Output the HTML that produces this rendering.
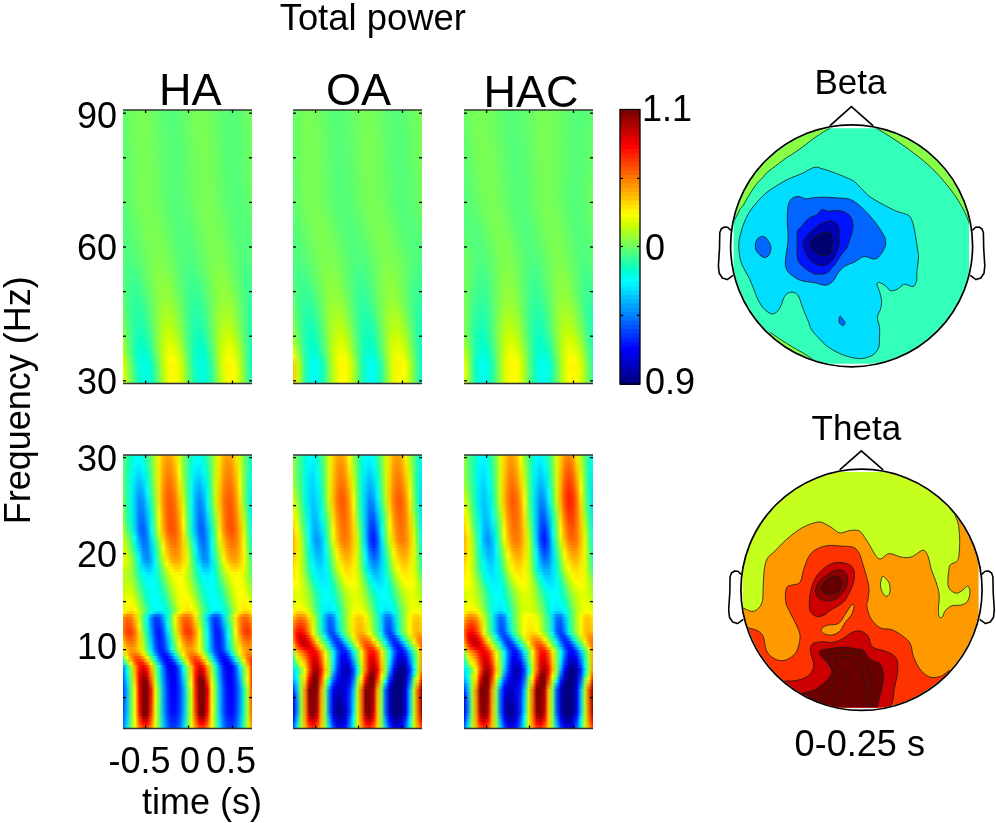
<!DOCTYPE html>
<html><head><meta charset="utf-8"><title>Total power</title>
<style>html,body{margin:0;padding:0;background:#fff;width:996px;height:823px;overflow:hidden;position:relative} svg{display:block} .hm{position:absolute;overflow:hidden} .hm p{margin:0;height:3px} .cl{fill:none;stroke:#1a1a1a;stroke-width:0.8} .cf{stroke:#1a1a1a;stroke-width:0.8}</style>
</head><body>
<div class="hm" style="left:123px;top:110px;width:129px;height:274px">
<p style="height:4px;background:linear-gradient(90deg,#5eff6e,#69ff63,#73ff59,#78ff54,#76ff56,#6fff5d,#63ff69,#59ff73,#54ff78,#55ff77,#5dff6f,#68ff64,#72ff5a,#78ff54,#77ff55,#6fff5d,#64ff68,#5aff72,#54ff78,#55ff77,#5dff6f,#67ff65,#72ff5a)"></p>
<p style="height:4px;background:linear-gradient(90deg,#5eff6e,#69ff63,#73ff59,#78ff54,#77ff55,#6fff5d,#64ff68,#5aff72,#54ff78,#55ff77,#5dff6f,#68ff64,#72ff5a,#78ff54,#77ff55,#70ff5c,#65ff67,#5aff72,#54ff78,#55ff77,#5cff70,#67ff65,#72ff5a)"></p>
<p style="height:4px;background:linear-gradient(90deg,#5dff6f,#68ff64,#73ff59,#78ff54,#77ff55,#6fff5d,#64ff68,#5aff72,#54ff78,#55ff77,#5cff70,#67ff65,#72ff5a,#78ff54,#77ff55,#70ff5c,#65ff67,#5bff71,#54ff78,#55ff77,#5cff70,#66ff66,#71ff5b)"></p>
<p style="height:4px;background:linear-gradient(90deg,#5dff6f,#68ff64,#72ff5a,#78ff54,#77ff55,#6fff5d,#64ff68,#5aff72,#54ff78,#55ff77,#5cff70,#67ff65,#72ff5a,#78ff54,#77ff55,#70ff5c,#66ff66,#5bff71,#54ff78,#55ff77,#5bff71,#66ff66,#71ff5b)"></p>
<p style="height:4px;background:linear-gradient(90deg,#5dff6f,#68ff64,#72ff5a,#78ff54,#77ff55,#70ff5c,#65ff67,#5aff72,#54ff78,#55ff77,#5cff70,#67ff65,#71ff5b,#78ff54,#77ff55,#71ff5b,#66ff66,#5bff71,#55ff77,#54ff78,#5bff71,#65ff67,#70ff5c)"></p>
<p style="height:4px;background:linear-gradient(90deg,#5cff70,#67ff65,#72ff5a,#78ff54,#77ff55,#70ff5c,#65ff67,#5bff71,#54ff78,#55ff77,#5bff71,#66ff66,#71ff5b,#77ff55,#78ff54,#71ff5b,#66ff66,#5cff70,#55ff77,#54ff78,#5aff72,#65ff67,#70ff5c)"></p>
<p style="height:4px;background:linear-gradient(90deg,#5cff70,#67ff65,#72ff5a,#78ff54,#77ff55,#70ff5c,#66ff66,#5bff71,#54ff78,#55ff77,#5bff71,#66ff66,#70ff5c,#77ff55,#78ff54,#71ff5b,#67ff65,#5cff70,#55ff77,#54ff78,#5aff72,#64ff68,#6fff5d)"></p>
<p style="height:4px;background:linear-gradient(90deg,#5cff70,#67ff65,#71ff5b,#78ff54,#77ff55,#71ff5b,#66ff66,#5bff71,#55ff77,#54ff78,#5bff71,#65ff67,#70ff5c,#77ff55,#78ff54,#72ff5a,#67ff65,#5cff70,#55ff77,#54ff78,#5aff72,#64ff68,#6fff5d)"></p>
<p style="height:4px;background:linear-gradient(90deg,#5cff70,#66ff66,#71ff5b,#77ff55,#77ff55,#71ff5b,#66ff66,#5cff70,#55ff77,#54ff78,#5aff72,#65ff67,#70ff5c,#77ff55,#78ff54,#72ff5a,#68ff64,#5dff6f,#55ff77,#54ff78,#59ff73,#64ff68,#6fff5d)"></p>
<p style="height:4px;background:linear-gradient(90deg,#5bff71,#66ff66,#71ff5b,#77ff55,#78ff54,#71ff5b,#67ff65,#5cff70,#55ff77,#54ff78,#5aff72,#65ff67,#6fff5d,#77ff55,#78ff54,#72ff5a,#68ff64,#5dff6f,#55ff77,#54ff78,#59ff73,#63ff69,#6eff5e)"></p>
<p style="height:4px;background:linear-gradient(90deg,#5bff71,#66ff66,#70ff5c,#77ff55,#78ff54,#72ff5a,#67ff65,#5cff70,#55ff77,#54ff78,#5aff72,#64ff68,#6fff5d,#77ff55,#78ff54,#73ff59,#69ff63,#5eff6e,#56ff76,#54ff78,#59ff73,#63ff69,#6eff5e)"></p>
<p style="height:4px;background:linear-gradient(90deg,#5bff71,#65ff67,#70ff5c,#77ff55,#78ff54,#72ff5a,#67ff65,#5dff6f,#55ff77,#54ff78,#5aff72,#64ff68,#6fff5d,#76ff56,#78ff54,#73ff59,#69ff63,#5eff6e,#56ff76,#54ff78,#58ff74,#62ff6a,#6dff5f)"></p>
<p style="height:4px;background:linear-gradient(90deg,#5bff71,#65ff67,#70ff5c,#77ff55,#78ff54,#72ff5a,#68ff64,#5dff6f,#55ff77,#54ff78,#59ff73,#63ff69,#6eff5e,#76ff56,#78ff54,#73ff59,#6aff62,#5eff6e,#56ff76,#54ff78,#58ff74,#62ff6a,#6dff5f)"></p>
<p style="height:4px;background:linear-gradient(90deg,#5aff72,#65ff67,#70ff5c,#77ff55,#78ff54,#72ff5a,#68ff64,#5dff6f,#55ff77,#54ff78,#59ff73,#63ff69,#6eff5e,#76ff56,#78ff54,#74ff58,#6aff62,#5fff6d,#56ff76,#54ff78,#58ff74,#61ff6b,#6cff60)"></p>
<p style="height:4px;background:linear-gradient(90deg,#5aff72,#64ff68,#6fff5d,#77ff55,#78ff54,#73ff59,#69ff63,#5eff6e,#56ff76,#54ff78,#59ff73,#63ff69,#6eff5e,#76ff56,#78ff54,#74ff58,#6aff62,#5fff6d,#57ff75,#54ff78,#57ff75,#61ff6b,#6cff60)"></p>
<p style="height:4px;background:linear-gradient(90deg,#5aff72,#64ff68,#6fff5d,#77ff55,#78ff54,#73ff59,#69ff63,#5eff6e,#56ff76,#54ff78,#58ff74,#62ff6a,#6dff5f,#76ff56,#78ff54,#74ff58,#6bff61,#60ff6c,#57ff75,#54ff78,#57ff75,#60ff6c,#6bff61)"></p>
<p style="height:4px;background:linear-gradient(90deg,#5aff72,#64ff68,#6fff5d,#76ff56,#78ff54,#73ff59,#69ff63,#5eff6e,#56ff76,#54ff78,#58ff74,#62ff6a,#6dff5f,#75ff57,#78ff54,#74ff58,#6bff61,#60ff6c,#57ff75,#54ff78,#57ff75,#60ff6c,#6bff61)"></p>
<p style="height:4px;background:linear-gradient(90deg,#59ff73,#63ff69,#6eff5e,#76ff56,#78ff54,#73ff59,#6aff62,#5fff6d,#56ff76,#54ff78,#58ff74,#61ff6b,#6cff60,#75ff57,#78ff54,#75ff57,#6cff60,#61ff6b,#57ff75,#54ff78,#57ff75,#5fff6d,#6aff62)"></p>
<p style="height:4px;background:linear-gradient(90deg,#59ff73,#63ff69,#6eff5e,#76ff56,#78ff54,#74ff58,#6aff62,#5fff6d,#56ff76,#54ff78,#58ff74,#61ff6b,#6cff60,#75ff57,#78ff54,#75ff57,#6cff60,#61ff6b,#58ff74,#54ff78,#56ff76,#5fff6d,#6aff62)"></p>
<p style="height:4px;background:linear-gradient(90deg,#59ff73,#63ff69,#6eff5e,#76ff56,#78ff54,#74ff58,#6aff62,#5fff6d,#57ff75,#54ff78,#57ff75,#61ff6b,#6cff60,#75ff57,#78ff54,#75ff57,#6dff5f,#61ff6b,#58ff74,#54ff78,#56ff76,#5eff6e,#69ff63)"></p>
<p style="height:4px;background:linear-gradient(90deg,#59ff73,#63ff69,#6eff5e,#76ff56,#78ff54,#74ff58,#6bff61,#60ff6c,#57ff75,#54ff78,#57ff75,#60ff6c,#6bff61,#74ff58,#78ff54,#75ff57,#6dff5f,#62ff6a,#58ff74,#54ff78,#56ff76,#5eff6e,#69ff63)"></p>
<p style="height:4px;background:linear-gradient(90deg,#59ff73,#62ff6a,#6dff5f,#76ff56,#78ff54,#74ff58,#6bff61,#60ff6c,#57ff75,#54ff78,#57ff75,#60ff6c,#6bff61,#74ff58,#78ff54,#76ff56,#6dff5f,#62ff6a,#59ff73,#54ff78,#56ff76,#5dff6f,#68ff64)"></p>
<p style="height:4px;background:linear-gradient(90deg,#58ff74,#62ff6a,#6dff5f,#75ff57,#78ff54,#74ff58,#6bff61,#60ff6c,#57ff75,#54ff78,#57ff75,#5fff6d,#6aff62,#74ff58,#78ff54,#76ff56,#6eff5e,#63ff69,#59ff73,#54ff78,#55ff77,#5dff6f,#68ff64)"></p>
<p style="height:4px;background:linear-gradient(90deg,#57ff75,#60ff6c,#6cff60,#75ff57,#79ff53,#76ff56,#6dff5f,#62ff6a,#58ff74,#53ff79,#56ff76,#5eff6e,#69ff63,#73ff59,#78ff54,#77ff55,#6fff5d,#64ff68,#5aff72,#54ff78,#54ff78,#5cff70,#66ff66)"></p>
<p style="height:4px;background:linear-gradient(90deg,#56ff76,#5eff6e,#6aff62,#74ff58,#79ff53,#77ff55,#6fff5d,#63ff69,#59ff73,#53ff79,#54ff78,#5cff70,#67ff65,#72ff5a,#79ff53,#78ff54,#71ff5b,#66ff66,#5bff71,#54ff78,#54ff78,#5aff72,#65ff67)"></p>
<p style="height:4px;background:linear-gradient(90deg,#54ff78,#5dff6f,#68ff64,#73ff59,#79ff53,#78ff54,#70ff5c,#65ff67,#5aff72,#53ff79,#53ff79,#5bff71,#66ff66,#71ff5b,#78ff54,#79ff53,#72ff5a,#67ff65,#5cff70,#54ff78,#53ff79,#59ff73,#63ff69)"></p>
<p style="height:4px;background:linear-gradient(90deg,#53ff79,#5bff71,#66ff66,#72ff5a,#79ff53,#79ff53,#72ff5a,#67ff65,#5bff71,#53ff79,#53ff79,#59ff73,#64ff68,#70ff5c,#78ff54,#7aff52,#74ff58,#69ff63,#5dff6f,#54ff78,#52ff7a,#57ff75,#62ff6a)"></p>
<p style="height:4px;background:linear-gradient(90deg,#52ff7a,#59ff73,#65ff67,#71ff5b,#79ff53,#7aff52,#74ff58,#69ff63,#5cff70,#54ff78,#52ff7a,#57ff75,#62ff6a,#6fff5d,#78ff54,#7aff52,#75ff57,#6bff61,#5eff6e,#55ff77,#52ff7a,#56ff76,#60ff6c)"></p>
<p style="height:4px;background:linear-gradient(90deg,#51ff7b,#57ff75,#63ff69,#6fff5d,#78ff54,#7bff51,#75ff57,#6aff62,#5eff6e,#54ff78,#51ff7b,#56ff76,#61ff6b,#6dff5f,#77ff55,#7bff51,#77ff55,#6dff5f,#60ff6c,#55ff77,#51ff7b,#55ff77,#5eff6e)"></p>
<p style="height:4px;background:linear-gradient(90deg,#51ff7b,#56ff76,#61ff6b,#6dff5f,#78ff54,#7bff51,#77ff55,#6cff60,#5fff6d,#55ff77,#51ff7b,#54ff78,#5fff6d,#6cff60,#76ff56,#7bff51,#78ff54,#6eff5e,#61ff6b,#56ff76,#51ff7b,#53ff79,#5dff6f)"></p>
<p style="height:4px;background:linear-gradient(90deg,#50ff7c,#54ff78,#5fff6d,#6cff60,#77ff55,#7cff50,#78ff54,#6eff5e,#61ff6b,#56ff76,#51ff7b,#53ff79,#5dff6f,#6aff62,#75ff57,#7bff51,#79ff53,#70ff5c,#63ff69,#57ff75,#51ff7b,#52ff7a,#5bff71)"></p>
<p style="height:4px;background:linear-gradient(90deg,#50ff7c,#53ff79,#5cff70,#6aff62,#76ff56,#7cff50,#7aff52,#70ff5c,#63ff69,#57ff75,#50ff7c,#52ff7a,#5bff71,#68ff64,#74ff58,#7bff51,#7aff52,#72ff5a,#65ff67,#58ff74,#51ff7b,#51ff7b,#59ff73)"></p>
<p style="height:4px;background:linear-gradient(90deg,#50ff7c,#51ff7b,#5aff72,#68ff64,#74ff58,#7cff50,#7bff51,#72ff5a,#65ff67,#58ff74,#50ff7c,#51ff7b,#59ff73,#66ff66,#73ff59,#7bff51,#7bff51,#74ff58,#67ff65,#5aff72,#51ff7b,#50ff7c,#58ff74)"></p>
<p style="height:4px;background:linear-gradient(90deg,#50ff7c,#50ff7c,#58ff74,#66ff66,#73ff59,#7cff50,#7cff50,#74ff58,#67ff65,#5aff72,#51ff7b,#50ff7c,#57ff75,#64ff68,#72ff5a,#7bff51,#7cff50,#75ff57,#69ff63,#5bff71,#51ff7b,#50ff7c,#56ff76)"></p>
<p style="height:4px;background:linear-gradient(90deg,#51ff7b,#4fff7d,#57ff75,#64ff68,#71ff5b,#7bff51,#7dff4f,#76ff56,#69ff63,#5bff71,#51ff7b,#4fff7d,#55ff77,#62ff6a,#70ff5c,#7aff52,#7dff4f,#77ff55,#6bff61,#5cff70,#52ff7a,#4fff7d,#55ff77)"></p>
<p style="height:4px;background:linear-gradient(90deg,#51ff7b,#4fff7d,#55ff77,#61ff6b,#70ff5c,#7aff52,#7eff4e,#78ff54,#6bff61,#5dff6f,#52ff7a,#4eff7e,#54ff78,#60ff6c,#6fff5d,#7aff52,#7eff4e,#79ff53,#6dff5f,#5eff6e,#53ff79,#4eff7e,#53ff79)"></p>
<p style="height:4px;background:linear-gradient(90deg,#52ff7a,#4eff7e,#53ff79,#5fff6d,#6eff5e,#7aff52,#7eff4e,#79ff53,#6eff5e,#5fff6d,#53ff79,#4eff7e,#52ff7a,#5eff6e,#6dff5f,#79ff53,#7eff4e,#7aff52,#6fff5d,#60ff6c,#53ff79,#4eff7e,#52ff7a)"></p>
<p style="height:4px;background:linear-gradient(90deg,#53ff79,#4eff7e,#51ff7b,#5dff6f,#6cff60,#79ff53,#7eff4e,#7bff51,#70ff5c,#61ff6b,#54ff78,#4eff7e,#51ff7b,#5cff70,#6bff61,#78ff54,#7eff4e,#7bff51,#71ff5b,#62ff6a,#54ff78,#4eff7e,#50ff7c)"></p>
<p style="height:4px;background:linear-gradient(90deg,#52ff7a,#4bff81,#4eff7e,#5aff72,#6aff62,#79ff53,#81ff4b,#7eff4e,#73ff59,#62ff6a,#53ff79,#4bff81,#4dff7f,#59ff73,#69ff63,#78ff54,#80ff4c,#7fff4d,#73ff59,#63ff69,#54ff78,#4bff81,#4dff7f)"></p>
<p style="height:4px;background:linear-gradient(90deg,#52ff7a,#48ff84,#4aff82,#56ff76,#69ff63,#79ff53,#83ff49,#81ff4b,#76ff56,#64ff68,#53ff79,#48ff84,#49ff83,#55ff77,#67ff65,#78ff54,#82ff4a,#82ff4a,#77ff55,#65ff67,#53ff79,#49ff83,#49ff83)"></p>
<p style="height:4px;background:linear-gradient(90deg,#51ff7b,#46ff86,#46ff86,#53ff79,#66ff66,#79ff53,#84ff48,#84ff48,#79ff53,#66ff66,#53ff79,#46ff86,#46ff86,#52ff7a,#65ff67,#78ff54,#84ff48,#85ff47,#7aff52,#67ff65,#54ff78,#47ff85,#45ff87)"></p>
<p style="height:4px;background:linear-gradient(90deg,#52ff7a,#44ff88,#42ff8a,#4fff7d,#64ff68,#78ff54,#86ff46,#87ff45,#7cff50,#69ff63,#53ff79,#44ff88,#42ff8a,#4eff7e,#62ff6a,#77ff55,#85ff47,#88ff44,#7dff4f,#6aff62,#54ff78,#45ff87,#42ff8a)"></p>
<p style="height:4px;background:linear-gradient(90deg,#53ff79,#42ff8a,#3fff8d,#4bff81,#61ff6b,#77ff55,#87ff45,#8aff42,#80ff4c,#6cff60,#54ff78,#43ff89,#3fff8d,#49ff83,#5fff6d,#76ff56,#86ff46,#8aff42,#81ff4b,#6dff5f,#55ff77,#43ff89,#3eff8e)"></p>
<p style="height:4px;background:linear-gradient(90deg,#54ff78,#41ff8b,#3bff91,#46ff86,#5dff6f,#76ff56,#88ff44,#8dff3f,#84ff48,#6fff5d,#56ff76,#42ff8a,#3bff91,#45ff87,#5bff71,#74ff58,#87ff45,#8dff3f,#85ff47,#70ff5c,#57ff75,#42ff8a,#3bff91)"></p>
<p style="height:4px;background:linear-gradient(90deg,#56ff76,#40ff8c,#38ff94,#42ff8a,#59ff73,#74ff58,#88ff44,#90ff3c,#87ff45,#73ff59,#58ff74,#41ff8b,#38ff94,#41ff8b,#57ff75,#72ff5a,#87ff45,#90ff3c,#88ff44,#74ff58,#59ff73,#42ff8a,#38ff94)"></p>
<p style="height:4px;background:linear-gradient(90deg,#58ff74,#3fff8d,#35ff97,#3dff8f,#55ff77,#71ff5b,#88ff44,#92ff3a,#8bff41,#76ff56,#5aff72,#41ff8b,#35ff97,#3cff90,#53ff79,#70ff5c,#87ff45,#92ff3a,#8cff40,#78ff54,#5cff70,#42ff8a,#35ff97)"></p>
<p style="height:4px;background:linear-gradient(90deg,#5bff71,#40ff8c,#32ff9a,#39ff93,#50ff7c,#6fff5d,#88ff44,#94ff38,#8fff3d,#7aff52,#5dff6f,#41ff8b,#33ff99,#38ff94,#4eff7e,#6dff5f,#87ff45,#94ff38,#90ff3c,#7cff50,#5fff6d,#42ff8a,#33ff99)"></p>
<p style="height:4px;background:linear-gradient(90deg,#5fff6d,#40ff8c,#30ff9c,#34ff98,#4bff81,#6cff60,#87ff45,#96ff36,#93ff39,#7fff4d,#61ff6b,#42ff8a,#30ff9c,#33ff99,#49ff83,#6aff62,#86ff46,#95ff37,#94ff38,#80ff4c,#63ff69,#43ff89,#31ff9b)"></p>
<p style="height:4px;background:linear-gradient(90deg,#62ff6a,#40ff8c,#2dff9f,#30ff9c,#47ff85,#6aff62,#89ff43,#9bff31,#99ff33,#84ff48,#64ff68,#42ff8a,#2eff9e,#2fff9d,#46ff86,#69ff63,#88ff44,#9bff31,#99ff33,#85ff47,#65ff67,#43ff89,#2eff9e)"></p>
<p style="height:4px;background:linear-gradient(90deg,#66ff66,#41ff8b,#2bffa1,#2cffa0,#44ff88,#69ff63,#8bff41,#a0ff2c,#9fff2d,#89ff43,#67ff65,#42ff8a,#2bffa1,#2cffa0,#43ff89,#68ff64,#8bff41,#a0ff2c,#9fff2d,#8aff42,#67ff65,#42ff8a,#2bffa1)"></p>
<p style="height:4px;background:linear-gradient(90deg,#6aff62,#42ff8a,#29ffa3,#28ffa4,#40ff8c,#67ff65,#8dff3f,#a4ff28,#a5ff27,#8fff3d,#6aff62,#42ff8a,#29ffa3,#28ffa4,#40ff8c,#67ff65,#8dff3f,#a5ff27,#a5ff27,#8fff3d,#6aff62,#42ff8a,#29ffa3)"></p>
<p style="height:4px;background:linear-gradient(90deg,#6fff5d,#44ff88,#27ffa5,#24ffa8,#3bff91,#64ff68,#8eff3e,#a9ff23,#acff20,#95ff37,#6eff5e,#43ff89,#27ffa5,#24ffa8,#3cff90,#65ff67,#8fff3d,#a9ff23,#abff21,#94ff38,#6cff60,#42ff8a,#26ffa6)"></p>
<p style="height:4px;background:linear-gradient(90deg,#74ff58,#46ff86,#26ffa6,#20ffac,#37ff95,#61ff6b,#8eff3e,#adff1f,#b2ff1a,#9bff31,#72ff5a,#44ff88,#25ffa7,#20ffac,#38ff94,#64ff68,#90ff3c,#aeff1e,#b1ff1b,#99ff33,#6fff5d,#42ff8a,#24ffa8)"></p>
<p style="height:4px;background:linear-gradient(90deg,#7aff52,#49ff83,#25ffa7,#1cffb0,#32ff9a,#5eff6e,#8eff3e,#b1ff1b,#b8ff14,#a2ff2a,#76ff56,#45ff87,#23ffa9,#1dffaf,#35ff97,#62ff6a,#91ff3b,#b2ff1a,#b8ff14,#9fff2d,#72ff5a,#42ff8a,#22ffaa)"></p>
<p style="height:4px;background:linear-gradient(90deg,#80ff4c,#4cff80,#24ffa8,#18ffb4,#2dff9f,#5aff72,#8eff3e,#b4ff18,#beff0e,#a8ff24,#7bff51,#47ff85,#22ffaa,#19ffb3,#31ff9b,#5fff6d,#92ff3a,#b7ff15,#beff0e,#a5ff27,#76ff56,#43ff89,#1fffad)"></p>
<p style="height:4px;background:linear-gradient(90deg,#86ff46,#4fff7d,#23ffa9,#13ffb9,#27ffa5,#56ff76,#8eff3e,#b9ff13,#c6ff06,#b0ff1c,#81ff4b,#49ff83,#1fffad,#14ffb8,#2bffa1,#5cff70,#93ff39,#bcff10,#c5ff07,#acff20,#7aff52,#43ff89,#1cffb0)"></p>
<p style="height:4px;background:linear-gradient(90deg,#8eff3e,#51ff7b,#20ffac,#0dffbf,#20ffac,#51ff7b,#8eff3e,#beff0e,#cfff00,#baff12,#87ff45,#4bff81,#1cffb0,#0dffbf,#24ffa8,#58ff74,#94ff38,#c1ff0b,#ceff00,#b6ff16,#81ff4b,#45ff87,#19ffb3)"></p>
<p style="height:4px;background:linear-gradient(90deg,#96ff36,#55ff77,#1effae,#07ffc5,#19ffb3,#4cff80,#8dff3f,#c2ff0a,#d7ff00,#c4ff08,#8fff3d,#4eff7e,#1affb2,#07ffc5,#1dffaf,#53ff79,#94ff38,#c6ff06,#d7ff00,#bfff0d,#88ff44,#47ff85,#16ffb6)"></p>
<p style="height:4px;background:linear-gradient(90deg,#9eff2e,#59ff73,#1dffaf,#01ffcb,#11ffbb,#46ff86,#8cff40,#c6ff06,#e0ff00,#cdff00,#97ff35,#51ff7b,#18ffb4,#01ffcb,#16ffb6,#4dff7f,#93ff39,#cbff01,#e0ff00,#c9ff03,#90ff3c,#4aff82,#14ffb8)"></p>
<p style="height:4px;background:linear-gradient(90deg,#a7ff25,#5eff6e,#1cffb0,#00ffd0,#0affc2,#40ff8c,#8aff42,#caff02,#e8ff00,#d8ff00,#a0ff2c,#56ff76,#17ffb5,#00ffd1,#0effbe,#48ff84,#92ff3a,#cfff00,#e8ff00,#d3ff00,#98ff34,#4eff7e,#12ffba)"></p>
<p style="height:4px;background:linear-gradient(90deg,#b2ff1a,#65ff67,#1dffaf,#00ffd5,#01ffcb,#37ff95,#85ff47,#ccff00,#f0ff00,#e3ff00,#a9ff23,#5aff72,#16ffb6,#00ffd7,#06ffc6,#41ff8b,#90ff3c,#d4ff00,#f1ff00,#ddff00,#9fff2d,#50ff7c,#0fffbd)"></p>
<p style="height:4px;background:linear-gradient(90deg,#c1ff0b,#6eff5e,#20ffac,#00ffd9,#00ffd5,#2dff9f,#7eff4e,#cdff00,#f8ff00,#efff00,#b4ff18,#60ff6c,#15ffb7,#00ffdc,#00ffce,#3aff92,#8dff3f,#d8ff00,#fbff00,#e7ff00,#a6ff26,#51ff7b,#0bffc1)"></p>
<p style="height:4px;background:linear-gradient(90deg,#d0ff00,#7aff52,#25ffa7,#00ffdd,#00ffde,#21ffab,#75ff57,#cdff00,#fffe00,#fbff00,#bfff0d,#66ff66,#15ffb7,#00ffe2,#00ffd7,#32ff9a,#8aff42,#dcff00,#fffb00,#f2ff00,#adff1f,#52ff7a,#08ffc4)"></p>
<p style="height:4px;background:linear-gradient(90deg,#e0ff00,#87ff45,#2bffa1,#00ffdf,#00ffe7,#16ffb6,#6cff60,#cbff01,#fff900,#fff800,#cbff01,#6cff60,#16ffb6,#00ffe7,#00ffdf,#2affa2,#86ff46,#e0ff00,#fff300,#fcff00,#b4ff18,#54ff78,#04ffc8)"></p>
<p style="height:4px;background:linear-gradient(90deg,#e5ff00,#8dff3f,#30ff9c,#00ffdc,#00ffe8,#12ffba,#67ff65,#c7ff05,#fffa00,#fff700,#d0ff00,#71ff5b,#1affb2,#00ffe6,#00ffe0,#27ffa5,#82ff4a,#ddff00,#fff300,#feff00,#b7ff15,#57ff75,#07ffc5)"></p>
<p style="height:4px;background:linear-gradient(90deg,#e5ff00,#90ff3c,#34ff98,#00ffd9,#00ffe6,#11ffbb,#64ff68,#c2ff0a,#fffd00,#fff800,#d1ff00,#74ff58,#1effae,#00ffe2,#00ffdf,#26ffa6,#7eff4e,#d9ff00,#fff600,#feff00,#baff12,#5bff71,#0bffc1)"></p>
<p style="height:4px;background:linear-gradient(90deg,#e6ff00,#93ff39,#38ff94,#00ffd5,#00ffe4,#11ffbb,#61ff6b,#beff0e,#feff00,#fff900,#d2ff00,#78ff54,#22ffaa,#00ffdf,#00ffde,#24ffa8,#7aff52,#d4ff00,#fff900,#fdff00,#bbff11,#5eff6e,#0fffbd)"></p>
<p style="height:4px;background:linear-gradient(90deg,#e6ff00,#96ff36,#3cff90,#00ffd1,#00ffe2,#10ffbc,#5eff6e,#b9ff13,#faff00,#fffb00,#d3ff00,#7bff51,#26ffa6,#00ffdb,#00ffdc,#23ffa9,#77ff55,#d0ff00,#fffc00,#fcff00,#bdff0f,#62ff6a,#13ffb9)"></p>
<p style="height:2px;background:linear-gradient(90deg,#e6ff00,#98ff34,#3fff8d,#00ffce,#00ffe0,#10ffbc,#5bff71,#b6ff16,#f7ff00,#fffc00,#d4ff00,#7eff4e,#2affa2,#00ffd8,#00ffdb,#22ffaa,#74ff58,#ccff00,#fffe00,#fbff00,#bfff0d,#65ff67,#17ffb5)"></p>
</div><div class="hm" style="left:123px;top:455px;width:129px;height:274px">
<p style="background:linear-gradient(90deg,#54ff78,#31ff9b,#06ffc6,#00ffe9,#00fff1,#00ffd5,#2eff9e,#6bff61,#b7ff15,#ffed00,#ffb500,#ff9c00,#ffa800,#ffd500,#dbff00,#7cff50,#45ff87,#08ffc4,#00ffeb,#00ffef,#00ffcf,#36ff96,#72ff5a,#c4ff08,#ffe400,#ffb000,#ff9c00,#ffac00,#ffdd00,#cfff00,#77ff55,#3dff8f,#02ffca)"></p>
<p style="background:linear-gradient(90deg,#54ff78,#2eff9e,#01ffcb,#00fff2,#00fffc,#00ffdf,#27ffa5,#68ff64,#b6ff16,#ffeb00,#ffb200,#ff9800,#ffa200,#ffcf00,#e1ff00,#7dff4f,#44ff88,#03ffc9,#00fff4,#00fffa,#00ffd8,#30ff9c,#70ff5c,#c4ff08,#ffe200,#ffac00,#ff9700,#ffa700,#ffd800,#d3ff00,#77ff55,#3aff92,#00ffd1)"></p>
<p style="background:linear-gradient(90deg,#55ff77,#2cffa0,#00ffcf,#00fffa,#00f9ff,#00ffea,#1fffad,#65ff67,#b4ff18,#ffea00,#ffaf00,#ff9300,#ff9d00,#ffc900,#e8ff00,#7eff4e,#43ff89,#00ffcf,#00fffd,#00faff,#00ffe2,#2bffa1,#6eff5e,#c5ff07,#ffdf00,#ffa800,#ff9200,#ffa200,#ffd300,#d8ff00,#78ff54,#37ff95,#00ffd8)"></p>
<p style="background:linear-gradient(90deg,#57ff75,#2affa2,#00ffd4,#00fcff,#00f0ff,#00fff4,#18ffb4,#62ff6a,#b2ff1a,#ffe900,#ffac00,#ff8f00,#ff9700,#ffc300,#eeff00,#7eff4e,#42ff8a,#00ffd4,#00f9ff,#00f1ff,#00ffeb,#25ffa7,#6dff5f,#c6ff06,#ffdc00,#ffa400,#ff8e00,#ff9c00,#ffce00,#dcff00,#78ff54,#35ff97,#00ffdf)"></p>
<p style="background:linear-gradient(90deg,#58ff74,#28ffa4,#00ffd7,#00f6ff,#00e7ff,#00ffff,#10ffbc,#5eff6e,#b0ff1c,#ffe800,#ffa900,#ff8b00,#ff9200,#ffbd00,#f5ff00,#81ff4b,#42ff8a,#00ffd8,#00f1ff,#00e8ff,#00fff5,#1fffad,#6bff61,#c6ff06,#ffda00,#ffa000,#ff8900,#ff9700,#ffc900,#e1ff00,#78ff54,#33ff99,#00ffe6)"></p>
<p style="background:linear-gradient(90deg,#5aff72,#27ffa5,#00ffdb,#00efff,#00deff,#00f6ff,#08ffc4,#5aff72,#aeff1e,#ffe700,#ffa600,#ff8600,#ff8c00,#ffb700,#fcff00,#85ff47,#42ff8a,#00ffdd,#00eaff,#00dfff,#00fffe,#19ffb3,#69ff63,#c7ff05,#ffd700,#ff9c00,#ff8400,#ff9200,#ffc400,#e6ff00,#79ff53,#30ff9c,#00ffec)"></p>
<p style="background:linear-gradient(90deg,#5cff70,#25ffa7,#00ffde,#00e9ff,#00d5ff,#00ecff,#00ffcd,#56ff76,#abff21,#ffe600,#ffa300,#ff8200,#ff8700,#ffb100,#fffb00,#8aff42,#42ff8a,#00ffe1,#00e3ff,#00d6ff,#00f7ff,#13ffb9,#67ff65,#c7ff05,#ffd500,#ff9900,#ff8000,#ff8d00,#ffbf00,#ebff00,#79ff53,#2eff9e,#00fff3)"></p>
<p style="background:linear-gradient(90deg,#5eff6e,#24ffa8,#00ffe0,#00e4ff,#00ccff,#00e3ff,#00ffd5,#52ff7a,#a9ff23,#ffe500,#ffa100,#ff7e00,#ff8100,#ffaa00,#fff500,#8fff3d,#42ff8a,#00ffe5,#00dbff,#00cdff,#00efff,#0dffbf,#65ff67,#c8ff04,#ffd200,#ff9500,#ff7b00,#ff8800,#ffba00,#f1ff00,#7aff52,#2cffa0,#00fff9)"></p>
<p style="background:linear-gradient(90deg,#61ff6b,#23ffa9,#00ffe2,#00deff,#00c3ff,#00d9ff,#00ffde,#4dff7f,#a6ff26,#ffe500,#ff9e00,#ff7a00,#ff7c00,#ffa400,#ffef00,#95ff37,#43ff89,#00ffe9,#00d4ff,#00c4ff,#00e7ff,#06ffc6,#63ff69,#c8ff04,#ffd000,#ff9100,#ff7600,#ff8300,#ffb400,#f6ff00,#7aff52,#2bffa1,#00ffff)"></p>
<p style="background:linear-gradient(90deg,#64ff68,#23ffa9,#00ffe4,#00d9ff,#00baff,#00d0ff,#00ffe8,#48ff84,#a2ff2a,#ffe400,#ff9b00,#ff7500,#ff7600,#ff9e00,#ffe800,#9bff31,#44ff88,#00ffec,#00ceff,#00bbff,#00deff,#00ffcc,#60ff6c,#c9ff03,#ffcd00,#ff8d00,#ff7200,#ff7d00,#ffaf00,#fcff00,#7bff51,#29ffa3,#00faff)"></p>
<p style="background:linear-gradient(90deg,#68ff64,#22ffaa,#00ffe5,#00d4ff,#00b2ff,#00c6ff,#00fff1,#43ff89,#9eff2e,#ffe300,#ff9900,#ff7100,#ff7100,#ff9800,#ffe200,#a1ff2b,#45ff87,#00ffef,#00c7ff,#00b2ff,#00d6ff,#00ffd3,#5eff6e,#c9ff03,#ffca00,#ff8900,#ff6d00,#ff7800,#ffaa00,#fffd00,#7bff51,#28ffa4,#00f5ff)"></p>
<p style="background:linear-gradient(90deg,#6cff60,#22ffaa,#00ffe5,#00d0ff,#00aaff,#00bcff,#00fffb,#3eff8e,#99ff33,#ffe300,#ff9600,#ff6d00,#ff6c00,#ff9100,#ffdb00,#a8ff24,#47ff85,#00fff2,#00c1ff,#00a9ff,#00cdff,#00ffda,#5bff71,#c9ff03,#ffc800,#ff8600,#ff6800,#ff7300,#ffa400,#fff800,#7cff50,#27ffa5,#00f0ff)"></p>
<p style="background:linear-gradient(90deg,#70ff5c,#22ffaa,#00ffe5,#00ccff,#00a1ff,#00b2ff,#00faff,#38ff94,#94ff38,#ffe200,#ff9400,#ff6900,#ff6600,#ff8b00,#ffd400,#afff1d,#48ff84,#00fff4,#00baff,#00a0ff,#00c5ff,#00ffe1,#59ff73,#c9ff03,#ffc500,#ff8200,#ff6400,#ff6e00,#ff9f00,#fff300,#7dff4f,#25ffa7,#00ebff)"></p>
<p style="background:linear-gradient(90deg,#75ff57,#22ffaa,#00ffe5,#00c8ff,#0099ff,#00a8ff,#00f2ff,#32ff9a,#8eff3e,#ffe200,#ff9100,#ff6500,#ff6100,#ff8400,#ffcd00,#b6ff16,#4aff82,#00fff6,#00b4ff,#0097ff,#00bcff,#00ffe8,#56ff76,#c9ff03,#ffc300,#ff7e00,#ff5f00,#ff6900,#ff9900,#ffee00,#7dff4f,#25ffa7,#00e6ff)"></p>
<p style="background:linear-gradient(90deg,#7aff52,#22ffaa,#00ffe3,#00c5ff,#0091ff,#009eff,#00e9ff,#2cffa0,#85ff47,#ffe200,#ff8f00,#ff6100,#ff5c00,#ff7e00,#ffc600,#beff0e,#4cff80,#00fff8,#00aeff,#008eff,#00b3ff,#00ffef,#53ff79,#c9ff03,#ffc000,#ff7a00,#ff5b00,#ff6300,#ff9400,#ffe900,#7dff4f,#24ffa8,#00e2ff)"></p>
<p style="background:linear-gradient(90deg,#7fff4d,#23ffa9,#00ffe1,#00c4ff,#008cff,#0096ff,#00e0ff,#25ffa7,#7eff4e,#ffe400,#ff8f00,#ff6000,#ff5800,#ff7900,#ffc000,#c6ff06,#4fff7d,#00fff7,#00abff,#0087ff,#00abff,#00fff7,#4fff7d,#c5ff07,#ffc100,#ff7900,#ff5800,#ff6000,#ff8f00,#ffe300,#7eff4e,#26ffa6,#00e0ff)"></p>
<p style="background:linear-gradient(90deg,#82ff4a,#24ffa8,#00ffde,#00c4ff,#0088ff,#008fff,#00d8ff,#1dffaf,#7dff4f,#ffe900,#ff9100,#ff6000,#ff5700,#ff7600,#ffbb00,#ceff00,#54ff78,#00fff4,#00aaff,#0082ff,#00a3ff,#00fdff,#49ff83,#bdff0f,#ffc400,#ff7b00,#ff5800,#ff5d00,#ff8b00,#ffde00,#88ff44,#2affa2,#00e2ff)"></p>
<p style="background:linear-gradient(90deg,#85ff47,#24ffa8,#00ffda,#00c5ff,#0085ff,#0088ff,#00cfff,#15ffb7,#7aff52,#ffed00,#ff9400,#ff6100,#ff5500,#ff7200,#ffb600,#d6ff00,#58ff74,#00fff0,#00a9ff,#007dff,#009bff,#00f5ff,#42ff8a,#b5ff17,#ffc900,#ff7d00,#ff5800,#ff5b00,#ff8700,#ffd800,#94ff38,#2fff9d,#00e4ff)"></p>
<p style="background:linear-gradient(90deg,#89ff43,#25ffa7,#00ffd7,#00c6ff,#0082ff,#0081ff,#00c7ff,#0dffbf,#78ff54,#fff200,#ff9700,#ff6100,#ff5400,#ff6f00,#ffb100,#deff00,#5cff70,#00ffed,#00a9ff,#0079ff,#0093ff,#00edff,#3bff91,#acff20,#ffcd00,#ff7f00,#ff5800,#ff5900,#ff8300,#ffd300,#9fff2d,#33ff99,#00e6ff)"></p>
<p style="background:linear-gradient(90deg,#8eff3e,#26ffa6,#00ffd2,#00c7ff,#007fff,#007aff,#00beff,#04ffc8,#74ff58,#fff800,#ff9a00,#ff6200,#ff5200,#ff6c00,#ffac00,#e6ff00,#61ff6b,#00ffe9,#00a9ff,#0074ff,#008cff,#00e4ff,#34ff98,#a2ff2a,#ffd100,#ff8100,#ff5800,#ff5700,#ff7f00,#ffcd00,#a9ff23,#38ff94,#00e8ff)"></p>
<p style="background:linear-gradient(90deg,#93ff39,#27ffa5,#00ffce,#00c9ff,#007cff,#0074ff,#00b6ff,#00ffd1,#70ff5c,#fffd00,#ff9d00,#ff6300,#ff5100,#ff6900,#ffa800,#eeff00,#65ff67,#00ffe4,#00a9ff,#0070ff,#0084ff,#00dcff,#2cffa0,#98ff34,#ffd500,#ff8300,#ff5800,#ff5500,#ff7b00,#ffc800,#b3ff19,#3dff8f,#00ebff)"></p>
<p style="background:linear-gradient(90deg,#98ff34,#29ffa3,#03ffc9,#00cbff,#007aff,#006dff,#00adff,#00ffdb,#6cff60,#fbff00,#ffa000,#ff6400,#ff5000,#ff6600,#ffa300,#f6ff00,#69ff63,#00ffe0,#00aaff,#006cff,#007cff,#00d3ff,#24ffa8,#8cff40,#ffda00,#ff8600,#ff5800,#ff5300,#ff7700,#ffc300,#bcff10,#42ff8a,#00eeff)"></p>
<p style="background:linear-gradient(90deg,#9eff2e,#37ff95,#08ffc4,#00cdff,#0078ff,#0067ff,#00a5ff,#00ffe4,#67ff65,#f4ff00,#ffa300,#ff6500,#ff4f00,#ff6300,#ff9e00,#fdff00,#6dff5f,#00ffdb,#00abff,#0069ff,#0075ff,#00caff,#1cffb0,#7eff4e,#ffdf00,#ff8800,#ff5800,#ff5100,#ff7400,#ffbd00,#c5ff07,#47ff85,#00f1ff)"></p>
<p style="background:linear-gradient(90deg,#a5ff27,#42ff8a,#0dffbf,#00d0ff,#0076ff,#0061ff,#009cff,#00ffee,#62ff6a,#edff00,#ffa700,#ff6600,#ff4e00,#ff6000,#ff9a00,#fffa00,#71ff5b,#00ffd6,#00acff,#0065ff,#006eff,#00c1ff,#13ffb9,#7dff4f,#ffe300,#ff8b00,#ff5900,#ff5000,#ff7000,#ffb800,#cdff00,#4cff80,#00f4ff)"></p>
<p style="background:linear-gradient(90deg,#acff20,#4dff7f,#12ffba,#00d2ff,#0075ff,#005bff,#0093ff,#00fff8,#5dff6f,#e6ff00,#ffaa00,#ff6800,#ff4d00,#ff5d00,#ff9500,#fff400,#74ff58,#00ffd1,#00adff,#0062ff,#0066ff,#00b8ff,#0affc2,#7bff51,#ffe800,#ff8d00,#ff5900,#ff4e00,#ff6d00,#ffb300,#d6ff00,#51ff7b,#00f8ff)"></p>
<p style="background:linear-gradient(90deg,#b4ff18,#5dff6f,#1effae,#00dcff,#007aff,#005aff,#008cff,#00fbff,#54ff78,#d9ff00,#ffb300,#ff6e00,#ff5100,#ff5e00,#ff9200,#ffed00,#79ff53,#05ffc7,#00b4ff,#0065ff,#0063ff,#00b1ff,#00ffcc,#77ff55,#fff100,#ff9500,#ff5f00,#ff5100,#ff6d00,#ffb000,#deff00,#58ff74,#00ffff)"></p>
<p style="background:linear-gradient(90deg,#bdff0f,#71ff5b,#2eff9e,#00edff,#0088ff,#005eff,#0087ff,#00f0ff,#48ff84,#c6ff06,#ffc100,#ff7b00,#ff5b00,#ff6300,#ff9200,#ffe700,#7dff4f,#14ffb8,#00c2ff,#006eff,#0065ff,#00acff,#00ffd6,#71ff5b,#fffd00,#ffa100,#ff6900,#ff5900,#ff7100,#ffb000,#e6ff00,#5fff6d,#00fff3)"></p>
<p style="background:linear-gradient(90deg,#c6ff06,#82ff4a,#3cff90,#00feff,#0095ff,#0064ff,#0083ff,#00e6ff,#3cff90,#b2ff1a,#ffcf00,#ff8700,#ff6400,#ff6800,#ff9200,#ffe200,#8cff40,#22ffaa,#00cfff,#0077ff,#0068ff,#00a7ff,#00ffe0,#6bff61,#f3ff00,#ffac00,#ff7400,#ff6100,#ff7500,#ffb000,#ecff00,#67ff65,#00ffe6)"></p>
<p style="background:linear-gradient(90deg,#cdff00,#92ff3a,#49ff83,#00ffed,#00a4ff,#006bff,#0081ff,#00dcff,#30ff9c,#9eff2e,#ffdd00,#ff9400,#ff6e00,#ff6e00,#ff9400,#ffdd00,#9fff2d,#30ff9c,#00ddff,#0081ff,#006bff,#00a3ff,#00ffe9,#64ff68,#e4ff00,#ffb800,#ff7e00,#ff6900,#ff7a00,#ffb000,#f2ff00,#6dff5f,#00ffda)"></p>
<p style="background:linear-gradient(90deg,#d4ff00,#a0ff2c,#55ff77,#00ffda,#00b2ff,#0072ff,#007fff,#00d3ff,#23ffa9,#88ff44,#ffeb00,#ffa000,#ff7800,#ff7400,#ff9500,#ffd900,#aeff1e,#3dff8f,#00eaff,#008bff,#006eff,#00a0ff,#00fff2,#5cff70,#d6ff00,#ffc300,#ff8900,#ff7200,#ff7f00,#ffb100,#f7ff00,#72ff5a,#00ffcf)"></p>
<p style="background:linear-gradient(90deg,#daff00,#acff20,#5eff6e,#05ffc7,#00c1ff,#007bff,#007fff,#00cbff,#16ffb6,#7cff50,#fff900,#ffad00,#ff8200,#ff7b00,#ff9800,#ffd600,#bbff11,#49ff83,#00f7ff,#0096ff,#0073ff,#009eff,#00fffb,#54ff78,#c9ff03,#ffcf00,#ff9300,#ff7a00,#ff8500,#ffb300,#fbff00,#77ff55,#09ffc3)"></p>
<p style="background:linear-gradient(90deg,#dfff00,#b8ff14,#65ff67,#16ffb6,#00d0ff,#0084ff,#007fff,#00c4ff,#0affc2,#77ff55,#f6ff00,#ffb900,#ff8d00,#ff8200,#ff9b00,#ffd400,#c5ff07,#54ff78,#00fff9,#00a1ff,#0078ff,#009cff,#00fcff,#4cff80,#bbff11,#ffda00,#ff9e00,#ff8300,#ff8b00,#ffb500,#ffff00,#7bff51,#14ffb8)"></p>
<p style="background:linear-gradient(90deg,#e4ff00,#c2ff0a,#76ff56,#27ffa5,#00dfff,#008fff,#0081ff,#00beff,#00ffcf,#70ff5c,#e7ff00,#ffc600,#ff9700,#ff8a00,#ff9e00,#ffd300,#cfff00,#5eff6e,#00ffea,#00acff,#007eff,#009aff,#00f5ff,#44ff88,#aeff1e,#ffe500,#ffa800,#ff8c00,#ff9100,#ffb700,#fffd00,#7eff4e,#1effae)"></p>
<p style="background:linear-gradient(90deg,#e8ff00,#cbff01,#8aff42,#37ff95,#00efff,#0099ff,#0084ff,#00b8ff,#00ffda,#68ff64,#d7ff00,#ffd200,#ffa200,#ff9200,#ffa200,#ffd200,#d7ff00,#67ff65,#00ffdb,#00b8ff,#0084ff,#009aff,#00efff,#3bff91,#a1ff2b,#ffef00,#ffb300,#ff9500,#ff9700,#ffba00,#fffb00,#86ff46,#28ffa4)"></p>
<p style="background:linear-gradient(90deg,#ebff00,#d3ff00,#9aff32,#46ff86,#00feff,#00a5ff,#0088ff,#00b3ff,#00ffe6,#5eff6e,#c8ff04,#ffde00,#ffad00,#ff9a00,#ffa700,#ffd200,#deff00,#6fff5d,#00ffcc,#00c3ff,#008bff,#009aff,#00eaff,#33ff99,#93ff39,#fffa00,#ffbd00,#ff9e00,#ff9e00,#ffbd00,#fffa00,#92ff3a,#32ff9a)"></p>
<p style="background:linear-gradient(90deg,#e7ff00,#d3ff00,#a1ff2b,#4fff7d,#00ffef,#00b6ff,#0094ff,#00b6ff,#00ffef,#52ff7a,#b5ff17,#ffef00,#ffbd00,#ffa800,#ffb100,#ffd800,#deff00,#74ff58,#0dffbf,#00d3ff,#0099ff,#00a1ff,#00e6ff,#27ffa5,#81ff4b,#f2ff00,#ffcd00,#ffac00,#ffaa00,#ffc600,#fffd00,#9bff31,#3bff91)"></p>
<p style="background:linear-gradient(90deg,#dbff00,#ccff00,#a2ff2a,#55ff77,#00ffdf,#00cbff,#00a9ff,#00c0ff,#00fff5,#44ff88,#a0ff2c,#f9ff00,#ffd200,#ffbb00,#ffc100,#ffe300,#d9ff00,#76ff56,#18ffb4,#00e6ff,#00afff,#00b0ff,#00e7ff,#1affb2,#77ff55,#daff00,#ffe200,#ffc000,#ffbb00,#ffd300,#f8ff00,#9eff2e,#42ff8a)"></p>
<p style="background:linear-gradient(90deg,#d0ff00,#c4ff08,#a1ff2b,#5aff72,#00ffd1,#00dfff,#00beff,#00ccff,#00fff6,#37ff95,#8eff3e,#e1ff00,#ffe700,#ffce00,#ffd100,#ffef00,#d2ff00,#78ff54,#22ffaa,#00f7ff,#00c5ff,#00c1ff,#00ecff,#10ffbc,#6dff5f,#c4ff08,#fff700,#ffd500,#ffcd00,#ffe000,#eeff00,#9fff2d,#48ff84)"></p>
<p style="background:linear-gradient(90deg,#c3ff09,#bbff11,#9eff2e,#5eff6e,#08ffc4,#00f2ff,#00d3ff,#00dbff,#00fff4,#2cffa0,#7fff4d,#cbff01,#fffb00,#ffe200,#ffe200,#fffb00,#cbff01,#7eff4e,#2bffa1,#00fff5,#00dbff,#00d3ff,#00f3ff,#09ffc3,#62ff6a,#b0ff1c,#f1ff00,#ffe900,#ffdf00,#ffef00,#e3ff00,#9eff2e,#4eff7e)"></p>
<p style="background:linear-gradient(90deg,#b6ff16,#b2ff1a,#9bff31,#62ff6a,#14ffb8,#00fff8,#00e8ff,#00ebff,#00ffed,#24ffa8,#74ff58,#b7ff15,#ecff00,#fff500,#fff300,#f4ff00,#c2ff0a,#81ff4b,#33ff99,#00ffe2,#00f0ff,#00e6ff,#00fdff,#07ffc5,#55ff77,#9eff2e,#daff00,#fffc00,#fff100,#fffd00,#d8ff00,#9cff30,#52ff7a)"></p>
<p style="background:linear-gradient(90deg,#b3ff19,#b2ff1a,#9eff2e,#6bff61,#21ffab,#00ffe7,#00f6ff,#00f5ff,#00ffec,#1bffb1,#66ff66,#a7ff25,#dbff00,#fcff00,#fffc00,#eeff00,#c2ff0a,#87ff45,#3eff8e,#00ffd2,#00feff,#00f2ff,#00fffc,#01ffcb,#47ff85,#8fff3d,#c9ff03,#f2ff00,#fffb00,#f9ff00,#d6ff00,#9fff2d,#5cff70)"></p>
<p style="background:linear-gradient(90deg,#baff12,#bbff11,#a8ff24,#76ff56,#30ff9c,#00ffda,#00fdff,#00f7ff,#00fff1,#0fffbd,#55ff77,#98ff34,#d0ff00,#f5ff00,#fffd00,#f2ff00,#caff02,#91ff3b,#4cff80,#08ffc4,#00fff5,#00f6ff,#00fffe,#00ffd4,#38ff94,#80ff4c,#bcff10,#e9ff00,#fffe00,#fbff00,#dcff00,#a8ff24,#69ff63)"></p>
<p style="background:linear-gradient(90deg,#beff0e,#c3ff09,#b1ff1b,#80ff4c,#3eff8e,#00ffcd,#00fff7,#00faff,#00fff4,#05ffc7,#45ff87,#89ff43,#c3ff09,#edff00,#ffff00,#f5ff00,#d1ff00,#9bff31,#59ff73,#15ffb7,#00ffea,#00fbff,#00fffe,#00ffdb,#2bffa1,#71ff5b,#aeff1e,#e0ff00,#fbff00,#fcff00,#e2ff00,#b1ff1b,#74ff58)"></p>
<p style="background:linear-gradient(90deg,#c2ff0a,#caff02,#baff12,#8bff41,#4aff82,#0cffc0,#00ffed,#00feff,#00fff5,#00ffcf,#37ff95,#7aff52,#b6ff16,#e4ff00,#fbff00,#f6ff00,#d8ff00,#a4ff28,#65ff67,#23ffa9,#00ffde,#00fffc,#00fffd,#00ffe1,#1fffad,#61ff6b,#a0ff2c,#d5ff00,#f5ff00,#fbff00,#e6ff00,#baff12,#7eff4e)"></p>
<p style="background:linear-gradient(90deg,#c5ff07,#cfff00,#c2ff0a,#94ff38,#56ff76,#19ffb3,#00ffe2,#00fffa,#00fff5,#00ffd6,#2bffa1,#6bff61,#a9ff23,#daff00,#f6ff00,#f7ff00,#ddff00,#adff1f,#70ff5c,#30ff9c,#00ffd2,#00fff4,#00fffa,#00ffe5,#15ffb7,#52ff7a,#92ff3a,#c9ff03,#eeff00,#faff00,#eaff00,#c2ff0a,#88ff44)"></p>
<p style="background:linear-gradient(90deg,#c9ff03,#d8ff00,#cdff00,#a1ff2b,#63ff69,#25ffa7,#00ffd9,#00fff6,#00fff7,#00ffdd,#1fffad,#5dff6f,#9dff2f,#d2ff00,#f4ff00,#fbff00,#e6ff00,#b9ff13,#7cff50,#3cff90,#04ffc8,#00ffee,#00fffa,#00ffea,#0affc2,#44ff88,#84ff48,#bfff0d,#eaff00,#fbff00,#f1ff00,#ccff00,#95ff37)"></p>
<p style="background:linear-gradient(90deg,#d0ff00,#e3ff00,#dbff00,#b0ff1c,#71ff5b,#31ff9b,#00ffd1,#00fff3,#00fffb,#00ffe6,#12ffba,#4fff7d,#91ff3b,#ccff00,#f3ff00,#fffe00,#f1ff00,#c7ff05,#8bff41,#49ff83,#0effbe,#00ffe9,#00fffb,#00fff1,#00ffcd,#36ff96,#77ff55,#b7ff15,#e7ff00,#ffff00,#faff00,#daff00,#a4ff28)"></p>
<p style="background:linear-gradient(90deg,#d5ff00,#edff00,#e8ff00,#bfff0d,#80ff4c,#3dff8f,#04ffc8,#00fff0,#00fffd,#00ffee,#06ffc6,#41ff8b,#84ff48,#c4ff08,#f2ff00,#fffa00,#fcff00,#d5ff00,#9aff32,#56ff76,#18ffb4,#00ffe3,#00fffb,#00fff7,#00ffd8,#29ffa3,#69ff63,#acff20,#e3ff00,#fffd00,#fffc00,#e7ff00,#b3ff19)"></p>
<p style="background:linear-gradient(90deg,#d9ff00,#f6ff00,#f5ff00,#cfff00,#90ff3c,#4bff81,#0effbe,#00ffeb,#00fffe,#00fff5,#00ffd1,#33ff99,#76ff56,#baff12,#eeff00,#fff700,#fffa00,#e4ff00,#aaff22,#64ff68,#24ffa8,#00ffdc,#00fffa,#00fffc,#00ffe2,#1bffb1,#5bff71,#a1ff2b,#dcff00,#fffc00,#fff600,#f4ff00,#c3ff09)"></p>
<p style="background:linear-gradient(90deg,#daff00,#fcff00,#fffe00,#deff00,#a0ff2c,#59ff73,#19ffb3,#00ffe5,#00fffe,#00fffb,#00ffdc,#25ffa7,#66ff66,#aeff1e,#e9ff00,#fff500,#fff300,#f1ff00,#bbff11,#74ff58,#30ff9c,#00ffd4,#00fff8,#00feff,#00ffec,#0effbe,#4cff80,#93ff39,#d5ff00,#fffd00,#fff000,#fffe00,#d2ff00)"></p>
<p style="background:linear-gradient(90deg,#d9ff00,#fffd00,#fff500,#ecff00,#b1ff1b,#67ff65,#25ffa7,#00ffdd,#00fffd,#00feff,#00ffe7,#17ffb5,#58ff74,#a2ff2a,#e2ff00,#fff500,#ffed00,#feff00,#cbff01,#85ff47,#3eff8e,#01ffcb,#00fff4,#00fcff,#00fff4,#02ffca,#3eff8e,#85ff47,#cbff01,#feff00,#ffed00,#fff500,#e2ff00)"></p>
<p style="background:linear-gradient(90deg,#d6ff00,#fffa00,#ffee00,#fbff00,#c2ff0a,#78ff54,#32ff9a,#00ffd5,#00fffa,#00fbff,#00fff0,#0affc2,#49ff83,#93ff39,#d9ff00,#fff600,#ffe800,#fff500,#dbff00,#96ff36,#4bff81,#0cffc0,#00ffef,#00fbff,#00fffb,#00ffd6,#2fff9d,#75ff57,#c0ff0c,#faff00,#ffea00,#ffed00,#f1ff00)"></p>
<p style="background:linear-gradient(90deg,#ffff00,#ffd500,#ffcb00,#ffe900,#d2ff00,#76ff56,#22ffaa,#00fffb,#00d5ff,#00caff,#00e5ff,#00ffd9,#49ff83,#a1ff2b,#f6ff00,#ffd600,#ffc400,#ffd600,#f6ff00,#a1ff2b,#49ff83,#00ffd9,#00e5ff,#00caff,#00d5ff,#00fffb,#22ffaa,#76ff56,#d2ff00,#ffe800,#ffc800,#ffca00,#ffed00)"></p>
<p style="background:linear-gradient(90deg,#ffb200,#ff8d00,#ff9500,#ffcd00,#cfff00,#5cff70,#00ffe2,#00b0ff,#0070ff,#0073ff,#00b6ff,#00ffd9,#61ff6b,#d8ff00,#ffc700,#ff8f00,#ff8300,#ffa600,#fff000,#99ff33,#32ff9a,#00e9ff,#008eff,#0069ff,#0088ff,#00e0ff,#29ffa3,#8fff3d,#fff700,#ffaa00,#ff8500,#ff8d00,#ffc100)"></p>
<p style="background:linear-gradient(90deg,#ff8600,#ff6400,#ff7700,#ffbd00,#cdff00,#54ff78,#00ffff,#0083ff,#003aff,#0046ff,#00a3ff,#00ffd3,#66ff66,#f5ff00,#ffa400,#ff6800,#ff5f00,#ff8900,#ffe100,#98ff34,#2bffa1,#00cfff,#0060ff,#0034ff,#0060ff,#00d1ff,#2cffa0,#9aff32,#ffe000,#ff8900,#ff5e00,#ff6800,#ffa500)"></p>
<p style="background:linear-gradient(90deg,#ff8100,#ff5a00,#ff6800,#ffad00,#e0ff00,#5cff70,#00fff3,#0088ff,#0036ff,#0039ff,#0091ff,#00ffe5,#61ff6b,#ecff00,#ffa500,#ff6200,#ff5300,#ff7a00,#ffd100,#a9ff23,#36ff96,#00d8ff,#0061ff,#002cff,#0051ff,#00bfff,#1dffaf,#8cff40,#ffe500,#ff8700,#ff5600,#ff5b00,#ff9500)"></p>
<p style="background:linear-gradient(90deg,#ff7d00,#ff4f00,#ff5a00,#ff9c00,#f3ff00,#62ff6a,#00ffe6,#008eff,#0032ff,#002dff,#0080ff,#00fff9,#5aff72,#e1ff00,#ffa700,#ff5d00,#ff4800,#ff6b00,#ffc000,#bbff11,#41ff8b,#00e2ff,#0064ff,#0025ff,#0042ff,#00adff,#0dffbf,#7eff4e,#ffeb00,#ff8700,#ff4f00,#ff4e00,#ff8500)"></p>
<p style="background:linear-gradient(90deg,#ff7a00,#ff4600,#ff4c00,#ff8c00,#fff900,#66ff66,#00ffd9,#0095ff,#0030ff,#0021ff,#006eff,#00f3ff,#51ff7b,#d6ff00,#ffaa00,#ff5900,#ff3d00,#ff5c00,#ffaf00,#ceff00,#4cff80,#00ecff,#0068ff,#0020ff,#0034ff,#009bff,#00ffd1,#6eff5e,#fff300,#ff8700,#ff4800,#ff4200,#ff7500)"></p>
<p style="background:linear-gradient(90deg,#ff7800,#ff3e00,#ff3e00,#ff7b00,#ffe800,#77ff55,#01ffcb,#009dff,#002fff,#0016ff,#005cff,#00e2ff,#45ff87,#c9ff03,#ffae00,#ff5600,#ff3300,#ff4d00,#ff9e00,#e1ff00,#55ff77,#00f7ff,#006eff,#001bff,#0026ff,#0089ff,#00ffe3,#65ff67,#fffb00,#ff8800,#ff4200,#ff3600,#ff6500)"></p>
<p style="background:linear-gradient(90deg,#ff8400,#ff4400,#ff3f00,#ff7500,#ffdd00,#88ff44,#0effbe,#00a7ff,#0034ff,#0011ff,#004eff,#00d0ff,#37ff95,#b8ff14,#ffbb00,#ff5f00,#ff3800,#ff4c00,#ff9800,#edff00,#5cff70,#00fffe,#0074ff,#001bff,#001eff,#007bff,#00fff4,#60ff6c,#f6ff00,#ff9300,#ff4900,#ff3900,#ff6300)"></p>
<p style="background:linear-gradient(90deg,#ff9c00,#ff5a00,#ff4e00,#ff7b00,#ffd800,#99ff33,#1bffb1,#00b3ff,#003dff,#0012ff,#0044ff,#00beff,#27ffa5,#a5ff27,#ffd000,#ff7600,#ff4c00,#ff5a00,#ff9e00,#f1ff00,#60ff6c,#00fff7,#007aff,#0020ff,#001cff,#0072ff,#00fcff,#5bff71,#e6ff00,#ffa400,#ff5d00,#ff4b00,#ff7100)"></p>
<p style="background:linear-gradient(90deg,#ffb500,#ff7100,#ff5f00,#ff8300,#ffd600,#a7ff25,#28ffa4,#00bfff,#0046ff,#0014ff,#003bff,#00adff,#14ffb8,#93ff39,#ffe400,#ff8b00,#ff6000,#ff6900,#ffa500,#f3ff00,#65ff67,#00fff0,#0081ff,#0024ff,#001bff,#0069ff,#00f0ff,#54ff78,#d8ff00,#ffb600,#ff7100,#ff5d00,#ff7f00)"></p>
<p style="background:linear-gradient(90deg,#ffcc00,#ff8700,#ff7000,#ff8d00,#ffd600,#b2ff1a,#34ff98,#00cbff,#0050ff,#0017ff,#0034ff,#009dff,#00ffcc,#83ff49,#fff700,#ffa100,#ff7400,#ff7800,#ffad00,#f3ff00,#6bff61,#00ffe9,#0087ff,#0029ff,#001aff,#0062ff,#00e4ff,#4bff81,#caff02,#ffc700,#ff8400,#ff7000,#ff8d00)"></p>
<p style="background:linear-gradient(90deg,#ffe300,#ff9e00,#ff8300,#ff9800,#ffd800,#bcff10,#40ff8c,#00d6ff,#005aff,#001aff,#002eff,#008eff,#00ffe1,#75ff57,#f3ff00,#ffb600,#ff8800,#ff8800,#ffb600,#f2ff00,#74ff58,#00ffe3,#008dff,#002dff,#001aff,#005bff,#00d8ff,#41ff8b,#bdff0f,#ffd700,#ff9700,#ff8200,#ff9c00)"></p>
<p style="background:linear-gradient(90deg,#fff900,#ffb400,#ff9600,#ffa400,#ffdb00,#c3ff09,#4dff7f,#00e2ff,#0064ff,#001eff,#0029ff,#007fff,#00fff7,#69ff63,#dfff00,#ffca00,#ff9c00,#ff9900,#ffc000,#f0ff00,#7cff50,#00ffdd,#0092ff,#0032ff,#001bff,#0054ff,#00ccff,#36ff96,#b0ff1c,#ffe700,#ffaa00,#ff9500,#ffab00)"></p>
<p style="background:linear-gradient(90deg,#e6ff00,#ffc100,#ff9400,#ff9500,#ffc400,#e3ff00,#6dff5f,#00fff9,#007dff,#0026ff,#001aff,#005bff,#00d7ff,#46ff86,#bfff0d,#ffda00,#ff9f00,#ff8f00,#ffae00,#fff500,#98ff34,#12ffba,#00abff,#003eff,#0015ff,#003bff,#00a5ff,#0bffc1,#93ff39,#fff900,#ffb000,#ff8f00,#ff9d00)"></p>
<p style="background:linear-gradient(90deg,#aeff1e,#ffd700,#ff8800,#ff6e00,#ff8d00,#ffdf00,#a5ff27,#1cffb0,#00aeff,#003cff,#000dff,#002bff,#008fff,#00ffda,#87ff45,#fff600,#ff9c00,#ff7000,#ff7d00,#ffc000,#cfff00,#52ff7a,#00dbff,#005bff,#0014ff,#0019ff,#0068ff,#00eeff,#64ff68,#e0ff00,#ffb500,#ff7800,#ff7200)"></p>
<p style="background:linear-gradient(90deg,#70ff5c,#faff00,#ff9400,#ff5400,#ff5800,#ffa000,#e8ff00,#66ff66,#00e7ff,#0060ff,#0010ff,#000aff,#0050ff,#00d0ff,#4eff7e,#d2ff00,#ffaf00,#ff5f00,#ff5000,#ff8600,#fff000,#83ff49,#00ffe8,#0081ff,#001fff,#0004ff,#0035ff,#00a8ff,#1bffb1,#aaff22,#ffce00,#ff7000,#ff4d00)"></p>
<p style="background:linear-gradient(90deg,#1dffaf,#b1ff1b,#ffba00,#ff5000,#ff2d00,#ff5d00,#ffcf00,#9aff32,#00ffce,#008eff,#0022ff,#0000f9,#001dff,#0085ff,#00ffdc,#90ff3c,#ffd800,#ff6400,#ff2e00,#ff4b00,#ffb000,#bdff0f,#2cffa0,#00afff,#0036ff,#0000fc,#000eff,#0067ff,#00f6ff,#74ff58,#fff800,#ff7b00,#ff3300)"></p>
<p style="background:linear-gradient(90deg,#00e5ff,#6fff5d,#fff700,#ff6900,#ff1400,#ff1e00,#ff8300,#e5ff00,#59ff73,#00c6ff,#0042ff,#0000f9,#0000fa,#0043ff,#00c8ff,#5cff70,#e6ff00,#ff8100,#ff1e00,#ff1500,#ff6a00,#fff900,#6fff5d,#00e5ff,#0057ff,#0002ff,#0000f4,#0030ff,#00abff,#30ff9c,#c6ff06,#ff9b00,#ff2b00)"></p>
<p style="background:linear-gradient(90deg,#008dff,#0dffbf,#b2ff1a,#ffa000,#ff1800,#ec0000,#ff3200,#ffc700,#8dff3f,#00fff3,#006dff,#0009ff,#0000e7,#000fff,#0079ff,#00ffdf,#9aff32,#ffb800,#ff2800,#eb0000,#ff2200,#ffaf00,#a3ff29,#00ffd3,#0081ff,#0014ff,#0000e7,#0005ff,#0066ff,#00ffff,#86ff46,#ffd000,#ff3900)"></p>
<p style="background:linear-gradient(90deg,#0076ff,#00ffe3,#9aff32,#ffaf00,#ff1100,#cf0000,#ff0e00,#ffaa00,#9fff2d,#00ffdc,#007bff,#0012ff,#0000e8,#0006ff,#0065ff,#00fdff,#86ff46,#ffc800,#ff2300,#d10000,#fd0000,#ff9100,#b6ff16,#11ffbb,#008eff,#001dff,#0000e9,#0000fd,#0054ff,#00e5ff,#76ff56,#ffe100,#ff3700)"></p>
<p style="background:linear-gradient(90deg,#006dff,#00fff6,#8fff3d,#ffb500,#ff0600,#b50000,#f00000,#ff9700,#a8ff24,#00ffd1,#0082ff,#0018ff,#0000eb,#0004ff,#005cff,#00eeff,#7dff4f,#ffd000,#ff1b00,#b80000,#e00000,#ff7c00,#c1ff0b,#1dffaf,#0095ff,#0023ff,#0000ed,#0000fb,#004cff,#00d6ff,#6fff5d,#ffea00,#ff3100)"></p>
<p style="background:linear-gradient(90deg,#0063ff,#00f7ff,#84ff48,#ffbe00,#fd0000,#9c0000,#d30000,#ff8300,#b1ff1b,#06ffc6,#0089ff,#001eff,#0000ef,#0002ff,#0054ff,#00e0ff,#74ff58,#ffda00,#ff1500,#a10000,#c20000,#ff6700,#ccff00,#2affa2,#009cff,#0029ff,#0000f1,#0000fb,#0045ff,#00c9ff,#6aff62,#fff500,#ff2e00)"></p>
<p style="background:linear-gradient(90deg,#005bff,#00e8ff,#7bff51,#ffc800,#f70000,#830000,#b50000,#ff6d00,#bbff11,#12ffba,#008fff,#0024ff,#0000f2,#0001ff,#004cff,#00d1ff,#6eff5e,#ffe500,#ff1200,#8a0000,#a40000,#ff4f00,#d8ff00,#39ff93,#00a3ff,#002fff,#0000f5,#0000fa,#003eff,#00bbff,#67ff65,#fcff00,#ff2e00)"></p>
<p style="background:linear-gradient(90deg,#0053ff,#00daff,#73ff59,#ffd400,#f30000,#800000,#960000,#ff5700,#c7ff05,#20ffac,#0096ff,#0029ff,#0000f6,#0000ff,#0045ff,#00c3ff,#69ff63,#fff200,#ff1100,#800000,#850000,#ff3700,#e5ff00,#4cff80,#00a9ff,#0035ff,#0000f9,#0000fa,#0038ff,#00aeff,#5bff71,#edff00,#ff3000)"></p>
<p style="background:linear-gradient(90deg,#004cff,#00cbff,#6dff5f,#ffe200,#f20000,#800000,#800000,#ff3f00,#d3ff00,#2fff9d,#009cff,#002fff,#0000fa,#0000ff,#003fff,#00b6ff,#67ff65,#feff00,#ff1300,#800000,#800000,#ff1e00,#f3ff00,#66ff66,#00b0ff,#003bff,#0000fe,#0000fb,#0033ff,#00a2ff,#3eff8e,#ddff00,#ff3500)"></p>
<p style="background:linear-gradient(90deg,#0045ff,#00beff,#69ff63,#fff000,#f40000,#800000,#800000,#ff2600,#e0ff00,#43ff89,#00a2ff,#0035ff,#0000fe,#0000ff,#0039ff,#00a9ff,#5eff6e,#edff00,#ff1800,#800000,#800000,#ff0300,#fffc00,#67ff65,#00b6ff,#0041ff,#0003ff,#0000fc,#002eff,#0096ff,#25ffa7,#ccff00,#ff3c00)"></p>
<p style="background:linear-gradient(90deg,#0040ff,#00b3ff,#67ff65,#fffd00,#f90000,#800000,#800000,#ff1000,#ecff00,#5dff6f,#00a7ff,#0039ff,#0003ff,#0001ff,#0035ff,#009fff,#40ff8c,#deff00,#ff1f00,#800000,#800000,#eb0000,#fff100,#69ff63,#00bbff,#0045ff,#0007ff,#0000fd,#002bff,#008dff,#10ffbc,#bfff0d,#ff4500)"></p>
<p style="background:linear-gradient(90deg,#0042ff,#00b4ff,#67ff65,#fffe00,#fc0000,#800000,#800000,#ff1400,#eaff00,#5dff6f,#00a8ff,#003bff,#0004ff,#0002ff,#0036ff,#00a0ff,#41ff8b,#ddff00,#ff2200,#800000,#800000,#ee0000,#fff200,#68ff64,#00bcff,#0046ff,#0008ff,#0000fe,#002cff,#008eff,#11ffbb,#beff0e,#ff4700)"></p>
<p style="background:linear-gradient(90deg,#0043ff,#00b4ff,#67ff65,#ffff00,#ff0100,#800000,#800000,#ff1700,#e9ff00,#5dff6f,#00a8ff,#003cff,#0005ff,#0004ff,#0037ff,#00a1ff,#41ff8b,#dcff00,#ff2500,#800000,#800000,#f20000,#fff300,#68ff64,#00bcff,#0048ff,#000aff,#0001ff,#002dff,#008fff,#11ffbb,#bdff0f,#ff4a00)"></p>
<p style="background:linear-gradient(90deg,#0044ff,#00b5ff,#67ff65,#fdff00,#ff0400,#800000,#800000,#ff1a00,#e8ff00,#5dff6f,#00a9ff,#003dff,#0007ff,#0005ff,#0039ff,#00a2ff,#41ff8b,#dbff00,#ff2800,#800000,#800000,#f60000,#fff400,#68ff64,#00bdff,#0049ff,#000bff,#0002ff,#002eff,#0090ff,#11ffbb,#bcff10,#ff4d00)"></p>
<p style="background:linear-gradient(90deg,#0045ff,#00b6ff,#67ff65,#fcff00,#ff0800,#800000,#800000,#ff1e00,#e7ff00,#5dff6f,#00aaff,#003eff,#0008ff,#0007ff,#003aff,#00a3ff,#41ff8b,#daff00,#ff2c00,#800000,#800000,#f90000,#fff600,#68ff64,#00beff,#004aff,#000cff,#0004ff,#0030ff,#0091ff,#11ffbb,#bbff11,#ff5000)"></p>
<p style="background:linear-gradient(90deg,#0046ff,#00b7ff,#67ff65,#fbff00,#ff0c00,#800000,#800000,#ff2100,#e5ff00,#5dff6f,#00abff,#003fff,#0009ff,#0008ff,#003bff,#00a3ff,#41ff8b,#d9ff00,#ff2f00,#800000,#800000,#fd0000,#fff700,#68ff64,#00bfff,#004bff,#000eff,#0005ff,#0031ff,#0091ff,#12ffba,#baff12,#ff5300)"></p>
<p style="background:linear-gradient(90deg,#0047ff,#00b7ff,#67ff65,#f9ff00,#ff0f00,#800000,#800000,#ff2400,#e4ff00,#5dff6f,#00acff,#0040ff,#000bff,#0009ff,#003cff,#00a4ff,#41ff8b,#d8ff00,#ff3200,#800000,#800000,#ff0200,#fff800,#68ff64,#00bfff,#004cff,#000fff,#0006ff,#0032ff,#0092ff,#12ffba,#baff12,#ff5600)"></p>
<p style="background:linear-gradient(90deg,#0049ff,#00b8ff,#67ff65,#f8ff00,#ff1300,#800000,#800000,#ff2800,#e3ff00,#5dff6f,#00acff,#0042ff,#000cff,#000bff,#003dff,#00a5ff,#41ff8b,#d7ff00,#ff3500,#800000,#800000,#ff0500,#fffa00,#68ff64,#00c0ff,#004dff,#0010ff,#0008ff,#0033ff,#0093ff,#12ffba,#b9ff13,#ff5900)"></p>
<p style="background:linear-gradient(90deg,#0050ff,#00bfff,#67ff65,#fbff00,#ff2300,#800000,#860000,#ff3600,#e7ff00,#5eff6e,#00b3ff,#0049ff,#0014ff,#0012ff,#0045ff,#00acff,#44ff88,#daff00,#ff4200,#8c0000,#800000,#ff1700,#fff800,#69ff63,#00c7ff,#0055ff,#0018ff,#000fff,#003bff,#009aff,#17ffb5,#bdff0f,#ff6200)"></p>
<p style="background:linear-gradient(90deg,#0059ff,#00c7ff,#68ff64,#fdff00,#ff3700,#a90000,#b00000,#ff4800,#eaff00,#5fff6d,#00bbff,#0052ff,#001dff,#001bff,#004eff,#00b4ff,#47ff85,#dfff00,#ff5200,#b50000,#a60000,#ff2d00,#fff600,#6aff62,#00ceff,#005eff,#0021ff,#0018ff,#0044ff,#00a2ff,#1cffb0,#c2ff0a,#ff6f00)"></p>
<p style="background:linear-gradient(90deg,#0062ff,#00ceff,#68ff64,#feff00,#ff4d00,#d50000,#db0000,#ff5b00,#edff00,#60ff6c,#00c3ff,#005bff,#0026ff,#0024ff,#0057ff,#00bcff,#49ff83,#e2ff00,#ff6500,#df0000,#d20000,#ff4400,#fff600,#6cff60,#00d5ff,#0066ff,#002aff,#0021ff,#004dff,#00aaff,#21ffab,#c7ff05,#ff7d00)"></p>
<p style="background:linear-gradient(90deg,#006aff,#00d5ff,#69ff63,#feff00,#ff6500,#ff0200,#ff0700,#ff7100,#eeff00,#61ff6b,#00caff,#0064ff,#002fff,#002dff,#005fff,#00c3ff,#4cff80,#e4ff00,#ff7900,#ff0b00,#ff0000,#ff5d00,#fff700,#6dff5f,#00ddff,#006fff,#0033ff,#002aff,#0055ff,#00b2ff,#26ffa6,#cbff01,#ff8d00)"></p>
<p style="background:linear-gradient(90deg,#0073ff,#00dcff,#6bff61,#fbff00,#ff7e00,#ff2f00,#ff3300,#ff8800,#edff00,#61ff6b,#00d1ff,#006cff,#0038ff,#0036ff,#0068ff,#00cbff,#4eff7e,#e4ff00,#ff8f00,#ff3500,#ff2d00,#ff7800,#fffb00,#70ff5c,#00e4ff,#0077ff,#003cff,#0033ff,#005eff,#00baff,#2affa2,#cdff00,#ffa000)"></p>
<p style="height:1px;background:linear-gradient(90deg,#0079ff,#00e1ff,#6cff60,#f8ff00,#ff9100,#ff4d00,#ff5000,#ff9900,#ebff00,#62ff6a,#00d6ff,#0072ff,#003eff,#003cff,#006eff,#00d0ff,#50ff7c,#e3ff00,#ff9f00,#ff5200,#ff4b00,#ff8b00,#fffe00,#72ff5a,#00e8ff,#007dff,#0042ff,#0039ff,#0064ff,#00bfff,#2dff9f,#cdff00,#ffae00)"></p>
</div><div class="hm" style="left:293px;top:110px;width:129px;height:274px">
<p style="height:4px;background:linear-gradient(90deg,#63ff69,#6eff5e,#76ff56,#78ff54,#73ff59,#68ff64,#5dff6f,#55ff77,#54ff78,#5aff72,#64ff68,#6fff5d,#77ff55,#78ff54,#72ff5a,#67ff65,#5cff70,#55ff77,#54ff78,#5bff71,#65ff67,#70ff5c,#77ff55)"></p>
<p style="height:4px;background:linear-gradient(90deg,#63ff69,#6eff5e,#76ff56,#78ff54,#73ff59,#69ff63,#5eff6e,#56ff76,#54ff78,#59ff73,#64ff68,#6fff5d,#77ff55,#78ff54,#72ff5a,#68ff64,#5dff6f,#55ff77,#54ff78,#5aff72,#65ff67,#70ff5c,#77ff55)"></p>
<p style="height:4px;background:linear-gradient(90deg,#62ff6a,#6eff5e,#76ff56,#78ff54,#73ff59,#69ff63,#5eff6e,#56ff76,#54ff78,#59ff73,#63ff69,#6fff5d,#77ff55,#78ff54,#73ff59,#68ff64,#5dff6f,#55ff77,#54ff78,#5aff72,#64ff68,#6fff5d,#77ff55)"></p>
<p style="height:4px;background:linear-gradient(90deg,#62ff6a,#6eff5e,#76ff56,#78ff54,#73ff59,#69ff63,#5eff6e,#56ff76,#54ff78,#59ff73,#63ff69,#6eff5e,#76ff56,#78ff54,#73ff59,#69ff63,#5eff6e,#56ff76,#54ff78,#59ff73,#64ff68,#6fff5d,#77ff55)"></p>
<p style="height:4px;background:linear-gradient(90deg,#62ff6a,#6dff5f,#76ff56,#78ff54,#74ff58,#6aff62,#5eff6e,#56ff76,#54ff78,#59ff73,#63ff69,#6eff5e,#76ff56,#78ff54,#73ff59,#69ff63,#5eff6e,#56ff76,#54ff78,#59ff73,#63ff69,#6eff5e,#76ff56)"></p>
<p style="height:4px;background:linear-gradient(90deg,#62ff6a,#6dff5f,#76ff56,#78ff54,#74ff58,#6aff62,#5fff6d,#56ff76,#54ff78,#58ff74,#62ff6a,#6dff5f,#76ff56,#78ff54,#74ff58,#6aff62,#5eff6e,#56ff76,#54ff78,#59ff73,#62ff6a,#6eff5e,#76ff56)"></p>
<p style="height:4px;background:linear-gradient(90deg,#62ff6a,#6dff5f,#76ff56,#78ff54,#74ff58,#6aff62,#5fff6d,#56ff76,#54ff78,#58ff74,#62ff6a,#6dff5f,#76ff56,#78ff54,#74ff58,#6aff62,#5fff6d,#56ff76,#54ff78,#58ff74,#62ff6a,#6dff5f,#76ff56)"></p>
<p style="height:4px;background:linear-gradient(90deg,#61ff6b,#6dff5f,#76ff56,#78ff54,#74ff58,#6bff61,#5fff6d,#57ff75,#54ff78,#58ff74,#61ff6b,#6dff5f,#75ff57,#78ff54,#74ff58,#6bff61,#5fff6d,#57ff75,#54ff78,#58ff74,#61ff6b,#6dff5f,#75ff57)"></p>
<p style="height:4px;background:linear-gradient(90deg,#61ff6b,#6dff5f,#75ff57,#78ff54,#74ff58,#6bff61,#60ff6c,#57ff75,#54ff78,#58ff74,#61ff6b,#6cff60,#75ff57,#78ff54,#74ff58,#6bff61,#60ff6c,#57ff75,#54ff78,#57ff75,#61ff6b,#6cff60,#75ff57)"></p>
<p style="height:4px;background:linear-gradient(90deg,#61ff6b,#6cff60,#75ff57,#78ff54,#74ff58,#6bff61,#60ff6c,#57ff75,#54ff78,#57ff75,#61ff6b,#6cff60,#75ff57,#78ff54,#75ff57,#6cff60,#60ff6c,#57ff75,#54ff78,#57ff75,#60ff6c,#6cff60,#75ff57)"></p>
<p style="height:4px;background:linear-gradient(90deg,#61ff6b,#6cff60,#75ff57,#78ff54,#75ff57,#6bff61,#60ff6c,#57ff75,#54ff78,#57ff75,#60ff6c,#6cff60,#75ff57,#78ff54,#75ff57,#6cff60,#61ff6b,#57ff75,#54ff78,#57ff75,#60ff6c,#6bff61,#74ff58)"></p>
<p style="height:4px;background:linear-gradient(90deg,#61ff6b,#6cff60,#75ff57,#78ff54,#75ff57,#6cff60,#60ff6c,#57ff75,#54ff78,#57ff75,#60ff6c,#6bff61,#75ff57,#78ff54,#75ff57,#6cff60,#61ff6b,#58ff74,#54ff78,#57ff75,#5fff6d,#6aff62,#74ff58)"></p>
<p style="height:4px;background:linear-gradient(90deg,#60ff6c,#6cff60,#75ff57,#78ff54,#75ff57,#6cff60,#61ff6b,#57ff75,#54ff78,#57ff75,#60ff6c,#6bff61,#74ff58,#78ff54,#76ff56,#6dff5f,#62ff6a,#58ff74,#54ff78,#56ff76,#5fff6d,#6aff62,#74ff58)"></p>
<p style="height:4px;background:linear-gradient(90deg,#60ff6c,#6bff61,#75ff57,#78ff54,#75ff57,#6cff60,#61ff6b,#58ff74,#54ff78,#57ff75,#5fff6d,#6aff62,#74ff58,#78ff54,#76ff56,#6dff5f,#62ff6a,#58ff74,#54ff78,#56ff76,#5eff6e,#69ff63,#73ff59)"></p>
<p style="height:4px;background:linear-gradient(90deg,#60ff6c,#6bff61,#75ff57,#78ff54,#75ff57,#6dff5f,#61ff6b,#58ff74,#54ff78,#56ff76,#5fff6d,#6aff62,#74ff58,#78ff54,#76ff56,#6eff5e,#63ff69,#59ff73,#54ff78,#56ff76,#5eff6e,#69ff63,#73ff59)"></p>
<p style="height:4px;background:linear-gradient(90deg,#60ff6c,#6bff61,#74ff58,#78ff54,#75ff57,#6dff5f,#62ff6a,#58ff74,#54ff78,#56ff76,#5fff6d,#6aff62,#73ff59,#78ff54,#76ff56,#6eff5e,#63ff69,#59ff73,#54ff78,#55ff77,#5dff6f,#68ff64,#72ff5a)"></p>
<p style="height:4px;background:linear-gradient(90deg,#60ff6c,#6bff61,#74ff58,#78ff54,#76ff56,#6dff5f,#62ff6a,#58ff74,#54ff78,#56ff76,#5eff6e,#69ff63,#73ff59,#78ff54,#76ff56,#6fff5d,#64ff68,#59ff73,#54ff78,#55ff77,#5dff6f,#68ff64,#72ff5a)"></p>
<p style="height:4px;background:linear-gradient(90deg,#5fff6d,#6bff61,#74ff58,#78ff54,#76ff56,#6dff5f,#62ff6a,#59ff73,#54ff78,#56ff76,#5eff6e,#69ff63,#73ff59,#78ff54,#77ff55,#6fff5d,#64ff68,#5aff72,#54ff78,#55ff77,#5cff70,#67ff65,#72ff5a)"></p>
<p style="height:4px;background:linear-gradient(90deg,#5fff6d,#6aff62,#74ff58,#78ff54,#76ff56,#6eff5e,#63ff69,#59ff73,#54ff78,#56ff76,#5eff6e,#69ff63,#73ff59,#78ff54,#77ff55,#6fff5d,#64ff68,#5aff72,#54ff78,#55ff77,#5cff70,#67ff65,#71ff5b)"></p>
<p style="height:4px;background:linear-gradient(90deg,#5fff6d,#6aff62,#74ff58,#78ff54,#76ff56,#6eff5e,#63ff69,#59ff73,#54ff78,#55ff77,#5dff6f,#68ff64,#72ff5a,#78ff54,#77ff55,#70ff5c,#65ff67,#5bff71,#54ff78,#55ff77,#5bff71,#66ff66,#71ff5b)"></p>
<p style="height:4px;background:linear-gradient(90deg,#5fff6d,#6aff62,#74ff58,#78ff54,#76ff56,#6eff5e,#63ff69,#59ff73,#54ff78,#55ff77,#5dff6f,#68ff64,#72ff5a,#78ff54,#77ff55,#70ff5c,#65ff67,#5bff71,#54ff78,#55ff77,#5bff71,#65ff67,#70ff5c)"></p>
<p style="height:4px;background:linear-gradient(90deg,#5fff6d,#6aff62,#73ff59,#78ff54,#76ff56,#6eff5e,#63ff69,#59ff73,#54ff78,#55ff77,#5dff6f,#67ff65,#72ff5a,#78ff54,#77ff55,#70ff5c,#66ff66,#5bff71,#55ff77,#54ff78,#5bff71,#65ff67,#70ff5c)"></p>
<p style="height:4px;background:linear-gradient(90deg,#5fff6d,#6aff62,#73ff59,#78ff54,#76ff56,#6fff5d,#64ff68,#5aff72,#54ff78,#55ff77,#5cff70,#67ff65,#71ff5b,#78ff54,#77ff55,#71ff5b,#66ff66,#5cff70,#55ff77,#54ff78,#5aff72,#64ff68,#6fff5d)"></p>
<p style="height:4px;background:linear-gradient(90deg,#5dff6f,#68ff64,#72ff5a,#78ff54,#78ff54,#71ff5b,#66ff66,#5bff71,#54ff78,#54ff78,#5aff72,#65ff67,#70ff5c,#77ff55,#78ff54,#73ff59,#69ff63,#5dff6f,#55ff77,#53ff79,#58ff74,#62ff6a,#6dff5f)"></p>
<p style="height:4px;background:linear-gradient(90deg,#5bff71,#66ff66,#71ff5b,#78ff54,#79ff53,#73ff59,#68ff64,#5dff6f,#55ff77,#53ff79,#58ff74,#63ff69,#6eff5e,#77ff55,#79ff53,#75ff57,#6bff61,#5fff6d,#56ff76,#53ff79,#56ff76,#60ff6c,#6bff61)"></p>
<p style="height:4px;background:linear-gradient(90deg,#59ff73,#63ff69,#6fff5d,#77ff55,#79ff53,#74ff58,#6aff62,#5eff6e,#55ff77,#52ff7a,#57ff75,#60ff6c,#6cff60,#76ff56,#7aff52,#76ff56,#6dff5f,#61ff6b,#57ff75,#53ff79,#55ff77,#5dff6f,#69ff63)"></p>
<p style="height:4px;background:linear-gradient(90deg,#57ff75,#61ff6b,#6dff5f,#77ff55,#7aff52,#76ff56,#6cff60,#60ff6c,#56ff76,#52ff7a,#55ff77,#5eff6e,#6aff62,#74ff58,#7aff52,#78ff54,#70ff5c,#64ff68,#59ff73,#53ff79,#53ff79,#5bff71,#67ff65)"></p>
<p style="height:4px;background:linear-gradient(90deg,#55ff77,#5fff6d,#6bff61,#76ff56,#7aff52,#78ff54,#6fff5d,#63ff69,#58ff74,#52ff7a,#53ff79,#5cff70,#68ff64,#73ff59,#7aff52,#79ff53,#72ff5a,#66ff66,#5aff72,#53ff79,#52ff7a,#59ff73,#64ff68)"></p>
<p style="height:4px;background:linear-gradient(90deg,#54ff78,#5dff6f,#69ff63,#74ff58,#7aff52,#79ff53,#71ff5b,#65ff67,#59ff73,#52ff7a,#52ff7a,#59ff73,#65ff67,#71ff5b,#79ff53,#7aff52,#74ff58,#69ff63,#5cff70,#54ff78,#51ff7b,#57ff75,#61ff6b)"></p>
<p style="height:4px;background:linear-gradient(90deg,#52ff7a,#5bff71,#67ff65,#73ff59,#7aff52,#7aff52,#73ff59,#67ff65,#5bff71,#53ff79,#51ff7b,#57ff75,#63ff69,#6fff5d,#79ff53,#7bff51,#76ff56,#6bff61,#5eff6e,#54ff78,#51ff7b,#55ff77,#5fff6d)"></p>
<p style="height:4px;background:linear-gradient(90deg,#51ff7b,#58ff74,#64ff68,#71ff5b,#7aff52,#7bff51,#75ff57,#6aff62,#5dff6f,#53ff79,#50ff7c,#55ff77,#60ff6c,#6dff5f,#78ff54,#7cff50,#78ff54,#6eff5e,#61ff6b,#56ff76,#51ff7b,#53ff79,#5cff70)"></p>
<p style="height:4px;background:linear-gradient(90deg,#50ff7c,#56ff76,#62ff6a,#6fff5d,#79ff53,#7cff50,#77ff55,#6cff60,#5fff6d,#54ff78,#50ff7c,#54ff78,#5eff6e,#6bff61,#76ff56,#7cff50,#7aff52,#70ff5c,#63ff69,#57ff75,#51ff7b,#52ff7a,#5aff72)"></p>
<p style="height:4px;background:linear-gradient(90deg,#50ff7c,#54ff78,#60ff6c,#6dff5f,#78ff54,#7cff50,#79ff53,#6fff5d,#61ff6b,#56ff76,#50ff7c,#52ff7a,#5bff71,#68ff64,#75ff57,#7cff50,#7bff51,#73ff59,#66ff66,#59ff73,#51ff7b,#50ff7c,#57ff75)"></p>
<p style="height:4px;background:linear-gradient(90deg,#4fff7d,#53ff79,#5dff6f,#6bff61,#77ff55,#7dff4f,#7aff52,#71ff5b,#64ff68,#57ff75,#50ff7c,#51ff7b,#59ff73,#66ff66,#73ff59,#7bff51,#7cff50,#75ff57,#69ff63,#5bff71,#52ff7a,#4fff7d,#55ff77)"></p>
<p style="height:4px;background:linear-gradient(90deg,#4fff7d,#51ff7b,#5bff71,#68ff64,#75ff57,#7cff50,#7cff50,#73ff59,#66ff66,#59ff73,#50ff7c,#4fff7d,#57ff75,#63ff69,#71ff5b,#7bff51,#7dff4f,#77ff55,#6bff61,#5eff6e,#53ff79,#4fff7d,#53ff79)"></p>
<p style="height:4px;background:linear-gradient(90deg,#4fff7d,#50ff7c,#58ff74,#66ff66,#73ff59,#7cff50,#7dff4f,#76ff56,#69ff63,#5bff71,#51ff7b,#4fff7d,#54ff78,#60ff6c,#6fff5d,#7aff52,#7eff4e,#79ff53,#6eff5e,#60ff6c,#54ff78,#4eff7e,#51ff7b)"></p>
<p style="height:4px;background:linear-gradient(90deg,#4fff7d,#4fff7d,#56ff76,#63ff69,#71ff5b,#7bff51,#7eff4e,#78ff54,#6cff60,#5dff6f,#52ff7a,#4eff7e,#52ff7a,#5eff6e,#6cff60,#78ff54,#7eff4e,#7bff51,#71ff5b,#63ff69,#56ff76,#4fff7d,#50ff7c)"></p>
<p style="height:4px;background:linear-gradient(90deg,#50ff7c,#4eff7e,#54ff78,#61ff6b,#6fff5d,#7aff52,#7eff4e,#7aff52,#6eff5e,#60ff6c,#53ff79,#4eff7e,#51ff7b,#5bff71,#69ff63,#77ff55,#7eff4e,#7dff4f,#74ff58,#66ff66,#58ff74,#4fff7d,#4eff7e)"></p>
<p style="height:4px;background:linear-gradient(90deg,#4fff7d,#4aff82,#50ff7c,#5eff6e,#6eff5e,#7bff51,#81ff4b,#7dff4f,#71ff5b,#61ff6b,#52ff7a,#4bff81,#4dff7f,#59ff73,#69ff63,#77ff55,#80ff4c,#7fff4d,#75ff57,#66ff66,#56ff76,#4cff80,#4bff81)"></p>
<p style="height:4px;background:linear-gradient(90deg,#4eff7e,#47ff85,#4cff80,#5aff72,#6cff60,#7cff50,#83ff49,#80ff4c,#73ff59,#62ff6a,#51ff7b,#48ff84,#4aff82,#56ff76,#68ff64,#78ff54,#82ff4a,#82ff4a,#77ff55,#67ff65,#55ff77,#49ff83,#48ff84)"></p>
<p style="height:4px;background:linear-gradient(90deg,#4eff7e,#45ff87,#48ff84,#56ff76,#6aff62,#7cff50,#85ff47,#83ff49,#76ff56,#63ff69,#51ff7b,#45ff87,#46ff86,#53ff79,#66ff66,#79ff53,#84ff48,#84ff48,#7aff52,#67ff65,#54ff78,#47ff85,#45ff87)"></p>
<p style="height:4px;background:linear-gradient(90deg,#4eff7e,#42ff8a,#44ff88,#52ff7a,#68ff64,#7bff51,#87ff45,#86ff46,#7aff52,#66ff66,#50ff7c,#43ff89,#43ff89,#50ff7c,#65ff67,#79ff53,#86ff46,#87ff45,#7cff50,#68ff64,#53ff79,#44ff88,#42ff8a)"></p>
<p style="height:4px;background:linear-gradient(90deg,#4fff7d,#40ff8c,#40ff8c,#4eff7e,#65ff67,#7bff51,#88ff44,#89ff43,#7dff4f,#68ff64,#50ff7c,#41ff8b,#3fff8d,#4dff7f,#63ff69,#79ff53,#88ff44,#8aff42,#7eff4e,#69ff63,#52ff7a,#42ff8a,#3fff8d)"></p>
<p style="height:4px;background:linear-gradient(90deg,#51ff7b,#3fff8d,#3cff90,#49ff83,#61ff6b,#79ff53,#8aff42,#8cff40,#81ff4b,#6bff61,#51ff7b,#3fff8d,#3cff90,#49ff83,#61ff6b,#79ff53,#8aff42,#8cff40,#80ff4c,#6aff62,#51ff7b,#3fff8d,#3cff90)"></p>
<p style="height:4px;background:linear-gradient(90deg,#54ff78,#3eff8e,#38ff94,#44ff88,#5dff6f,#77ff55,#8aff42,#8fff3d,#84ff48,#6dff5f,#52ff7a,#3dff8f,#39ff93,#45ff87,#5fff6d,#79ff53,#8bff41,#8fff3d,#83ff49,#6cff60,#50ff7c,#3cff90,#39ff93)"></p>
<p style="height:4px;background:linear-gradient(90deg,#58ff74,#3fff8d,#35ff97,#3fff8d,#58ff74,#75ff57,#8bff41,#92ff3a,#88ff44,#71ff5b,#53ff79,#3cff90,#35ff97,#42ff8a,#5cff70,#79ff53,#8dff3f,#92ff3a,#85ff47,#6dff5f,#4fff7d,#3aff92,#36ff96)"></p>
<p style="height:4px;background:linear-gradient(90deg,#5cff70,#3fff8d,#32ff9a,#3aff92,#53ff79,#72ff5a,#8aff42,#94ff38,#8cff40,#74ff58,#55ff77,#3bff91,#32ff9a,#3eff8e,#59ff73,#78ff54,#8eff3e,#94ff38,#88ff44,#6eff5e,#4fff7d,#38ff94,#33ff99)"></p>
<p style="height:4px;background:linear-gradient(90deg,#61ff6b,#41ff8b,#30ff9c,#34ff98,#4dff7f,#6eff5e,#8aff42,#97ff35,#90ff3c,#78ff54,#58ff74,#3bff91,#2fff9d,#3aff92,#56ff76,#77ff55,#8fff3d,#97ff35,#8bff41,#70ff5c,#4eff7e,#35ff97,#30ff9c)"></p>
<p style="height:4px;background:linear-gradient(90deg,#65ff67,#42ff8a,#2dff9f,#2fff9d,#48ff84,#6dff5f,#8cff40,#9cff30,#97ff35,#7eff4e,#5bff71,#3aff92,#2bffa1,#34ff98,#52ff7a,#76ff56,#92ff3a,#9dff2f,#91ff3b,#75ff57,#50ff7c,#33ff99,#2bffa1)"></p>
<p style="height:4px;background:linear-gradient(90deg,#6aff62,#42ff8a,#2affa2,#2affa2,#43ff89,#6bff61,#8eff3e,#a1ff2b,#9dff2f,#84ff48,#5eff6e,#39ff93,#27ffa5,#2fff9d,#4eff7e,#75ff57,#95ff37,#a2ff2a,#98ff34,#7aff52,#53ff79,#32ff9a,#27ffa5)"></p>
<p style="height:4px;background:linear-gradient(90deg,#6eff5e,#44ff88,#27ffa5,#25ffa7,#3eff8e,#68ff64,#8fff3d,#a6ff26,#a4ff28,#8aff42,#62ff6a,#3aff92,#24ffa8,#2affa2,#49ff83,#74ff58,#97ff35,#a8ff24,#9fff2d,#80ff4c,#56ff76,#31ff9b,#23ffa9)"></p>
<p style="height:4px;background:linear-gradient(90deg,#74ff58,#46ff86,#25ffa7,#20ffac,#39ff93,#65ff67,#8fff3d,#aaff22,#abff21,#91ff3b,#67ff65,#3bff91,#21ffab,#24ffa8,#44ff88,#71ff5b,#99ff33,#adff1f,#a6ff26,#86ff46,#5aff72,#31ff9b,#1fffad)"></p>
<p style="height:4px;background:linear-gradient(90deg,#7aff52,#49ff83,#24ffa8,#1cffb0,#33ff99,#60ff6c,#8fff3d,#aeff1e,#b1ff1b,#98ff34,#6cff60,#3cff90,#1effae,#1fffad,#3eff8e,#6eff5e,#9aff32,#b2ff1a,#adff1f,#8dff3f,#5eff6e,#31ff9b,#1bffb1)"></p>
<p style="height:4px;background:linear-gradient(90deg,#81ff4b,#4dff7f,#23ffa9,#17ffb5,#2dff9f,#5cff70,#8eff3e,#b1ff1b,#b8ff14,#9fff2d,#72ff5a,#3eff8e,#1cffb0,#1affb2,#38ff94,#6bff61,#9aff32,#b6ff16,#b4ff18,#94ff38,#63ff69,#32ff9a,#18ffb4)"></p>
<p style="height:4px;background:linear-gradient(90deg,#89ff43,#51ff7b,#23ffa9,#12ffba,#27ffa5,#57ff75,#8dff3f,#b4ff18,#beff0e,#a7ff25,#78ff54,#41ff8b,#1affb2,#15ffb7,#32ff9a,#67ff65,#9aff32,#baff12,#bbff11,#9cff30,#69ff63,#34ff98,#15ffb7)"></p>
<p style="height:4px;background:linear-gradient(90deg,#92ff3a,#56ff76,#22ffaa,#0effbe,#20ffac,#52ff7a,#8cff40,#b8ff14,#c6ff06,#b0ff1c,#7eff4e,#44ff88,#19ffb3,#0fffbd,#2cffa0,#62ff6a,#9aff32,#bfff0d,#c3ff09,#a4ff28,#6eff5e,#35ff97,#12ffba)"></p>
<p style="height:4px;background:linear-gradient(90deg,#9dff2f,#5dff6f,#22ffaa,#09ffc3,#1affb2,#4dff7f,#8cff40,#bdff0f,#cfff00,#b9ff13,#85ff47,#46ff86,#16ffb6,#0affc2,#26ffa6,#5eff6e,#9cff30,#c6ff06,#ccff00,#adff1f,#74ff58,#36ff96,#0fffbd)"></p>
<p style="height:4px;background:linear-gradient(90deg,#abff21,#64ff68,#22ffaa,#05ffc7,#14ffb8,#48ff84,#8bff41,#c2ff0a,#d7ff00,#c3ff09,#8dff3f,#4aff82,#15ffb7,#04ffc8,#1fffad,#5aff72,#9cff30,#ccff00,#d6ff00,#b6ff16,#7aff52,#38ff94,#0cffc0)"></p>
<p style="height:4px;background:linear-gradient(90deg,#bcff10,#6eff5e,#23ffa9,#00ffcc,#0dffbf,#42ff8a,#89ff43,#c6ff06,#e0ff00,#cdff00,#95ff37,#4dff7f,#14ffb8,#00ffcd,#19ffb3,#55ff77,#9cff30,#d1ff00,#dfff00,#c0ff0c,#81ff4b,#3bff91,#09ffc3)"></p>
<p style="height:4px;background:linear-gradient(90deg,#d0ff00,#7bff51,#25ffa7,#00ffcf,#07ffc5,#3cff90,#87ff45,#c9ff03,#e8ff00,#d7ff00,#9dff2f,#52ff7a,#13ffb9,#00ffd2,#12ffba,#50ff7c,#9bff31,#d6ff00,#e8ff00,#caff02,#89ff43,#3eff8e,#07ffc5)"></p>
<p style="height:4px;background:linear-gradient(90deg,#e7ff00,#89ff43,#26ffa6,#00ffd5,#00ffcf,#33ff99,#83ff49,#cbff01,#f0ff00,#e2ff00,#a7ff25,#57ff75,#11ffbb,#00ffd9,#08ffc4,#48ff84,#99ff33,#daff00,#f1ff00,#d5ff00,#91ff3b,#41ff8b,#04ffc8)"></p>
<p style="height:4px;background:linear-gradient(90deg,#fffd00,#9aff32,#28ffa4,#00ffdd,#00ffdb,#27ffa5,#7cff50,#ccff00,#f8ff00,#eeff00,#b2ff1a,#5cff70,#0fffbd,#00ffe2,#00ffd0,#3dff8f,#94ff38,#ddff00,#fbff00,#e2ff00,#9cff30,#44ff88,#00ffcc)"></p>
<p style="height:4px;background:linear-gradient(90deg,#ffe700,#acff20,#2bffa1,#00ffe3,#00ffe7,#1bffb1,#74ff58,#ccff00,#fffe00,#fbff00,#beff0e,#63ff69,#0effbe,#00ffea,#00ffdd,#32ff9a,#8eff3e,#dfff00,#fffa00,#efff00,#a7ff25,#49ff83,#00ffcf)"></p>
<p style="height:4px;background:linear-gradient(90deg,#ffd100,#beff0e,#2fff9d,#00ffe9,#00fff2,#0effbe,#6bff61,#caff02,#fff900,#fff800,#cbff01,#6cff60,#0fffbd,#00fff2,#00ffe9,#25ffa7,#87ff45,#e0ff00,#fff300,#fcff00,#b3ff19,#50ff7c,#00ffd1)"></p>
<p style="height:4px;background:linear-gradient(90deg,#ffc900,#c5ff07,#30ff9c,#00ffea,#00fff5,#0bffc1,#68ff64,#c9ff03,#fff900,#fff700,#cdff00,#6eff5e,#0fffbd,#00fff4,#00ffed,#22ffaa,#85ff47,#dfff00,#fff300,#fdff00,#b5ff17,#51ff7b,#00ffd2)"></p>
<p style="height:4px;background:linear-gradient(90deg,#ffc800,#c7ff05,#31ff9b,#00ffea,#00fff5,#0bffc1,#68ff64,#c7ff05,#fffb00,#fff900,#ccff00,#6eff5e,#0fffbd,#00fff4,#00ffed,#22ffaa,#84ff48,#ddff00,#fff500,#fbff00,#b4ff18,#51ff7b,#00ffd2)"></p>
<p style="height:4px;background:linear-gradient(90deg,#ffcc00,#c5ff07,#30ff9c,#00ffea,#00fff5,#0bffc1,#68ff64,#c6ff06,#fffd00,#fffb00,#caff02,#6eff5e,#0fffbd,#00fff4,#00ffed,#22ffaa,#84ff48,#dbff00,#fff700,#f9ff00,#b3ff19,#51ff7b,#00ffd2)"></p>
<p style="height:4px;background:linear-gradient(90deg,#ffd400,#bfff0d,#30ff9c,#00ffea,#00fff5,#0bffc1,#68ff64,#c5ff07,#ffff00,#fffe00,#c9ff03,#6eff5e,#0fffbd,#00fff4,#00ffed,#22ffaa,#84ff48,#daff00,#fff900,#f6ff00,#b2ff1a,#51ff7b,#00ffd2)"></p>
<p style="height:2px;background:linear-gradient(90deg,#ffdf00,#b8ff14,#2eff9e,#00ffea,#00fff5,#0bffc1,#68ff64,#c3ff09,#fdff00,#ffff00,#c8ff04,#6eff5e,#0fffbd,#00fff4,#00ffed,#22ffaa,#84ff48,#d8ff00,#fffb00,#f4ff00,#b1ff1b,#51ff7b,#00ffd2)"></p>
</div><div class="hm" style="left:293px;top:455px;width:129px;height:274px">
<p style="background:linear-gradient(90deg,#a3ff29,#57ff75,#37ff95,#00ffd0,#00fffc,#00fffe,#00ffd6,#3aff92,#7bff51,#dcff00,#ffd200,#ffa500,#ff9e00,#ffbe00,#feff00,#96ff36,#50ff7c,#06ffc6,#00fffc,#00f8ff,#00ffe5,#2bffa1,#72ff5a,#cdff00,#ffdb00,#ffa900,#ff9c00,#ffb800,#fff500,#a5ff27,#5aff72,#0fffbd,#00fff7)"></p>
<p style="background:linear-gradient(90deg,#a2ff2a,#56ff76,#36ff96,#00ffd3,#00fdff,#00faff,#00ffdc,#36ff96,#7aff52,#dcff00,#ffd000,#ffa100,#ff9900,#ffb800,#fffa00,#9bff31,#51ff7b,#03ffc9,#00fcff,#00f1ff,#00ffed,#25ffa7,#70ff5c,#ccff00,#ffd900,#ffa500,#ff9700,#ffb200,#ffef00,#abff21,#5cff70,#0effbe,#00fffc)"></p>
<p style="background:linear-gradient(90deg,#a0ff2c,#56ff76,#36ff96,#00ffd5,#00f9ff,#00f5ff,#00ffe2,#32ff9a,#79ff53,#dcff00,#ffce00,#ff9d00,#ff9400,#ffb200,#fff400,#a1ff2b,#53ff79,#01ffcb,#00f7ff,#00e9ff,#00fff6,#1fffad,#6eff5e,#ccff00,#ffd700,#ffa200,#ff9200,#ffac00,#ffe900,#b1ff1b,#5dff6f,#0cffc0,#00fdff)"></p>
<p style="background:linear-gradient(90deg,#9fff2d,#56ff76,#35ff97,#00ffd7,#00f5ff,#00efff,#00ffe8,#2eff9e,#77ff55,#dcff00,#ffcc00,#ff9a00,#ff8e00,#ffac00,#ffed00,#a6ff26,#54ff78,#00ffcc,#00f2ff,#00e2ff,#00fffe,#19ffb3,#6bff61,#cbff01,#ffd600,#ff9f00,#ff8e00,#ffa600,#ffe200,#b7ff15,#5fff6d,#0bffc1,#00f8ff)"></p>
<p style="background:linear-gradient(90deg,#9fff2d,#56ff76,#35ff97,#00ffd9,#00f1ff,#00eaff,#00ffee,#2affa2,#76ff56,#dbff00,#ffca00,#ff9600,#ff8900,#ffa600,#ffe700,#acff20,#56ff76,#00ffce,#00edff,#00dbff,#00f8ff,#13ffb9,#68ff64,#caff02,#ffd400,#ff9b00,#ff8900,#ffa000,#ffdc00,#beff0e,#61ff6b,#0affc2,#00f4ff)"></p>
<p style="background:linear-gradient(90deg,#9fff2d,#58ff74,#36ff96,#00ffda,#00eeff,#00e6ff,#00fff3,#26ffa6,#74ff58,#dbff00,#ffc800,#ff9300,#ff8400,#ffa000,#ffe000,#b3ff19,#58ff74,#00ffcf,#00e9ff,#00d4ff,#00f1ff,#0dffbf,#66ff66,#c9ff03,#ffd300,#ff9800,#ff8400,#ff9a00,#ffd600,#c4ff08,#63ff69,#0affc2,#00f0ff)"></p>
<p style="background:linear-gradient(90deg,#a0ff2c,#5aff72,#37ff95,#00ffdb,#00eaff,#00e1ff,#00fff8,#22ffaa,#73ff59,#dbff00,#ffc600,#ff8f00,#ff7f00,#ff9a00,#ffda00,#baff12,#5aff72,#00ffd0,#00e4ff,#00ccff,#00e9ff,#06ffc6,#63ff69,#c8ff04,#ffd100,#ff9500,#ff7f00,#ff9400,#ffcf00,#cbff01,#65ff67,#0affc2,#00ecff)"></p>
<p style="background:linear-gradient(90deg,#a2ff2a,#5dff6f,#38ff94,#00ffdb,#00e8ff,#00ddff,#00fffe,#1effae,#71ff5b,#daff00,#ffc500,#ff8c00,#ff7b00,#ff9400,#ffd300,#c1ff0b,#5cff70,#00ffd1,#00e0ff,#00c5ff,#00e1ff,#00ffcd,#5fff6d,#c7ff05,#ffd000,#ff9100,#ff7a00,#ff8e00,#ffc800,#d3ff00,#67ff65,#0affc2,#00e8ff)"></p>
<p style="background:linear-gradient(90deg,#a5ff27,#61ff6b,#39ff93,#00ffdb,#00e5ff,#00d9ff,#00fcff,#1affb2,#6fff5d,#daff00,#ffc300,#ff8800,#ff7600,#ff8d00,#ffcd00,#c8ff04,#5eff6e,#00ffd1,#00dbff,#00bdff,#00d9ff,#00ffd5,#5cff70,#c5ff07,#ffce00,#ff8e00,#ff7600,#ff8800,#ffc200,#daff00,#6aff62,#0affc2,#00e5ff)"></p>
<p style="background:linear-gradient(90deg,#a9ff23,#66ff66,#3bff91,#00ffdb,#00e3ff,#00d5ff,#00f8ff,#16ffb6,#6eff5e,#d9ff00,#ffc100,#ff8500,#ff7100,#ff8700,#ffc600,#cfff00,#61ff6b,#00ffd1,#00d7ff,#00b6ff,#00d1ff,#00ffdc,#58ff74,#c3ff09,#ffcd00,#ff8b00,#ff7100,#ff8200,#ffbb00,#e2ff00,#6cff60,#0bffc1,#00e2ff)"></p>
<p style="background:linear-gradient(90deg,#afff1d,#6cff60,#3eff8e,#00ffda,#00e2ff,#00d2ff,#00f4ff,#12ffba,#6cff60,#d8ff00,#ffbf00,#ff8200,#ff6c00,#ff8100,#ffbf00,#d7ff00,#63ff69,#00ffd1,#00d3ff,#00aeff,#00c8ff,#00ffe4,#54ff78,#c1ff0b,#ffcb00,#ff8800,#ff6d00,#ff7c00,#ffb400,#eaff00,#6eff5e,#0cffc0,#00dfff)"></p>
<p style="background:linear-gradient(90deg,#b7ff15,#73ff59,#40ff8c,#00ffd8,#00e0ff,#00cfff,#00f0ff,#0effbe,#69ff63,#d7ff00,#ffbe00,#ff7e00,#ff6700,#ff7b00,#ffb800,#dfff00,#66ff66,#00ffd1,#00cfff,#00a6ff,#00bfff,#00ffed,#50ff7c,#bfff0d,#ffca00,#ff8500,#ff6800,#ff7600,#ffad00,#f2ff00,#71ff5b,#0dffbf,#00dcff)"></p>
<p style="background:linear-gradient(90deg,#c0ff0c,#7cff50,#43ff89,#00ffd7,#00dfff,#00cbff,#00ebff,#09ffc3,#67ff65,#d5ff00,#ffbc00,#ff7b00,#ff6300,#ff7500,#ffb100,#e7ff00,#68ff64,#00ffd0,#00cbff,#009dff,#00b5ff,#00fff6,#4cff80,#bcff10,#ffc900,#ff8200,#ff6400,#ff7000,#ffa600,#fbff00,#73ff59,#0effbe,#00daff)"></p>
<p style="background:linear-gradient(90deg,#caff02,#85ff47,#47ff85,#00ffd5,#00deff,#00c8ff,#00e7ff,#05ffc7,#65ff67,#d4ff00,#ffbb00,#ff7800,#ff5e00,#ff6f00,#ffaa00,#f0ff00,#6aff62,#00ffd0,#00c6ff,#0095ff,#00abff,#00ffff,#47ff85,#b9ff13,#ffc800,#ff7f00,#ff5f00,#ff6a00,#ff9f00,#fffb00,#75ff57,#10ffbc,#00d8ff)"></p>
<p style="background:linear-gradient(90deg,#d6ff00,#90ff3c,#4bff81,#00ffd3,#00ddff,#00c5ff,#00e3ff,#00ffcc,#62ff6a,#d2ff00,#ffb900,#ff7500,#ff5900,#ff6900,#ffa300,#f9ff00,#6dff5f,#00ffcf,#00c2ff,#008cff,#00a0ff,#00f6ff,#42ff8a,#b6ff16,#ffc700,#ff7c00,#ff5b00,#ff6400,#ff9800,#fff400,#77ff55,#12ffba,#00d6ff)"></p>
<p style="background:linear-gradient(90deg,#e1ff00,#9bff31,#4fff7d,#00ffce,#00deff,#00c3ff,#00deff,#00ffd3,#5eff6e,#ccff00,#ffbc00,#ff7600,#ff5900,#ff6600,#ff9e00,#fffe00,#70ff5c,#00ffcc,#00c0ff,#0084ff,#0095ff,#00edff,#3bff91,#afff1d,#ffca00,#ff7d00,#ff5a00,#ff6200,#ff9400,#ffee00,#7aff52,#16ffb6,#00d6ff)"></p>
<p style="background:linear-gradient(90deg,#eaff00,#a6ff26,#55ff77,#04ffc8,#00e1ff,#00c2ff,#00daff,#00ffda,#58ff74,#c3ff09,#ffc200,#ff7b00,#ff5b00,#ff6700,#ff9c00,#fff800,#73ff59,#04ffc8,#00bfff,#007eff,#008bff,#00e2ff,#32ff9a,#a3ff29,#ffd000,#ff8200,#ff5d00,#ff6200,#ff9200,#ffe900,#7cff50,#1bffb1,#00d8ff)"></p>
<p style="background:linear-gradient(90deg,#f3ff00,#b1ff1b,#5bff71,#0affc2,#00e4ff,#00c2ff,#00d6ff,#00ffe2,#52ff7a,#b8ff14,#ffc900,#ff8000,#ff5e00,#ff6700,#ff9900,#fff300,#76ff56,#08ffc4,#00bfff,#0077ff,#0080ff,#00d7ff,#29ffa3,#97ff35,#ffd700,#ff8800,#ff6000,#ff6300,#ff9000,#ffe400,#7eff4e,#21ffab,#00dbff)"></p>
<p style="background:linear-gradient(90deg,#feff00,#bcff10,#60ff6c,#11ffbb,#00e7ff,#00c1ff,#00d1ff,#00ffea,#4bff81,#aeff1e,#ffcf00,#ff8500,#ff6100,#ff6800,#ff9700,#ffee00,#79ff53,#0dffbf,#00beff,#0070ff,#0075ff,#00ccff,#1fffad,#8aff42,#ffde00,#ff8d00,#ff6400,#ff6400,#ff8e00,#ffe000,#87ff45,#27ffa5,#00deff)"></p>
<p style="background:linear-gradient(90deg,#fff700,#c7ff05,#66ff66,#17ffb5,#00eaff,#00c0ff,#00ccff,#00fff3,#43ff89,#a3ff29,#ffd600,#ff8a00,#ff6400,#ff6800,#ff9500,#ffea00,#7bff51,#11ffbb,#00beff,#006aff,#006aff,#00c0ff,#15ffb7,#7bff51,#ffe500,#ff9200,#ff6700,#ff6500,#ff8d00,#ffdb00,#95ff37,#2dff9f,#00e1ff)"></p>
<p style="background:linear-gradient(90deg,#ffee00,#d2ff00,#6bff61,#1effae,#00edff,#00bfff,#00c7ff,#00fffc,#3bff91,#97ff35,#ffdd00,#ff8f00,#ff6800,#ff6900,#ff9400,#ffe500,#7cff50,#16ffb6,#00beff,#0063ff,#005fff,#00b4ff,#0affc2,#79ff53,#ffec00,#ff9800,#ff6b00,#ff6700,#ff8b00,#ffd700,#a0ff2c,#33ff99,#00e4ff)"></p>
<p style="background:linear-gradient(90deg,#ffe500,#ddff00,#6fff5d,#24ffa8,#00f0ff,#00beff,#00c1ff,#00f9ff,#33ff99,#89ff43,#ffe300,#ff9400,#ff6b00,#ff6a00,#ff9200,#ffe100,#8bff41,#1affb2,#00beff,#005cff,#0053ff,#00a8ff,#00ffcc,#76ff56,#fff300,#ff9d00,#ff6e00,#ff6800,#ff8a00,#ffd300,#aaff22,#39ff93,#00e8ff)"></p>
<p style="background:linear-gradient(90deg,#ffdc00,#e8ff00,#73ff59,#2affa2,#00f3ff,#00bcff,#00bbff,#00f0ff,#2affa2,#82ff4a,#ffea00,#ff9a00,#ff6f00,#ff6c00,#ff9100,#ffdd00,#96ff36,#1fffad,#00beff,#0056ff,#0048ff,#009cff,#00ffd8,#72ff5a,#fffa00,#ffa300,#ff7200,#ff6a00,#ff8900,#ffd000,#b3ff19,#3fff8d,#00ecff)"></p>
<p style="background:linear-gradient(90deg,#ffd300,#f3ff00,#7eff4e,#31ff9b,#00f6ff,#00baff,#00b4ff,#00e8ff,#21ffab,#80ff4c,#fff100,#ff9f00,#ff7200,#ff6d00,#ff9000,#ffd900,#a0ff2c,#23ffa9,#00beff,#0050ff,#003dff,#0090ff,#00ffe3,#6eff5e,#fdff00,#ffa800,#ff7600,#ff6b00,#ff8900,#ffcc00,#bcff10,#45ff87,#00f0ff)"></p>
<p style="background:linear-gradient(90deg,#ffcb00,#fcff00,#8cff40,#37ff95,#00f9ff,#00b8ff,#00adff,#00deff,#17ffb5,#7dff4f,#fff700,#ffa400,#ff7600,#ff6e00,#ff8f00,#ffd500,#aaff22,#28ffa4,#00bfff,#004bff,#0033ff,#0084ff,#00ffef,#69ff63,#f5ff00,#ffae00,#ff7a00,#ff6d00,#ff8800,#ffc900,#c4ff08,#4aff82,#00f5ff)"></p>
<p style="background:linear-gradient(90deg,#ffc300,#fff900,#98ff34,#3dff8f,#00fbff,#00b5ff,#00a6ff,#00d5ff,#0dffbf,#79ff53,#fffe00,#ffaa00,#ff7a00,#ff7000,#ff8e00,#ffd200,#b2ff1a,#2dff9f,#00c1ff,#0047ff,#0029ff,#0079ff,#00fffa,#63ff69,#ecff00,#ffb400,#ff7e00,#ff6f00,#ff8700,#ffc600,#ccff00,#50ff7c,#00f9ff)"></p>
<p style="background:linear-gradient(90deg,#ffbc00,#fff200,#a3ff29,#43ff89,#00feff,#00b3ff,#009eff,#00cbff,#03ffc9,#74ff58,#f8ff00,#ffaf00,#ff7e00,#ff7200,#ff8d00,#ffcf00,#baff12,#32ff9a,#00c3ff,#0043ff,#0021ff,#006eff,#00f9ff,#5dff6f,#e4ff00,#ffb900,#ff8200,#ff7100,#ff8700,#ffc300,#d4ff00,#56ff76,#00feff)"></p>
<p style="background:linear-gradient(90deg,#ffb600,#ffeb00,#adff1f,#49ff83,#00fffd,#00b0ff,#0097ff,#00c1ff,#00ffd4,#6fff5d,#f0ff00,#ffb500,#ff8100,#ff7400,#ff8d00,#ffcc00,#c2ff0a,#37ff95,#00c6ff,#0041ff,#0019ff,#0064ff,#00f0ff,#57ff75,#dbff00,#ffbf00,#ff8600,#ff7300,#ff8700,#ffc000,#dbff00,#5cff70,#00fffa)"></p>
<p style="background:linear-gradient(90deg,#ffb100,#ffe500,#b6ff16,#4fff7d,#00fff9,#00b0ff,#0091ff,#00b8ff,#00ffe0,#69ff63,#e6ff00,#ffbc00,#ff8700,#ff7700,#ff8e00,#ffca00,#c8ff04,#3dff8f,#00cbff,#0042ff,#0015ff,#005cff,#00e7ff,#4fff7d,#d1ff00,#ffc600,#ff8c00,#ff7700,#ff8800,#ffbf00,#e0ff00,#61ff6b,#00fff3)"></p>
<p style="background:linear-gradient(90deg,#ffb300,#ffe500,#bcff10,#54ff78,#00ffed,#00bbff,#0098ff,#00b7ff,#00ffea,#5eff6e,#d5ff00,#ffca00,#ff9400,#ff8100,#ff9500,#ffcd00,#cbff01,#42ff8a,#00d5ff,#004fff,#0020ff,#005eff,#00dfff,#44ff88,#c1ff0b,#ffd500,#ff9900,#ff8200,#ff9000,#ffc200,#e2ff00,#66ff66,#00ffe7)"></p>
<p style="background:linear-gradient(90deg,#ffb500,#ffe600,#c0ff0c,#5aff72,#00ffe3,#00c5ff,#00a0ff,#00b7ff,#00fff4,#53ff79,#c4ff08,#ffd800,#ffa000,#ff8b00,#ff9c00,#ffd000,#ceff00,#48ff84,#00dfff,#005dff,#002bff,#0061ff,#00d9ff,#38ff94,#b1ff1b,#ffe300,#ffa600,#ff8c00,#ff9700,#ffc600,#e3ff00,#6bff61,#00ffdc)"></p>
<p style="background:linear-gradient(90deg,#ffb900,#ffe700,#c3ff09,#5fff6d,#00ffda,#00cfff,#00a8ff,#00b9ff,#00fffc,#48ff84,#b5ff17,#ffe600,#ffad00,#ff9600,#ffa300,#ffd400,#cfff00,#4dff7f,#00e9ff,#006bff,#0039ff,#0067ff,#00d5ff,#2dff9f,#a2ff2a,#fff000,#ffb300,#ff9700,#ff9f00,#ffcb00,#e4ff00,#6fff5d,#00ffd2)"></p>
<p style="background:linear-gradient(90deg,#ffbd00,#ffe800,#c6ff06,#63ff69,#00ffd1,#00d9ff,#00b0ff,#00bbff,#00fcff,#3cff90,#a7ff25,#fff300,#ffba00,#ffa100,#ffab00,#ffd800,#d0ff00,#53ff79,#00f3ff,#007aff,#0047ff,#006eff,#00d2ff,#23ffa9,#94ff38,#fffe00,#ffc000,#ffa200,#ffa700,#ffd000,#e3ff00,#73ff59,#04ffc8)"></p>
<p style="background:linear-gradient(90deg,#ffc200,#ffeb00,#c7ff05,#67ff65,#03ffc9,#00e2ff,#00b9ff,#00bfff,#00f8ff,#32ff9a,#99ff33,#fdff00,#ffc600,#ffab00,#ffb300,#ffdd00,#d0ff00,#58ff74,#00fdff,#008aff,#0057ff,#0077ff,#00d1ff,#19ffb3,#87ff45,#f1ff00,#ffcd00,#ffad00,#ffb000,#ffd500,#e3ff00,#76ff56,#0dffbf)"></p>
<p style="background:linear-gradient(90deg,#ffc700,#ffee00,#c8ff04,#6bff61,#0affc2,#00ebff,#00c1ff,#00c3ff,#00f6ff,#28ffa4,#8dff3f,#eeff00,#ffd300,#ffb600,#ffbb00,#ffe200,#d0ff00,#5dff6f,#00fff6,#0099ff,#0067ff,#0082ff,#00d2ff,#10ffbc,#7bff51,#e2ff00,#ffda00,#ffb800,#ffb900,#ffda00,#e1ff00,#7bff51,#15ffb7)"></p>
<p style="background:linear-gradient(90deg,#ffce00,#fff100,#c8ff04,#6fff5d,#11ffbb,#00f3ff,#00cbff,#00c9ff,#00f5ff,#1effae,#82ff4a,#dfff00,#ffe000,#ffc200,#ffc400,#ffe700,#d0ff00,#62ff6a,#00ffea,#00a9ff,#0078ff,#008dff,#00d4ff,#08ffc4,#72ff5a,#d3ff00,#ffe600,#ffc400,#ffc100,#ffdf00,#e0ff00,#82ff4a,#1dffaf)"></p>
<p style="background:linear-gradient(90deg,#ffd400,#fff500,#c7ff05,#72ff5a,#18ffb4,#00fcff,#00d4ff,#00cfff,#00f5ff,#16ffb6,#78ff54,#d1ff00,#ffec00,#ffcd00,#ffcd00,#ffec00,#ceff00,#69ff63,#00ffde,#00b9ff,#008aff,#009aff,#00d7ff,#02ffca,#6aff62,#c6ff06,#fff300,#ffcf00,#ffcb00,#ffe500,#ddff00,#86ff46,#24ffa8)"></p>
<p style="background:linear-gradient(90deg,#ffdc00,#fffa00,#c6ff06,#76ff56,#1effae,#00fff9,#00ddff,#00d7ff,#00f6ff,#10ffbc,#6fff5d,#c4ff08,#fff800,#ffd800,#ffd600,#fff200,#cdff00,#6fff5d,#00ffd3,#00c9ff,#009cff,#00a7ff,#00dcff,#00ffcf,#61ff6b,#b9ff13,#ffff00,#ffdb00,#ffd400,#ffec00,#daff00,#8aff42,#2bffa1)"></p>
<p style="background:linear-gradient(90deg,#ffe300,#fffd00,#c6ff06,#7cff50,#25ffa7,#00ffee,#00e7ff,#00deff,#00f7ff,#09ffc3,#64ff68,#b6ff16,#f8ff00,#ffe300,#ffde00,#fff600,#ccff00,#77ff55,#06ffc6,#00daff,#00adff,#00b4ff,#00e0ff,#00ffd4,#56ff76,#abff21,#f0ff00,#ffe600,#ffdd00,#fff100,#d9ff00,#8eff3e,#34ff98)"></p>
<p style="background:linear-gradient(90deg,#ffe700,#fffb00,#cfff00,#8aff42,#38ff94,#00ffde,#00efff,#00e0ff,#00f3ff,#00ffd1,#50ff7c,#a2ff2a,#e6ff00,#ffef00,#ffe400,#fff600,#d5ff00,#86ff46,#1effae,#00efff,#00bfff,#00bdff,#00dfff,#00ffe0,#42ff8a,#98ff34,#ddff00,#fff300,#ffe400,#fff100,#e0ff00,#9cff30,#48ff84)"></p>
<p style="background:linear-gradient(90deg,#ffed00,#fffb00,#d7ff00,#96ff36,#4aff82,#00ffce,#00f9ff,#00e4ff,#00f0ff,#00ffdd,#3eff8e,#90ff3c,#d3ff00,#fffb00,#ffeb00,#fff700,#dcff00,#94ff38,#35ff97,#00fff9,#00d1ff,#00c7ff,#00e0ff,#00ffea,#31ff9b,#85ff47,#cbff01,#feff00,#ffec00,#fff300,#e6ff00,#a7ff25,#5aff72)"></p>
<p style="background:linear-gradient(90deg,#fff400,#fffc00,#dcff00,#a1ff2b,#5aff72,#0effbe,#00fff9,#00eaff,#00f0ff,#00ffe6,#2dff9f,#7eff4e,#c1ff0b,#f4ff00,#fff400,#fff900,#e0ff00,#a0ff2c,#4bff81,#00ffe0,#00e3ff,#00d2ff,#00e2ff,#00fff1,#22ffaa,#74ff58,#b8ff14,#eeff00,#fff500,#fff700,#e9ff00,#b1ff1b,#6cff60)"></p>
<p style="background:linear-gradient(90deg,#fffd00,#ffff00,#dfff00,#aaff22,#6aff62,#1effae,#00ffeb,#00f2ff,#00f1ff,#00ffed,#1fffad,#6eff5e,#afff1d,#e4ff00,#fffd00,#fffd00,#e3ff00,#aaff22,#5dff6f,#03ffc9,#00f5ff,#00dfff,#00e6ff,#00fff7,#14ffb8,#63ff69,#a7ff25,#deff00,#ffff00,#fffb00,#eaff00,#b9ff13,#79ff53)"></p>
<p style="background:linear-gradient(90deg,#f7ff00,#f9ff00,#e1ff00,#b2ff1a,#76ff56,#2eff9e,#00ffdd,#00faff,#00f4ff,#00fff1,#13ffb9,#5cff70,#9eff2e,#d4ff00,#f5ff00,#fbff00,#e4ff00,#b2ff1a,#6cff60,#1affb2,#00fff5,#00ecff,#00ebff,#00fff9,#09ffc3,#51ff7b,#96ff36,#cdff00,#f2ff00,#fcff00,#eaff00,#bfff0d,#84ff48)"></p>
<p style="background:linear-gradient(90deg,#eaff00,#f3ff00,#e0ff00,#b7ff15,#80ff4c,#3dff8f,#00ffce,#00fffa,#00f8ff,#00fff4,#09ffc3,#4cff80,#8eff3e,#c4ff08,#e8ff00,#f3ff00,#e3ff00,#b8ff14,#79ff53,#2eff9e,#00ffe0,#00f9ff,#00f2ff,#00fffa,#00ffcc,#42ff8a,#86ff46,#bdff0f,#e4ff00,#f3ff00,#e8ff00,#c4ff08,#8eff3e)"></p>
<p style="background:linear-gradient(90deg,#deff00,#eaff00,#deff00,#bbff11,#89ff43,#4cff80,#0dffbf,#00ffed,#00feff,#00fff4,#01ffcb,#3eff8e,#7fff4d,#b4ff18,#daff00,#eaff00,#e0ff00,#bdff0f,#84ff48,#41ff8b,#00ffcd,#00fff7,#00faff,#00fff9,#00ffd2,#35ff97,#77ff55,#adff1f,#d6ff00,#eaff00,#e4ff00,#c6ff06,#96ff36)"></p>
<p style="background:linear-gradient(90deg,#d0ff00,#e1ff00,#dbff00,#beff0e,#90ff3c,#59ff73,#1bffb1,#00ffe1,#00fff8,#00fff2,#00ffd1,#32ff9a,#71ff5b,#a5ff27,#ccff00,#e0ff00,#dcff00,#bfff0d,#8eff3e,#52ff7a,#12ffba,#00ffe7,#00fffb,#00fff6,#00ffd7,#29ffa3,#69ff63,#9eff2e,#c8ff04,#dfff00,#dfff00,#c7ff05,#9cff30)"></p>
<p style="background:linear-gradient(90deg,#cfff00,#e3ff00,#dfff00,#c4ff08,#97ff35,#60ff6c,#1fffad,#00ffe0,#00fffb,#00fff9,#00ffda,#28ffa4,#69ff63,#9fff2d,#c9ff03,#e1ff00,#e1ff00,#c7ff05,#98ff34,#5eff6e,#1dffaf,#00ffe1,#00fffc,#00fffd,#00ffe2,#1dffaf,#5dff6f,#95ff37,#c3ff09,#dfff00,#e3ff00,#cfff00,#a7ff25)"></p>
<p style="background:linear-gradient(90deg,#d2ff00,#e8ff00,#e6ff00,#ccff00,#9fff2d,#66ff66,#22ffaa,#00ffe1,#00feff,#00fdff,#00ffe5,#1dffaf,#60ff6c,#9aff32,#c8ff04,#e4ff00,#e7ff00,#d0ff00,#a3ff29,#69ff63,#26ffa6,#00ffde,#00ffff,#00faff,#00ffee,#0fffbd,#51ff7b,#8eff3e,#bfff0d,#dfff00,#e9ff00,#d9ff00,#b3ff19)"></p>
<p style="background:linear-gradient(90deg,#d5ff00,#efff00,#efff00,#d6ff00,#a8ff24,#6eff5e,#27ffa5,#00ffe1,#00faff,#00f6ff,#00ffef,#12ffba,#57ff75,#94ff38,#c6ff06,#e6ff00,#ecff00,#d9ff00,#aeff1e,#75ff57,#30ff9c,#00ffd9,#00fdff,#00f4ff,#00fffa,#01ffcb,#43ff89,#85ff47,#baff12,#dfff00,#edff00,#e2ff00,#beff0e)"></p>
<p style="background:linear-gradient(90deg,#dcff00,#faff00,#fcff00,#e4ff00,#b4ff18,#76ff56,#2cffa0,#00ffe0,#00f7ff,#00f0ff,#00fffa,#06ffc6,#4dff7f,#8eff3e,#c3ff09,#e7ff00,#f2ff00,#e1ff00,#b9ff13,#80ff4c,#3bff91,#00ffd3,#00fdff,#00eeff,#00faff,#00ffd9,#35ff97,#7bff51,#b4ff18,#deff00,#f1ff00,#eaff00,#caff02)"></p>
<p style="background:linear-gradient(90deg,#e7ff00,#fff600,#fff100,#f8ff00,#c5ff07,#81ff4b,#32ff9a,#00ffde,#00f5ff,#00eaff,#00fbff,#00ffd1,#42ff8a,#88ff44,#c0ff0c,#e7ff00,#f6ff00,#eaff00,#c3ff09,#8bff41,#47ff85,#00ffcd,#00fdff,#00e9ff,#00f1ff,#00ffe7,#26ffa6,#71ff5b,#adff1f,#dcff00,#f4ff00,#f2ff00,#d5ff00)"></p>
<p style="background:linear-gradient(90deg,#fffc00,#ffd600,#ffce00,#ffe400,#e4ff00,#92ff3a,#42ff8a,#00ffe4,#00dcff,#00c6ff,#00dbff,#00ffe5,#3eff8e,#84ff48,#c5ff07,#f6ff00,#fff500,#fffe00,#d9ff00,#9bff31,#58ff74,#05ffc7,#00ecff,#00c7ff,#00cdff,#00faff,#1cffb0,#68ff64,#adff1f,#e6ff00,#fff900,#fff700,#ecff00)"></p>
<p style="background:linear-gradient(90deg,#ffda00,#ffa600,#ff9900,#ffb100,#ffef00,#abff21,#5aff72,#00ffdf,#00b6ff,#0085ff,#00a3ff,#00feff,#40ff8c,#7fff4d,#d2ff00,#fff100,#ffd800,#ffde00,#faff00,#b2ff1a,#63ff69,#17ffb5,#00d6ff,#008cff,#008cff,#00d6ff,#17ffb5,#65ff67,#b3ff19,#fbff00,#ffde00,#ffd800,#fff100)"></p>
<p style="background:linear-gradient(90deg,#ffbe00,#ff7f00,#ff6f00,#ff8900,#ffd000,#c0ff0c,#66ff66,#00ffd3,#00aaff,#0062ff,#0080ff,#00eeff,#3eff8e,#7aff52,#d5ff00,#ffe600,#ffc800,#ffcb00,#fff100,#c2ff0a,#65ff67,#26ffa6,#00d3ff,#0070ff,#0066ff,#00bdff,#11ffbb,#64ff68,#b3ff19,#fffa00,#ffd000,#ffc600,#ffde00)"></p>
<p style="background:linear-gradient(90deg,#ffa900,#ff6400,#ff5300,#ff6f00,#ffbc00,#cdff00,#6aff62,#00ffce,#00aaff,#005dff,#0076ff,#00e4ff,#38ff94,#75ff57,#d4ff00,#ffe500,#ffc400,#ffc600,#ffeb00,#c9ff03,#69ff63,#2bffa1,#00d5ff,#006bff,#005cff,#00b2ff,#07ffc5,#62ff6a,#b0ff1c,#fffa00,#ffcd00,#ffc100,#ffd900)"></p>
<p style="background:linear-gradient(90deg,#ff9700,#ff4b00,#ff3a00,#ff5900,#ffac00,#d9ff00,#6eff5e,#04ffc8,#00acff,#0058ff,#006cff,#00daff,#31ff9b,#70ff5c,#d2ff00,#ffe500,#ffc100,#ffc100,#ffe500,#d0ff00,#6fff5d,#2fff9d,#00d7ff,#0067ff,#0052ff,#00a6ff,#00ffce,#60ff6c,#adff1f,#fffb00,#ffcb00,#ffbd00,#ffd300)"></p>
<p style="background:linear-gradient(90deg,#ff8700,#ff3500,#ff2300,#ff4700,#ff9f00,#e3ff00,#71ff5b,#09ffc3,#00aeff,#0054ff,#0063ff,#00d0ff,#2affa2,#6cff60,#cfff00,#ffe400,#ffbe00,#ffbd00,#ffdf00,#d7ff00,#74ff58,#33ff99,#00d9ff,#0064ff,#0048ff,#009aff,#00ffd8,#5eff6e,#aaff22,#fffb00,#ffc900,#ffb900,#ffce00)"></p>
<p style="background:linear-gradient(90deg,#ff7700,#ff1f00,#ff0f00,#ff3800,#ff9400,#ebff00,#73ff59,#0fffbd,#00b0ff,#0051ff,#005aff,#00c6ff,#23ffa9,#67ff65,#cdff00,#ffe400,#ffbb00,#ffb800,#ffd900,#deff00,#7aff52,#38ff94,#00dcff,#0061ff,#003fff,#008eff,#00ffe3,#5bff71,#a6ff26,#fffc00,#ffc700,#ffb500,#ffc800)"></p>
<p style="background:linear-gradient(90deg,#ff7300,#ff0b00,#f10000,#ff1a00,#ff7800,#fff600,#7bff51,#2cffa0,#00ccff,#005aff,#0046ff,#009eff,#00ffd2,#62ff6a,#b8ff14,#ffe900,#ffb400,#ffa600,#ffc100,#fdff00,#96ff36,#4dff7f,#00f8ff,#0071ff,#0034ff,#0069ff,#00edff,#46ff86,#8eff3e,#f6ff00,#ffc500,#ffa700,#ffb200)"></p>
<p style="background:linear-gradient(90deg,#ff8300,#ff0200,#d50000,#f00000,#ff4800,#ffc500,#afff1d,#58ff74,#00fffb,#007dff,#0039ff,#0061ff,#00ddff,#3aff92,#88ff44,#fdff00,#ffb300,#ff8e00,#ff9800,#ffd000,#cdff00,#64ff68,#00ffcc,#009dff,#0038ff,#003aff,#00a2ff,#05ffc7,#65ff67,#d1ff00,#ffcd00,#ff9700,#ff8e00)"></p>
<p style="background:linear-gradient(90deg,#ff9d00,#ff0900,#c80000,#d20000,#ff1b00,#ff9000,#ebff00,#71ff5b,#0fffbd,#00adff,#0044ff,#0039ff,#0093ff,#00ffdb,#63ff69,#d0ff00,#ffc200,#ff8100,#ff7300,#ff9e00,#fff400,#8cff40,#34ff98,#00d0ff,#0050ff,#0021ff,#005eff,#00e4ff,#44ff88,#9dff2f,#ffe600,#ff9500,#ff7200)"></p>
<p style="background:linear-gradient(90deg,#ffaa00,#ff2300,#d10000,#c60000,#f70000,#ff5c00,#ffd700,#a0ff2c,#47ff85,#00e2ff,#0062ff,#0028ff,#0055ff,#00d1ff,#36ff96,#97ff35,#ffe200,#ff8400,#ff5900,#ff6d00,#ffbb00,#c9ff03,#5bff71,#00fffa,#0076ff,#0020ff,#002dff,#0097ff,#00ffd0,#68ff64,#ecff00,#ffa300,#ff6200)"></p>
<p style="background:linear-gradient(90deg,#ffd000,#ff4b00,#f40000,#d10000,#e40000,#ff2d00,#ff9b00,#e2ff00,#73ff59,#00ffdf,#008dff,#002eff,#002aff,#0085ff,#00ffe8,#65ff67,#eaff00,#ff9900,#ff4c00,#ff4300,#ff7f00,#fff000,#7eff4e,#0effbe,#00a4ff,#0031ff,#0010ff,#0052ff,#00d8ff,#41ff8b,#afff1d,#ffc400,#ff6300)"></p>
<p style="background:linear-gradient(90deg,#e3ff00,#ff7000,#ff3000,#f80000,#e50000,#ff0700,#ff5d00,#ffd700,#9cff30,#2dff9f,#00bfff,#0045ff,#0016ff,#0046ff,#00c1ff,#2fff9d,#a7ff25,#ffc100,#ff5200,#ff2400,#ff4600,#ffad00,#bfff0d,#45ff87,#00d6ff,#004fff,#0009ff,#001fff,#0088ff,#00ffdd,#72ff5a,#fff500,#ff7700)"></p>
<p style="background:linear-gradient(90deg,#81ff4b,#ffb200,#ff7900,#ff3a00,#fe0000,#ef0000,#ff2300,#ff9000,#e3ff00,#6cff60,#00f6ff,#006aff,#0016ff,#0019ff,#0074ff,#00fffa,#6bff61,#fff900,#ff6d00,#ff1600,#ff1400,#ff6700,#fff200,#70ff5c,#00fff2,#0077ff,#0013ff,#0000ff,#0043ff,#00c7ff,#3dff8f,#c3ff09,#ff9f00)"></p>
<p style="background:linear-gradient(90deg,#50ff7c,#ffe200,#ffa100,#ff6100,#ff1000,#e70000,#ff0a00,#ff7500,#faff00,#7eff4e,#00fdff,#006bff,#000eff,#0003ff,#0051ff,#00dfff,#61ff6b,#f3ff00,#ff7200,#ff0b00,#fd0000,#ff5000,#ffe000,#7aff52,#00fff3,#006fff,#0006ff,#0000eb,#0026ff,#00a7ff,#23ffa9,#b4ff18,#ffa500)"></p>
<p style="background:linear-gradient(90deg,#2affa2,#ebff00,#ffc300,#ff8200,#ff1e00,#df0000,#f60000,#ff6400,#fff800,#88ff44,#00f9ff,#0065ff,#0003ff,#0000ef,#0036ff,#00c3ff,#54ff78,#e9ff00,#ff7100,#fd0000,#eb0000,#ff4100,#ffd900,#7dff4f,#00fcff,#005cff,#0000f2,#0000d6,#000fff,#008fff,#13ffb9,#b0ff1c,#ffa100)"></p>
<p style="background:linear-gradient(90deg,#07ffc5,#b2ff1a,#ffe200,#ffa200,#ff2b00,#d70000,#e30000,#ff5100,#ffed00,#95ff37,#00f4ff,#005eff,#0000f8,#0000de,#001bff,#00a4ff,#41ff8b,#deff00,#ff7100,#f20000,#d90000,#ff3100,#ffd200,#7fff4d,#00eeff,#0049ff,#0000de,#0000c1,#0000f6,#0075ff,#00ffce,#adff1f,#ff9e00)"></p>
<p style="background:linear-gradient(90deg,#00ffe4,#76ff56,#fffc00,#ffc100,#ff3700,#cf0000,#cf0000,#ff3d00,#ffe100,#99ff33,#00edff,#0056ff,#0000ef,#0000cd,#0001ff,#0083ff,#25ffa7,#d4ff00,#ff7300,#e70000,#c70000,#ff2200,#ffca00,#82ff4a,#00deff,#0034ff,#0000ca,#0000ac,#0000de,#005aff,#00ffe6,#a9ff23,#ff9b00)"></p>
<p style="background:linear-gradient(90deg,#00fbff,#38ff94,#cbff01,#ffde00,#ff4400,#c80000,#bb0000,#ff2900,#ffd500,#9dff2f,#00e3ff,#004cff,#0000e6,#0000be,#0000e6,#0060ff,#03ffc9,#c8ff04,#ff7500,#dd0000,#b50000,#ff1100,#ffc200,#84ff48,#00cbff,#001dff,#0000b5,#000098,#0000c6,#003dff,#00fcff,#a6ff26,#ff9900)"></p>
<p style="background:linear-gradient(90deg,#00ddff,#00ffd7,#7eff4e,#fffa00,#ff5200,#c10000,#a70000,#ff1400,#ffc700,#a1ff2b,#00d5ff,#0040ff,#0000dd,#0000b1,#0000cd,#003cff,#00fff5,#bdff0f,#ff7a00,#d40000,#a30000,#ff0100,#ffba00,#87ff45,#00b5ff,#0006ff,#0000a0,#000083,#0000ad,#001fff,#00dfff,#a2ff2a,#ff9700)"></p>
<p style="background:linear-gradient(90deg,#00d5ff,#00ffe9,#81ff4b,#fff700,#ff4000,#aa0000,#990000,#ff1900,#ffda00,#95ff37,#00b5ff,#002fff,#0000d9,#0000b4,#0000d2,#0043ff,#00ffd9,#d0ff00,#ff5e00,#b70000,#940000,#ff0900,#ffd200,#76ff56,#008cff,#0000e8,#000090,#000080,#0000af,#0028ff,#00faff,#baff12,#ff7400)"></p>
<p style="background:linear-gradient(90deg,#00caff,#00fff6,#b4ff18,#ffec00,#ff2500,#8e0000,#8f0000,#ff2700,#fff400,#8cff40,#0092ff,#001dff,#0000d6,#0000bc,#0000df,#0053ff,#31ff9b,#edff00,#ff3900,#960000,#8a0000,#ff1c00,#fff200,#69ff63,#0062ff,#0000ce,#000083,#000080,#0000b8,#003bff,#05ffc7,#ddff00,#ff4800)"></p>
<p style="background:linear-gradient(90deg,#00b3ff,#00f9ff,#a8ff24,#ffde00,#ff0700,#800000,#880000,#ff3900,#ecff00,#2affa2,#006fff,#000aff,#0000d4,#0000c4,#0000ec,#0065ff,#6dff5f,#fff200,#ff1200,#800000,#850000,#ff3400,#e8ff00,#1dffaf,#003aff,#0000b6,#000080,#000080,#0000c2,#004fff,#67ff65,#fffa00,#ff1a00)"></p>
<p style="background:linear-gradient(90deg,#0095ff,#00e8ff,#a0ff2c,#ffcc00,#e70000,#800000,#850000,#ff4f00,#cdff00,#00ffed,#004cff,#0000f7,#0000d1,#0000cd,#0000fa,#0079ff,#77ff55,#ffd400,#e90000,#800000,#860000,#ff5200,#c3ff09,#00f4ff,#0015ff,#0000a1,#000080,#000080,#0000cc,#0066ff,#70ff5c,#ffd400,#e80000)"></p>
<p style="background:linear-gradient(90deg,#0072ff,#00d6ff,#9cff30,#ffb700,#c60000,#800000,#870000,#ff6900,#b1ff1b,#00d7ff,#002bff,#0000e4,#0000ce,#0000d6,#000aff,#008fff,#86ff46,#ffb200,#bf0000,#800000,#8e0000,#ff7500,#a2ff2a,#00b6ff,#0000f3,#00008e,#000080,#000081,#0000d8,#0080ff,#81ff4b,#ffaa00,#b70000)"></p>
<p style="background:linear-gradient(90deg,#004fff,#00c7ff,#9cff30,#ff9e00,#a30000,#800000,#8e0000,#ff8500,#98ff34,#00a5ff,#000bff,#0000d1,#0000c9,#0000dd,#0018ff,#00a8ff,#99ff33,#ff8c00,#940000,#800000,#9e0000,#ff9a00,#86ff46,#007fff,#0000d4,#000080,#000080,#000085,#0000e4,#009fff,#99ff33,#ff7a00,#850000)"></p>
<p style="background:linear-gradient(90deg,#002eff,#00baff,#9eff2e,#ff8800,#860000,#800000,#980000,#ff9f00,#87ff45,#007dff,#0000f0,#0000c0,#0000c4,#0000e3,#0025ff,#00c1ff,#adff1f,#ff6a00,#800000,#800000,#b10000,#ffbc00,#76ff56,#0056ff,#0000bd,#000080,#000080,#000089,#0000ef,#00c1ff,#b3ff19,#ff4f00,#800000)"></p>
<p style="background:linear-gradient(90deg,#0011ff,#00a8ff,#98ff34,#ff8b00,#8b0000,#800000,#9c0000,#ffa100,#85ff47,#007aff,#0000ea,#0000b9,#0000c0,#0000e5,#002bff,#00c7ff,#b0ff1c,#ff6b00,#800000,#800000,#b50000,#ffbe00,#76ff56,#0056ff,#0000bd,#000080,#000080,#000089,#0000ef,#00c1ff,#b2ff1a,#ff5200,#800000)"></p>
<p style="background:linear-gradient(90deg,#0000fa,#009aff,#93ff39,#ff8e00,#900000,#800000,#a00000,#ffa300,#84ff48,#0077ff,#0000e4,#0000b2,#0000ba,#0000e5,#0030ff,#00ccff,#b3ff19,#ff6d00,#800000,#800000,#b90000,#ffbf00,#76ff56,#0056ff,#0000bd,#000080,#000080,#000089,#0000ef,#00c1ff,#b1ff1b,#ff5500,#800000)"></p>
<p style="background:linear-gradient(90deg,#0000eb,#0090ff,#90ff3c,#ff9100,#940000,#800000,#a50000,#ffa500,#83ff49,#0075ff,#0000df,#0000aa,#0000b3,#0000e3,#0033ff,#00d0ff,#b6ff16,#ff6e00,#800000,#800000,#bd0000,#ffc100,#75ff57,#0056ff,#0000bd,#000080,#000080,#000089,#0000ef,#00c1ff,#b1ff1b,#ff5700,#800000)"></p>
<p style="background:linear-gradient(90deg,#0000e0,#008aff,#8eff3e,#ff9300,#990000,#800000,#a90000,#ffa700,#82ff4a,#0074ff,#0000db,#0000a2,#0000aa,#0000de,#0034ff,#00d4ff,#baff12,#ff6f00,#820000,#800000,#c10000,#ffc300,#75ff57,#0056ff,#0000bd,#000080,#000080,#000089,#0000ef,#00c1ff,#b0ff1c,#ff5a00,#800000)"></p>
<p style="background:linear-gradient(90deg,#0000da,#0086ff,#8cff40,#ff9600,#9e0000,#800000,#ae0000,#ffaa00,#82ff4a,#0072ff,#0000d7,#00009a,#0000a1,#0000d8,#0033ff,#00d7ff,#bdff0f,#ff7000,#860000,#800000,#c60000,#ffc500,#75ff57,#0056ff,#0000bd,#000080,#000080,#000089,#0000ef,#00c1ff,#afff1d,#ff5d00,#800000)"></p>
<p style="background:linear-gradient(90deg,#0000d6,#0084ff,#8bff41,#ff9800,#a20000,#800000,#b20000,#ffac00,#81ff4b,#0071ff,#0000d4,#000094,#000098,#0000d0,#0031ff,#00d9ff,#c0ff0c,#ff7100,#8a0000,#800000,#ca0000,#ffc700,#75ff57,#0056ff,#0000bd,#000080,#000080,#000089,#0000ef,#00c1ff,#afff1d,#ff6000,#800000)"></p>
<p style="background:linear-gradient(90deg,#0000d4,#0082ff,#8aff42,#ff9a00,#a70000,#800000,#b70000,#ffae00,#81ff4b,#0070ff,#0000d1,#00008e,#00008f,#0000c8,#002cff,#00d9ff,#c2ff0a,#ff7100,#8f0000,#800000,#ce0000,#ffc800,#75ff57,#0056ff,#0000bd,#000080,#000080,#000089,#0000ef,#00c1ff,#aeff1e,#ff6200,#800000)"></p>
<p style="background:linear-gradient(90deg,#0000e8,#0096ff,#8eff3e,#ff9d00,#c00000,#800000,#ce0000,#ffaf00,#84ff48,#0084ff,#0000e4,#00009d,#00009a,#0000d3,#003cff,#00ebff,#c8ff04,#ff7500,#a90000,#800000,#e30000,#ffc800,#77ff55,#006bff,#0000d2,#000086,#000080,#00009e,#0005ff,#00d3ff,#b3ff19,#ff6a00,#9d0000)"></p>
<p style="background:linear-gradient(90deg,#0002ff,#00acff,#94ff38,#ffa100,#de0000,#920000,#eb0000,#ffb200,#88ff44,#009aff,#0000fb,#0000b0,#0000aa,#0000e2,#004eff,#00feff,#cfff00,#ff7a00,#ca0000,#920000,#fd0000,#ffc900,#7bff51,#0082ff,#0000eb,#00009e,#00008d,#0000b6,#001eff,#00e6ff,#b9ff13,#ff7300,#c10000)"></p>
<p style="background:linear-gradient(90deg,#0019ff,#00c0ff,#99ff33,#ffa700,#fe0000,#bd0000,#ff0900,#ffb600,#8eff3e,#00afff,#0013ff,#0000c5,#0000bb,#0000f1,#005eff,#00ffed,#d5ff00,#ff8200,#ea0000,#bd0000,#ff1800,#ffcb00,#7fff4d,#0098ff,#0004ff,#0000b6,#0000a4,#0000cd,#0035ff,#00f8ff,#bfff0d,#ff7e00,#e40000)"></p>
<p style="background:linear-gradient(90deg,#0031ff,#00d3ff,#9fff2d,#ffaf00,#ff1f00,#e80000,#ff2700,#ffbc00,#93ff39,#00c2ff,#0029ff,#0000d9,#0000cd,#0001ff,#006eff,#00ffdd,#daff00,#ff8b00,#ff0d00,#e80000,#ff3400,#ffce00,#84ff48,#00adff,#001bff,#0000cd,#0000bc,#0000e5,#004cff,#00fff4,#c4ff08,#ff8b00,#ff0a00)"></p>
<p style="background:linear-gradient(90deg,#0047ff,#00e4ff,#a4ff28,#ffb900,#ff4000,#ff1400,#ff4700,#ffc400,#99ff33,#00d5ff,#003fff,#0000ef,#0000e0,#0012ff,#007dff,#00ffd0,#ddff00,#ff9700,#ff3000,#ff1300,#ff5100,#ffd400,#89ff43,#00c0ff,#0032ff,#0000e5,#0000d3,#0000fc,#0062ff,#00ffe3,#c8ff04,#ff9a00,#ff2f00)"></p>
<p style="height:1px;background:linear-gradient(90deg,#0056ff,#00efff,#a8ff24,#ffc000,#ff5600,#ff3100,#ff5d00,#ffca00,#9cff30,#00e0ff,#004eff,#0000fd,#0000ed,#001dff,#0087ff,#04ffc8,#deff00,#ffa100,#ff4700,#ff3000,#ff6500,#ffd900,#8cff40,#00ccff,#0041ff,#0000f4,#0000e3,#000dff,#0071ff,#00ffd9,#cbff01,#ffa500,#ff4800)"></p>
</div><div class="hm" style="left:464px;top:110px;width:129px;height:274px">
<p style="height:4px;background:linear-gradient(90deg,#66ff66,#70ff5c,#77ff55,#78ff54,#74ff58,#6cff60,#62ff6a,#59ff73,#54ff78,#55ff77,#5bff71,#64ff68,#6eff5e,#76ff56,#78ff54,#75ff57,#6eff5e,#64ff68,#5bff71,#55ff77,#54ff78,#59ff73,#62ff6a)"></p>
<p style="height:4px;background:linear-gradient(90deg,#65ff67,#6fff5d,#76ff56,#78ff54,#75ff57,#6cff60,#62ff6a,#59ff73,#54ff78,#55ff77,#5aff72,#64ff68,#6eff5e,#76ff56,#78ff54,#75ff57,#6eff5e,#64ff68,#5aff72,#55ff77,#54ff78,#59ff73,#62ff6a)"></p>
<p style="height:4px;background:linear-gradient(90deg,#64ff68,#6eff5e,#76ff56,#78ff54,#75ff57,#6dff5f,#63ff69,#5aff72,#54ff78,#54ff78,#5aff72,#64ff68,#6eff5e,#75ff57,#78ff54,#75ff57,#6eff5e,#64ff68,#5aff72,#54ff78,#54ff78,#5aff72,#63ff69)"></p>
<p style="height:4px;background:linear-gradient(90deg,#63ff69,#6dff5f,#75ff57,#78ff54,#76ff56,#6eff5e,#64ff68,#5aff72,#54ff78,#54ff78,#5aff72,#63ff69,#6eff5e,#75ff57,#78ff54,#76ff56,#6eff5e,#63ff69,#5aff72,#54ff78,#54ff78,#5aff72,#63ff69)"></p>
<p style="height:4px;background:linear-gradient(90deg,#62ff6a,#6cff60,#75ff57,#78ff54,#76ff56,#6eff5e,#64ff68,#5bff71,#55ff77,#54ff78,#5aff72,#63ff69,#6dff5f,#75ff57,#78ff54,#76ff56,#6eff5e,#63ff69,#5aff72,#54ff78,#54ff78,#5aff72,#64ff68)"></p>
<p style="height:4px;background:linear-gradient(90deg,#61ff6b,#6bff61,#74ff58,#78ff54,#76ff56,#6fff5d,#65ff67,#5bff71,#55ff77,#54ff78,#59ff73,#63ff69,#6dff5f,#75ff57,#78ff54,#76ff56,#6eff5e,#63ff69,#5aff72,#54ff78,#55ff77,#5bff71,#64ff68)"></p>
<p style="height:4px;background:linear-gradient(90deg,#60ff6c,#6aff62,#74ff58,#78ff54,#77ff55,#70ff5c,#66ff66,#5cff70,#55ff77,#54ff78,#59ff73,#62ff6a,#6dff5f,#75ff57,#78ff54,#76ff56,#6eff5e,#63ff69,#5aff72,#54ff78,#55ff77,#5bff71,#65ff67)"></p>
<p style="height:4px;background:linear-gradient(90deg,#5fff6d,#69ff63,#73ff59,#78ff54,#77ff55,#70ff5c,#66ff66,#5cff70,#55ff77,#54ff78,#59ff73,#62ff6a,#6dff5f,#75ff57,#78ff54,#76ff56,#6dff5f,#63ff69,#59ff73,#54ff78,#55ff77,#5bff71,#65ff67)"></p>
<p style="height:4px;background:linear-gradient(90deg,#5eff6e,#68ff64,#72ff5a,#78ff54,#77ff55,#71ff5b,#67ff65,#5dff6f,#55ff77,#54ff78,#58ff74,#62ff6a,#6cff60,#75ff57,#78ff54,#76ff56,#6dff5f,#63ff69,#59ff73,#54ff78,#55ff77,#5cff70,#66ff66)"></p>
<p style="height:4px;background:linear-gradient(90deg,#5dff6f,#67ff65,#71ff5b,#77ff55,#78ff54,#72ff5a,#68ff64,#5dff6f,#56ff76,#54ff78,#58ff74,#61ff6b,#6cff60,#75ff57,#78ff54,#76ff56,#6dff5f,#63ff69,#59ff73,#54ff78,#55ff77,#5cff70,#66ff66)"></p>
<p style="height:4px;background:linear-gradient(90deg,#5cff70,#66ff66,#70ff5c,#77ff55,#78ff54,#72ff5a,#68ff64,#5eff6e,#56ff76,#54ff78,#58ff74,#61ff6b,#6cff60,#75ff57,#78ff54,#76ff56,#6dff5f,#62ff6a,#59ff73,#54ff78,#55ff77,#5cff70,#67ff65)"></p>
<p style="height:4px;background:linear-gradient(90deg,#5bff71,#65ff67,#70ff5c,#77ff55,#78ff54,#73ff59,#69ff63,#5eff6e,#56ff76,#54ff78,#58ff74,#61ff6b,#6cff60,#75ff57,#78ff54,#76ff56,#6dff5f,#62ff6a,#59ff73,#54ff78,#55ff77,#5dff6f,#68ff64)"></p>
<p style="height:4px;background:linear-gradient(90deg,#5aff72,#64ff68,#6fff5d,#76ff56,#78ff54,#73ff59,#6aff62,#5fff6d,#56ff76,#54ff78,#57ff75,#60ff6c,#6bff61,#75ff57,#78ff54,#76ff56,#6dff5f,#62ff6a,#59ff73,#54ff78,#56ff76,#5dff6f,#68ff64)"></p>
<p style="height:4px;background:linear-gradient(90deg,#59ff73,#63ff69,#6eff5e,#76ff56,#78ff54,#74ff58,#6bff61,#60ff6c,#57ff75,#54ff78,#57ff75,#60ff6c,#6bff61,#74ff58,#78ff54,#76ff56,#6dff5f,#62ff6a,#58ff74,#54ff78,#56ff76,#5eff6e,#69ff63)"></p>
<p style="height:4px;background:linear-gradient(90deg,#58ff74,#62ff6a,#6dff5f,#75ff57,#78ff54,#75ff57,#6bff61,#60ff6c,#57ff75,#54ff78,#57ff75,#60ff6c,#6bff61,#74ff58,#78ff54,#76ff56,#6dff5f,#62ff6a,#58ff74,#54ff78,#56ff76,#5eff6e,#69ff63)"></p>
<p style="height:4px;background:linear-gradient(90deg,#57ff75,#60ff6c,#6cff60,#75ff57,#78ff54,#75ff57,#6cff60,#61ff6b,#58ff74,#54ff78,#57ff75,#5fff6d,#6bff61,#74ff58,#78ff54,#76ff56,#6dff5f,#62ff6a,#58ff74,#54ff78,#56ff76,#5fff6d,#6aff62)"></p>
<p style="height:4px;background:linear-gradient(90deg,#56ff76,#5fff6d,#6bff61,#74ff58,#78ff54,#76ff56,#6dff5f,#61ff6b,#58ff74,#54ff78,#56ff76,#5fff6d,#6aff62,#74ff58,#78ff54,#76ff56,#6dff5f,#62ff6a,#58ff74,#54ff78,#56ff76,#5fff6d,#6aff62)"></p>
<p style="height:4px;background:linear-gradient(90deg,#56ff76,#5eff6e,#69ff63,#73ff59,#78ff54,#76ff56,#6eff5e,#62ff6a,#58ff74,#54ff78,#56ff76,#5fff6d,#6aff62,#74ff58,#78ff54,#76ff56,#6dff5f,#61ff6b,#58ff74,#54ff78,#57ff75,#60ff6c,#6bff61)"></p>
<p style="height:4px;background:linear-gradient(90deg,#55ff77,#5dff6f,#68ff64,#73ff59,#78ff54,#76ff56,#6eff5e,#63ff69,#59ff73,#54ff78,#56ff76,#5eff6e,#6aff62,#74ff58,#78ff54,#76ff56,#6dff5f,#61ff6b,#58ff74,#54ff78,#57ff75,#60ff6c,#6cff60)"></p>
<p style="height:4px;background:linear-gradient(90deg,#55ff77,#5cff70,#67ff65,#72ff5a,#78ff54,#77ff55,#6fff5d,#64ff68,#59ff73,#54ff78,#56ff76,#5eff6e,#6aff62,#74ff58,#78ff54,#76ff56,#6dff5f,#61ff6b,#57ff75,#54ff78,#57ff75,#61ff6b,#6cff60)"></p>
<p style="height:4px;background:linear-gradient(90deg,#54ff78,#5bff71,#66ff66,#71ff5b,#78ff54,#77ff55,#70ff5c,#64ff68,#5aff72,#54ff78,#56ff76,#5eff6e,#69ff63,#74ff58,#78ff54,#76ff56,#6dff5f,#61ff6b,#57ff75,#54ff78,#57ff75,#61ff6b,#6dff5f)"></p>
<p style="height:4px;background:linear-gradient(90deg,#54ff78,#5aff72,#65ff67,#70ff5c,#77ff55,#77ff55,#70ff5c,#65ff67,#5aff72,#54ff78,#55ff77,#5dff6f,#69ff63,#73ff59,#78ff54,#76ff56,#6cff60,#61ff6b,#57ff75,#54ff78,#58ff74,#62ff6a,#6dff5f)"></p>
<p style="height:4px;background:linear-gradient(90deg,#54ff78,#59ff73,#63ff69,#6fff5d,#77ff55,#78ff54,#71ff5b,#66ff66,#5bff71,#54ff78,#55ff77,#5dff6f,#69ff63,#73ff59,#78ff54,#76ff56,#6cff60,#61ff6b,#57ff75,#54ff78,#58ff74,#62ff6a,#6eff5e)"></p>
<p style="height:4px;background:linear-gradient(90deg,#53ff79,#57ff75,#61ff6b,#6dff5f,#76ff56,#79ff53,#73ff59,#68ff64,#5cff70,#54ff78,#54ff78,#5bff71,#67ff65,#72ff5a,#78ff54,#77ff55,#6eff5e,#62ff6a,#58ff74,#53ff79,#57ff75,#61ff6b,#6dff5f)"></p>
<p style="height:4px;background:linear-gradient(90deg,#53ff79,#55ff77,#5fff6d,#6bff61,#75ff57,#79ff53,#75ff57,#6aff62,#5eff6e,#55ff77,#53ff79,#5aff72,#65ff67,#71ff5b,#78ff54,#78ff54,#70ff5c,#63ff69,#58ff74,#53ff79,#56ff76,#5fff6d,#6cff60)"></p>
<p style="height:4px;background:linear-gradient(90deg,#53ff79,#54ff78,#5cff70,#69ff63,#74ff58,#79ff53,#77ff55,#6cff60,#60ff6c,#56ff76,#53ff79,#58ff74,#63ff69,#70ff5c,#78ff54,#79ff53,#71ff5b,#65ff67,#59ff73,#53ff79,#55ff77,#5eff6e,#6bff61)"></p>
<p style="height:4px;background:linear-gradient(90deg,#54ff78,#53ff79,#5aff72,#66ff66,#73ff59,#79ff53,#78ff54,#6fff5d,#62ff6a,#56ff76,#52ff7a,#56ff76,#61ff6b,#6eff5e,#78ff54,#7aff52,#73ff59,#67ff65,#5aff72,#53ff79,#54ff78,#5dff6f,#6aff62)"></p>
<p style="height:4px;background:linear-gradient(90deg,#55ff77,#52ff7a,#57ff75,#63ff69,#71ff5b,#79ff53,#79ff53,#71ff5b,#64ff68,#58ff74,#52ff7a,#55ff77,#5fff6d,#6dff5f,#77ff55,#7aff52,#74ff58,#68ff64,#5bff71,#53ff79,#53ff79,#5bff71,#68ff64)"></p>
<p style="height:4px;background:linear-gradient(90deg,#56ff76,#51ff7b,#55ff77,#61ff6b,#6fff5d,#79ff53,#7aff52,#73ff59,#66ff66,#59ff73,#52ff7a,#53ff79,#5dff6f,#6bff61,#76ff56,#7bff51,#76ff56,#6aff62,#5cff70,#53ff79,#52ff7a,#5aff72,#67ff65)"></p>
<p style="height:4px;background:linear-gradient(90deg,#58ff74,#51ff7b,#53ff79,#5eff6e,#6cff60,#78ff54,#7bff51,#75ff57,#69ff63,#5bff71,#52ff7a,#52ff7a,#5bff71,#69ff63,#75ff57,#7bff51,#77ff55,#6cff60,#5eff6e,#53ff79,#51ff7b,#58ff74,#66ff66)"></p>
<p style="height:4px;background:linear-gradient(90deg,#5aff72,#51ff7b,#52ff7a,#5bff71,#69ff63,#76ff56,#7cff50,#77ff55,#6bff61,#5dff6f,#52ff7a,#51ff7b,#59ff73,#67ff65,#74ff58,#7bff51,#79ff53,#6eff5e,#5fff6d,#54ff78,#51ff7b,#57ff75,#64ff68)"></p>
<p style="height:4px;background:linear-gradient(90deg,#5dff6f,#52ff7a,#51ff7b,#59ff73,#67ff65,#74ff58,#7cff50,#79ff53,#6eff5e,#5fff6d,#53ff79,#50ff7c,#57ff75,#65ff67,#73ff59,#7bff51,#7aff52,#70ff5c,#61ff6b,#55ff77,#50ff7c,#55ff77,#62ff6a)"></p>
<p style="height:4px;background:linear-gradient(90deg,#60ff6c,#54ff78,#50ff7c,#56ff76,#64ff68,#72ff5a,#7bff51,#7bff51,#70ff5c,#61ff6b,#54ff78,#50ff7c,#55ff77,#62ff6a,#71ff5b,#7bff51,#7bff51,#72ff5a,#63ff69,#55ff77,#50ff7c,#54ff78,#61ff6b)"></p>
<p style="height:4px;background:linear-gradient(90deg,#63ff69,#55ff77,#4fff7d,#54ff78,#61ff6b,#70ff5c,#7bff51,#7cff50,#73ff59,#64ff68,#56ff76,#4fff7d,#53ff79,#60ff6c,#6fff5d,#7bff51,#7cff50,#74ff58,#65ff67,#56ff76,#4fff7d,#53ff79,#5fff6d)"></p>
<p style="height:4px;background:linear-gradient(90deg,#67ff65,#57ff75,#4fff7d,#52ff7a,#5dff6f,#6dff5f,#7aff52,#7dff4f,#75ff57,#67ff65,#58ff74,#4fff7d,#52ff7a,#5dff6f,#6dff5f,#7aff52,#7dff4f,#75ff57,#67ff65,#58ff74,#4fff7d,#52ff7a,#5dff6f)"></p>
<p style="height:4px;background:linear-gradient(90deg,#6aff62,#5aff72,#50ff7c,#50ff7c,#5aff72,#6aff62,#78ff54,#7eff4e,#78ff54,#69ff63,#5aff72,#50ff7c,#50ff7c,#5bff71,#6bff61,#79ff53,#7eff4e,#77ff55,#69ff63,#59ff73,#4fff7d,#50ff7c,#5cff70)"></p>
<p style="height:4px;background:linear-gradient(90deg,#6eff5e,#5dff6f,#51ff7b,#4eff7e,#57ff75,#67ff65,#77ff55,#7eff4e,#7aff52,#6cff60,#5cff70,#50ff7c,#4fff7d,#59ff73,#69ff63,#78ff54,#7eff4e,#79ff53,#6bff61,#5bff71,#50ff7c,#4fff7d,#5aff72)"></p>
<p style="height:4px;background:linear-gradient(90deg,#71ff5b,#61ff6b,#52ff7a,#4eff7e,#55ff77,#64ff68,#74ff58,#7eff4e,#7cff50,#6fff5d,#5eff6e,#51ff7b,#4eff7e,#56ff76,#66ff66,#76ff56,#7eff4e,#7bff51,#6dff5f,#5cff70,#50ff7c,#4eff7e,#58ff74)"></p>
<p style="height:4px;background:linear-gradient(90deg,#72ff5a,#60ff6c,#50ff7c,#4bff81,#52ff7a,#63ff69,#75ff57,#80ff4c,#7eff4e,#71ff5b,#5eff6e,#4fff7d,#4bff81,#53ff79,#65ff67,#77ff55,#80ff4c,#7eff4e,#70ff5c,#5dff6f,#4eff7e,#4bff81,#55ff77)"></p>
<p style="height:4px;background:linear-gradient(90deg,#73ff59,#5fff6d,#4dff7f,#47ff85,#50ff7c,#63ff69,#76ff56,#82ff4a,#81ff4b,#73ff59,#5eff6e,#4dff7f,#47ff85,#50ff7c,#63ff69,#77ff55,#82ff4a,#81ff4b,#72ff5a,#5eff6e,#4dff7f,#48ff84,#51ff7b)"></p>
<p style="height:4px;background:linear-gradient(90deg,#74ff58,#5eff6e,#4bff81,#44ff88,#4dff7f,#62ff6a,#77ff55,#84ff48,#83ff49,#75ff57,#5fff6d,#4bff81,#44ff88,#4dff7f,#61ff6b,#77ff55,#84ff48,#84ff48,#75ff57,#5fff6d,#4cff80,#44ff88,#4dff7f)"></p>
<p style="height:4px;background:linear-gradient(90deg,#75ff57,#5eff6e,#49ff83,#41ff8b,#4bff81,#61ff6b,#78ff54,#86ff46,#86ff46,#77ff55,#5fff6d,#4aff82,#41ff8b,#4aff82,#5fff6d,#77ff55,#86ff46,#87ff45,#78ff54,#61ff6b,#4bff81,#41ff8b,#48ff84)"></p>
<p style="height:4px;background:linear-gradient(90deg,#76ff56,#5dff6f,#46ff86,#3eff8e,#48ff84,#60ff6c,#79ff53,#89ff43,#89ff43,#79ff53,#60ff6c,#48ff84,#3eff8e,#46ff86,#5dff6f,#76ff56,#87ff45,#8aff42,#7cff50,#64ff68,#4bff81,#3fff8d,#44ff88)"></p>
<p style="height:4px;background:linear-gradient(90deg,#77ff55,#5cff70,#44ff88,#3bff91,#46ff86,#5fff6d,#79ff53,#8bff41,#8bff41,#7bff51,#61ff6b,#47ff85,#3bff91,#43ff89,#5aff72,#75ff57,#89ff43,#8cff40,#7fff4d,#66ff66,#4bff81,#3cff90,#40ff8c)"></p>
<p style="height:4px;background:linear-gradient(90deg,#78ff54,#5bff71,#42ff8a,#38ff94,#43ff89,#5eff6e,#7aff52,#8cff40,#8eff3e,#7dff4f,#62ff6a,#46ff86,#38ff94,#3fff8d,#57ff75,#74ff58,#8aff42,#8fff3d,#82ff4a,#69ff63,#4cff80,#3aff92,#3cff90)"></p>
<p style="height:4px;background:linear-gradient(90deg,#79ff53,#5aff72,#3fff8d,#35ff97,#41ff8b,#5dff6f,#7aff52,#8eff3e,#91ff3b,#80ff4c,#64ff68,#45ff87,#36ff96,#3bff91,#54ff78,#73ff59,#8aff42,#92ff3a,#86ff46,#6cff60,#4dff7f,#38ff94,#38ff94)"></p>
<p style="height:4px;background:linear-gradient(90deg,#7aff52,#5aff72,#3dff8f,#32ff9a,#3eff8e,#5bff71,#7bff51,#90ff3c,#93ff39,#82ff4a,#65ff67,#45ff87,#33ff99,#38ff94,#50ff7c,#71ff5b,#8bff41,#95ff37,#8aff42,#6fff5d,#4eff7e,#37ff95,#34ff98)"></p>
<p style="height:4px;background:linear-gradient(90deg,#7aff52,#59ff73,#3aff92,#2fff9d,#3bff91,#5aff72,#7bff51,#92ff3a,#96ff36,#85ff47,#67ff65,#44ff88,#31ff9b,#34ff98,#4dff7f,#6fff5d,#8bff41,#97ff35,#8dff3f,#73ff59,#50ff7c,#36ff96,#30ff9c)"></p>
<p style="height:4px;background:linear-gradient(90deg,#7cff50,#57ff75,#37ff95,#2bffa1,#38ff94,#5aff72,#7eff4e,#97ff35,#9cff30,#8aff42,#69ff63,#44ff88,#2dff9f,#2fff9d,#49ff83,#6fff5d,#8eff3e,#9cff30,#94ff38,#79ff53,#54ff78,#35ff97,#2bffa1)"></p>
<p style="height:4px;background:linear-gradient(90deg,#7eff4e,#56ff76,#33ff99,#27ffa5,#35ff97,#59ff73,#80ff4c,#9cff30,#a1ff2b,#8fff3d,#6bff61,#43ff89,#2affa2,#2bffa1,#45ff87,#6dff5f,#90ff3c,#a2ff2a,#9bff31,#7fff4d,#57ff75,#34ff98,#27ffa5)"></p>
<p style="height:4px;background:linear-gradient(90deg,#7fff4d,#54ff78,#30ff9c,#23ffa9,#33ff99,#59ff73,#83ff49,#a1ff2b,#a7ff25,#94ff38,#6eff5e,#43ff89,#27ffa5,#26ffa6,#40ff8c,#6bff61,#91ff3b,#a7ff25,#a2ff2a,#86ff46,#5cff70,#35ff97,#23ffa9)"></p>
<p style="height:4px;background:linear-gradient(90deg,#80ff4c,#53ff79,#2cffa0,#1fffad,#30ff9c,#58ff74,#85ff47,#a5ff27,#adff1f,#99ff33,#71ff5b,#43ff89,#24ffa8,#21ffab,#3cff90,#69ff63,#93ff39,#abff21,#a9ff23,#8dff3f,#61ff6b,#36ff96,#20ffac)"></p>
<p style="height:4px;background:linear-gradient(90deg,#82ff4a,#51ff7b,#28ffa4,#1bffb1,#2dff9f,#58ff74,#88ff44,#aaff22,#b3ff19,#9eff2e,#74ff58,#44ff88,#21ffab,#1dffaf,#37ff95,#66ff66,#93ff39,#b0ff1c,#b0ff1c,#94ff38,#67ff65,#38ff94,#1dffaf)"></p>
<p style="height:4px;background:linear-gradient(90deg,#83ff49,#4fff7d,#25ffa7,#17ffb5,#2affa2,#57ff75,#8aff42,#afff1d,#b9ff13,#a4ff28,#78ff54,#44ff88,#1fffad,#18ffb4,#32ff9a,#63ff69,#93ff39,#b3ff19,#b7ff15,#9cff30,#6dff5f,#3aff92,#1bffb1)"></p>
<p style="height:4px;background:linear-gradient(90deg,#84ff48,#4eff7e,#21ffab,#13ffb9,#27ffa5,#57ff75,#8cff40,#b3ff19,#beff0e,#a9ff23,#7bff51,#45ff87,#1dffaf,#13ffb9,#2dff9f,#5fff6d,#93ff39,#b7ff15,#bdff0f,#a4ff28,#74ff58,#3eff8e,#19ffb3)"></p>
<p style="height:4px;background:linear-gradient(90deg,#89ff43,#4eff7e,#1effae,#0effbe,#23ffa9,#55ff77,#8eff3e,#b9ff13,#c6ff06,#b0ff1c,#81ff4b,#47ff85,#1bffb1,#0effbe,#27ffa5,#5aff72,#93ff39,#bbff11,#c5ff07,#adff1f,#7cff50,#42ff8a,#18ffb4)"></p>
<p style="height:4px;background:linear-gradient(90deg,#91ff3b,#52ff7a,#1cffb0,#09ffc3,#1dffaf,#51ff7b,#8eff3e,#beff0e,#cfff00,#baff12,#88ff44,#4bff81,#1affb2,#09ffc3,#20ffac,#54ff78,#92ff3a,#c0ff0c,#ceff00,#b8ff14,#85ff47,#47ff85,#18ffb4)"></p>
<p style="height:4px;background:linear-gradient(90deg,#9bff31,#56ff76,#1bffb1,#04ffc8,#18ffb4,#4dff7f,#8eff3e,#c3ff09,#d7ff00,#c4ff08,#90ff3c,#4fff7d,#19ffb3,#04ffc8,#18ffb4,#4eff7e,#90ff3c,#c4ff08,#d7ff00,#c3ff09,#8fff3d,#4dff7f,#18ffb4)"></p>
<p style="height:4px;background:linear-gradient(90deg,#a7ff25,#5cff70,#1affb2,#00ffcd,#12ffba,#48ff84,#8dff3f,#c7ff05,#e0ff00,#ceff00,#98ff34,#53ff79,#19ffb3,#00ffcd,#11ffbb,#47ff85,#8dff3f,#c7ff05,#e0ff00,#ceff00,#99ff33,#54ff78,#19ffb3)"></p>
<p style="height:4px;background:linear-gradient(90deg,#b6ff16,#64ff68,#19ffb3,#00ffd1,#0cffc0,#43ff89,#8cff40,#cbff01,#e8ff00,#d8ff00,#a1ff2b,#59ff73,#19ffb3,#00ffd1,#0affc2,#40ff8c,#89ff43,#c9ff03,#e7ff00,#daff00,#a5ff27,#5cff70,#1bffb1)"></p>
<p style="height:4px;background:linear-gradient(90deg,#c5ff07,#6bff61,#16ffb6,#00ffd8,#04ffc8,#3dff8f,#8bff41,#cfff00,#f0ff00,#e2ff00,#aaff22,#5dff6f,#18ffb4,#00ffd8,#01ffcb,#37ff95,#84ff48,#caff02,#efff00,#e5ff00,#b0ff1c,#64ff68,#1dffaf)"></p>
<p style="height:4px;background:linear-gradient(90deg,#d4ff00,#71ff5b,#11ffbb,#00ffe2,#00ffd2,#37ff95,#8aff42,#d4ff00,#faff00,#edff00,#b3ff19,#60ff6c,#15ffb7,#00ffe0,#00ffd7,#2dff9f,#7fff4d,#ccff00,#f7ff00,#f1ff00,#bcff10,#6bff61,#1dffaf)"></p>
<p style="height:4px;background:linear-gradient(90deg,#e3ff00,#77ff55,#0cffc0,#00ffeb,#00ffdc,#30ff9c,#88ff44,#d8ff00,#fffc00,#f8ff00,#bbff11,#64ff68,#12ffba,#00ffe8,#00ffe2,#22ffaa,#78ff54,#ccff00,#ffff00,#fdff00,#c9ff03,#74ff58,#1fffad)"></p>
<p style="height:4px;background:linear-gradient(90deg,#f1ff00,#7cff50,#07ffc5,#00fff5,#00ffe5,#29ffa3,#86ff46,#dcff00,#fff500,#fffc00,#c5ff07,#69ff63,#10ffbc,#00fff0,#00ffee,#17ffb5,#71ff5b,#ccff00,#fffa00,#fff600,#d6ff00,#7eff4e,#22ffaa)"></p>
<p style="height:4px;background:linear-gradient(90deg,#f8ff00,#80ff4c,#08ffc4,#00fff5,#00ffe6,#28ffa4,#86ff46,#dcff00,#fff400,#fffb00,#c6ff06,#6aff62,#11ffbb,#00fff0,#00ffef,#15ffb7,#6fff5d,#caff02,#fffa00,#fff500,#d8ff00,#80ff4c,#24ffa8)"></p>
<p style="height:4px;background:linear-gradient(90deg,#f9ff00,#82ff4a,#0affc2,#00fff2,#00ffe4,#29ffa3,#85ff47,#daff00,#fff700,#fffd00,#c5ff07,#6aff62,#13ffb9,#00ffee,#00ffec,#17ffb5,#6fff5d,#c9ff03,#fffc00,#fff800,#d6ff00,#80ff4c,#25ffa7)"></p>
<p style="height:4px;background:linear-gradient(90deg,#f6ff00,#81ff4b,#0bffc1,#00fff0,#00ffe2,#2bffa1,#85ff47,#d9ff00,#fff900,#ffff00,#c3ff09,#6aff62,#14ffb8,#00ffeb,#00ffea,#18ffb4,#6fff5d,#c7ff05,#fffe00,#fffa00,#d5ff00,#80ff4c,#26ffa6)"></p>
<p style="height:4px;background:linear-gradient(90deg,#efff00,#7eff4e,#0dffbf,#00ffed,#00ffdf,#2cffa0,#85ff47,#d7ff00,#fffb00,#fcff00,#c2ff0a,#6aff62,#16ffb6,#00ffe9,#00ffe7,#1affb2,#6fff5d,#c6ff06,#feff00,#fffc00,#d3ff00,#80ff4c,#28ffa4)"></p>
<p style="height:2px;background:linear-gradient(90deg,#e6ff00,#79ff53,#0dffbf,#00ffeb,#00ffdd,#2dff9f,#84ff48,#d5ff00,#fffd00,#faff00,#c1ff0b,#6bff61,#17ffb5,#00ffe7,#00ffe5,#1bffb1,#6fff5d,#c5ff07,#fcff00,#fffe00,#d2ff00,#80ff4c,#29ffa3)"></p>
</div><div class="hm" style="left:464px;top:455px;width:129px;height:274px">
<p style="background:linear-gradient(90deg,#a3ff29,#57ff75,#37ff95,#00ffd0,#00fffc,#00fffe,#00ffd6,#3aff92,#7bff51,#dcff00,#ffd200,#ffa500,#ff9e00,#ffbe00,#feff00,#96ff36,#50ff7c,#06ffc6,#00fffc,#00f8ff,#00ffe5,#2bffa1,#74ff58,#d4ff00,#ffce00,#ff9300,#ff8200,#ffa000,#ffe700,#adff1f,#5dff6f,#10ffbc,#00fff7)"></p>
<p style="background:linear-gradient(90deg,#a2ff2a,#56ff76,#36ff96,#00ffd3,#00fdff,#00faff,#00ffdc,#36ff96,#7aff52,#dcff00,#ffd000,#ffa100,#ff9900,#ffb800,#fffa00,#9bff31,#51ff7b,#03ffc9,#00fcff,#00f1ff,#00ffed,#26ffa6,#72ff5a,#d4ff00,#ffca00,#ff8c00,#ff7900,#ff9700,#ffdf00,#b4ff18,#5eff6e,#0effbe,#00fffc)"></p>
<p style="background:linear-gradient(90deg,#a0ff2c,#56ff76,#36ff96,#00ffd5,#00f9ff,#00f5ff,#00ffe2,#32ff9a,#79ff53,#dcff00,#ffce00,#ff9d00,#ff9400,#ffb200,#fff400,#a1ff2b,#53ff79,#01ffcb,#00f7ff,#00e9ff,#00fff6,#20ffac,#70ff5c,#d5ff00,#ffc600,#ff8600,#ff7000,#ff8e00,#ffd700,#baff12,#60ff6c,#0dffbf,#00fdff)"></p>
<p style="background:linear-gradient(90deg,#9fff2d,#56ff76,#35ff97,#00ffd7,#00f5ff,#00efff,#00ffe8,#2eff9e,#77ff55,#dcff00,#ffcc00,#ff9a00,#ff8e00,#ffac00,#ffed00,#a6ff26,#54ff78,#00ffcc,#00f2ff,#00e2ff,#00fffe,#1affb2,#6eff5e,#d5ff00,#ffc300,#ff7f00,#ff6800,#ff8500,#ffce00,#c2ff0a,#62ff6a,#0cffc0,#00f8ff)"></p>
<p style="background:linear-gradient(90deg,#9fff2d,#56ff76,#35ff97,#00ffd9,#00f1ff,#00eaff,#00ffee,#2affa2,#76ff56,#dbff00,#ffca00,#ff9600,#ff8900,#ffa600,#ffe700,#acff20,#56ff76,#00ffce,#00edff,#00dbff,#00f8ff,#14ffb8,#6cff60,#d5ff00,#ffbf00,#ff7900,#ff5f00,#ff7c00,#ffc600,#c9ff03,#65ff67,#0bffc1,#00f4ff)"></p>
<p style="background:linear-gradient(90deg,#9fff2d,#58ff74,#36ff96,#00ffda,#00eeff,#00e6ff,#00fff3,#26ffa6,#74ff58,#dbff00,#ffc800,#ff9300,#ff8400,#ffa000,#ffe000,#b3ff19,#58ff74,#00ffcf,#00e9ff,#00d4ff,#00f1ff,#0dffbf,#69ff63,#d5ff00,#ffbc00,#ff7200,#ff5700,#ff7300,#ffbe00,#d1ff00,#67ff65,#0bffc1,#00f0ff)"></p>
<p style="background:linear-gradient(90deg,#a0ff2c,#5aff72,#37ff95,#00ffdb,#00eaff,#00e1ff,#00fff8,#22ffaa,#73ff59,#dbff00,#ffc600,#ff8f00,#ff7f00,#ff9a00,#ffda00,#baff12,#5aff72,#00ffd0,#00e4ff,#00ccff,#00e9ff,#07ffc5,#66ff66,#d4ff00,#ffb900,#ff6c00,#ff4f00,#ff6a00,#ffb500,#d9ff00,#6aff62,#0bffc1,#00ecff)"></p>
<p style="background:linear-gradient(90deg,#a2ff2a,#5dff6f,#38ff94,#00ffdb,#00e8ff,#00ddff,#00fffe,#1effae,#71ff5b,#daff00,#ffc500,#ff8c00,#ff7b00,#ff9400,#ffd300,#c1ff0b,#5cff70,#00ffd1,#00e0ff,#00c5ff,#00e1ff,#00ffcc,#63ff69,#d4ff00,#ffb600,#ff6600,#ff4700,#ff6100,#ffad00,#e1ff00,#6cff60,#0bffc1,#00e9ff)"></p>
<p style="background:linear-gradient(90deg,#a5ff27,#61ff6b,#39ff93,#00ffdb,#00e5ff,#00d9ff,#00fcff,#1affb2,#6fff5d,#daff00,#ffc300,#ff8800,#ff7600,#ff8d00,#ffcd00,#c8ff04,#5eff6e,#00ffd1,#00dbff,#00bdff,#00d9ff,#00ffd4,#60ff6c,#d3ff00,#ffb300,#ff6100,#ff3f00,#ff5900,#ffa500,#eaff00,#6fff5d,#0bffc1,#00e5ff)"></p>
<p style="background:linear-gradient(90deg,#a9ff23,#66ff66,#3bff91,#00ffdb,#00e3ff,#00d5ff,#00f8ff,#16ffb6,#6eff5e,#d9ff00,#ffc100,#ff8500,#ff7100,#ff8700,#ffc600,#cfff00,#61ff6b,#00ffd1,#00d7ff,#00b6ff,#00d1ff,#00ffdb,#5dff6f,#d2ff00,#ffb000,#ff5c00,#ff3800,#ff5100,#ff9d00,#f2ff00,#71ff5b,#0cffc0,#00e2ff)"></p>
<p style="background:linear-gradient(90deg,#afff1d,#6cff60,#3eff8e,#00ffda,#00e2ff,#00d2ff,#00f4ff,#12ffba,#6cff60,#d8ff00,#ffbf00,#ff8200,#ff6c00,#ff8100,#ffbf00,#d7ff00,#63ff69,#00ffd1,#00d3ff,#00aeff,#00c8ff,#00ffe3,#59ff73,#d0ff00,#ffae00,#ff5700,#ff3200,#ff4900,#ff9500,#fbff00,#74ff58,#0dffbf,#00dfff)"></p>
<p style="background:linear-gradient(90deg,#b7ff15,#73ff59,#40ff8c,#00ffd8,#00e0ff,#00cfff,#00f0ff,#0effbe,#69ff63,#d7ff00,#ffbe00,#ff7e00,#ff6700,#ff7b00,#ffb800,#dfff00,#66ff66,#00ffd1,#00cfff,#00a6ff,#00bfff,#00ffec,#55ff77,#ceff00,#ffac00,#ff5300,#ff2c00,#ff4200,#ff8d00,#fffb00,#76ff56,#0effbe,#00ddff)"></p>
<p style="background:linear-gradient(90deg,#c0ff0c,#7cff50,#43ff89,#00ffd7,#00dfff,#00cbff,#00ebff,#09ffc3,#67ff65,#d5ff00,#ffbc00,#ff7b00,#ff6300,#ff7500,#ffb100,#e7ff00,#68ff64,#00ffd0,#00cbff,#009dff,#00b5ff,#00fff5,#50ff7c,#ccff00,#ffab00,#ff4f00,#ff2700,#ff3c00,#ff8600,#fff400,#78ff54,#10ffbc,#00daff)"></p>
<p style="background:linear-gradient(90deg,#caff02,#85ff47,#47ff85,#00ffd5,#00deff,#00c8ff,#00e7ff,#05ffc7,#65ff67,#d4ff00,#ffbb00,#ff7800,#ff5e00,#ff6f00,#ffaa00,#f0ff00,#6aff62,#00ffd0,#00c6ff,#0095ff,#00abff,#00fffe,#4cff80,#c9ff03,#ffa900,#ff4c00,#ff2200,#ff3600,#ff7f00,#ffed00,#7bff51,#11ffbb,#00d8ff)"></p>
<p style="background:linear-gradient(90deg,#d6ff00,#90ff3c,#4bff81,#00ffd3,#00ddff,#00c5ff,#00e3ff,#00ffcc,#62ff6a,#d2ff00,#ffb900,#ff7500,#ff5900,#ff6900,#ffa300,#f9ff00,#6dff5f,#00ffcf,#00c2ff,#008cff,#00a0ff,#00f7ff,#46ff86,#c6ff06,#ffa800,#ff4a00,#ff1e00,#ff3000,#ff7800,#ffe600,#7dff4f,#13ffb9,#00d6ff)"></p>
<p style="background:linear-gradient(90deg,#e1ff00,#9bff31,#4fff7d,#00ffce,#00deff,#00c3ff,#00deff,#00ffd3,#5eff6e,#ccff00,#ffbc00,#ff7600,#ff5900,#ff6600,#ff9e00,#fffe00,#70ff5c,#00ffcc,#00c0ff,#0084ff,#0096ff,#00edff,#3fff8d,#beff0e,#ffac00,#ff4b00,#ff1e00,#ff2e00,#ff7400,#ffe000,#7fff4d,#17ffb5,#00d6ff)"></p>
<p style="background:linear-gradient(90deg,#eaff00,#a6ff26,#55ff77,#04ffc8,#00e1ff,#00c2ff,#00daff,#00ffda,#58ff74,#c3ff09,#ffc200,#ff7b00,#ff5b00,#ff6700,#ff9c00,#fff800,#73ff59,#04ffc8,#00bfff,#007eff,#008bff,#00e3ff,#37ff95,#b2ff1a,#ffb300,#ff5200,#ff2300,#ff3000,#ff7300,#ffdb00,#81ff4b,#1dffaf,#00d8ff)"></p>
<p style="background:linear-gradient(90deg,#f3ff00,#b1ff1b,#5bff71,#0affc2,#00e4ff,#00c2ff,#00d6ff,#00ffe2,#52ff7a,#b8ff14,#ffc900,#ff8000,#ff5e00,#ff6700,#ff9900,#fff300,#76ff56,#08ffc4,#00bfff,#0077ff,#0081ff,#00d8ff,#2dff9f,#a6ff26,#ffbb00,#ff5900,#ff2800,#ff3300,#ff7200,#ffd700,#83ff49,#22ffaa,#00dbff)"></p>
<p style="background:linear-gradient(90deg,#feff00,#bcff10,#60ff6c,#11ffbb,#00e7ff,#00c1ff,#00d1ff,#00ffea,#4bff81,#aeff1e,#ffcf00,#ff8500,#ff6100,#ff6800,#ff9700,#ffee00,#79ff53,#0dffbf,#00beff,#0070ff,#0075ff,#00ccff,#23ffa9,#98ff34,#ffc300,#ff6000,#ff2e00,#ff3600,#ff7200,#ffd300,#8cff40,#28ffa4,#00deff)"></p>
<p style="background:linear-gradient(90deg,#fff700,#c7ff05,#66ff66,#17ffb5,#00eaff,#00c0ff,#00ccff,#00fff3,#43ff89,#a3ff29,#ffd600,#ff8a00,#ff6400,#ff6800,#ff9500,#ffea00,#7bff51,#11ffbb,#00beff,#006aff,#006aff,#00c1ff,#19ffb3,#88ff44,#ffcb00,#ff6800,#ff3500,#ff3a00,#ff7200,#ffcf00,#99ff33,#2eff9e,#00e1ff)"></p>
<p style="background:linear-gradient(90deg,#ffee00,#d2ff00,#6bff61,#1effae,#00edff,#00bfff,#00c7ff,#00fffc,#3bff91,#97ff35,#ffdd00,#ff8f00,#ff6800,#ff6900,#ff9400,#ffe500,#7cff50,#16ffb6,#00beff,#0063ff,#005fff,#00b5ff,#0effbe,#85ff47,#ffd400,#ff7000,#ff3b00,#ff3e00,#ff7200,#ffcc00,#a4ff28,#34ff98,#00e5ff)"></p>
<p style="background:linear-gradient(90deg,#ffe500,#ddff00,#6fff5d,#24ffa8,#00f0ff,#00beff,#00c1ff,#00f9ff,#33ff99,#89ff43,#ffe300,#ff9400,#ff6b00,#ff6a00,#ff9200,#ffe100,#8bff41,#1affb2,#00beff,#005cff,#0053ff,#00a9ff,#03ffc9,#81ff4b,#ffdd00,#ff7900,#ff4300,#ff4200,#ff7300,#ffc900,#aeff1e,#39ff93,#00e8ff)"></p>
<p style="background:linear-gradient(90deg,#ffdc00,#e8ff00,#73ff59,#2affa2,#00f3ff,#00bcff,#00bbff,#00f0ff,#2affa2,#82ff4a,#ffea00,#ff9a00,#ff6f00,#ff6c00,#ff9100,#ffdd00,#96ff36,#1fffad,#00beff,#0056ff,#0048ff,#009cff,#00ffd4,#7cff50,#ffe500,#ff8100,#ff4a00,#ff4700,#ff7400,#ffc600,#b7ff15,#3fff8d,#00ecff)"></p>
<p style="background:linear-gradient(90deg,#ffd300,#f3ff00,#7eff4e,#31ff9b,#00f6ff,#00baff,#00b4ff,#00e8ff,#21ffab,#80ff4c,#fff100,#ff9f00,#ff7200,#ff6d00,#ff9000,#ffd900,#a0ff2c,#23ffa9,#00beff,#0050ff,#003dff,#0090ff,#00ffe0,#77ff55,#ffee00,#ff8a00,#ff5200,#ff4c00,#ff7500,#ffc300,#bfff0d,#45ff87,#00f0ff)"></p>
<p style="background:linear-gradient(90deg,#ffcb00,#fcff00,#8cff40,#37ff95,#00f9ff,#00b8ff,#00adff,#00deff,#17ffb5,#7dff4f,#fff700,#ffa400,#ff7600,#ff6e00,#ff8f00,#ffd500,#aaff22,#28ffa4,#00bfff,#004bff,#0033ff,#0085ff,#00ffec,#71ff5b,#fff700,#ff9300,#ff5900,#ff5100,#ff7700,#ffc100,#c7ff05,#4bff81,#00f5ff)"></p>
<p style="background:linear-gradient(90deg,#ffc300,#fff900,#98ff34,#3dff8f,#00fbff,#00b5ff,#00a6ff,#00d5ff,#0dffbf,#79ff53,#fffe00,#ffaa00,#ff7a00,#ff7000,#ff8e00,#ffd200,#b2ff1a,#2dff9f,#00c1ff,#0047ff,#0029ff,#0079ff,#00fff8,#6bff61,#feff00,#ff9b00,#ff6100,#ff5600,#ff7800,#ffbf00,#cfff00,#51ff7b,#00f9ff)"></p>
<p style="background:linear-gradient(90deg,#ffbc00,#fff200,#a3ff29,#43ff89,#00feff,#00b3ff,#009eff,#00cbff,#03ffc9,#74ff58,#f8ff00,#ffaf00,#ff7e00,#ff7200,#ff8d00,#ffcf00,#baff12,#32ff9a,#00c3ff,#0043ff,#0021ff,#006eff,#00fbff,#64ff68,#f3ff00,#ffa400,#ff6900,#ff5b00,#ff7a00,#ffbd00,#d6ff00,#57ff75,#00feff)"></p>
<p style="background:linear-gradient(90deg,#ffb600,#ffeb00,#adff1f,#49ff83,#00fffd,#00b0ff,#0097ff,#00c1ff,#00ffd4,#6fff5d,#f0ff00,#ffb500,#ff8100,#ff7400,#ff8d00,#ffcc00,#c2ff0a,#37ff95,#00c6ff,#0041ff,#0019ff,#0064ff,#00f1ff,#5cff70,#e9ff00,#ffac00,#ff7000,#ff6000,#ff7b00,#ffbb00,#ddff00,#5cff70,#00fffa)"></p>
<p style="background:linear-gradient(90deg,#ffb100,#ffe500,#b6ff16,#4fff7d,#00fff9,#00b0ff,#0091ff,#00b8ff,#00ffe0,#69ff63,#e6ff00,#ffbc00,#ff8700,#ff7700,#ff8e00,#ffca00,#c8ff04,#3dff8f,#00cbff,#0042ff,#0015ff,#005cff,#00e8ff,#54ff78,#ddff00,#ffb600,#ff7900,#ff6600,#ff7e00,#ffba00,#e2ff00,#62ff6a,#00fff3)"></p>
<p style="background:linear-gradient(90deg,#ffb300,#ffe500,#bcff10,#54ff78,#00ffed,#00bbff,#0098ff,#00b7ff,#00ffea,#5eff6e,#d5ff00,#ffca00,#ff9400,#ff8100,#ff9500,#ffcd00,#cbff01,#42ff8a,#00d5ff,#004fff,#0020ff,#005eff,#00e0ff,#48ff84,#caff02,#ffc700,#ff8900,#ff7300,#ff8700,#ffbe00,#e4ff00,#67ff65,#00ffe7)"></p>
<p style="background:linear-gradient(90deg,#ffb500,#ffe600,#c0ff0c,#5aff72,#00ffe3,#00c5ff,#00a0ff,#00b7ff,#00fff4,#53ff79,#c4ff08,#ffd800,#ffa000,#ff8b00,#ff9c00,#ffd000,#ceff00,#48ff84,#00dfff,#005dff,#002bff,#0061ff,#00daff,#3cff90,#b9ff13,#ffd700,#ff9800,#ff8000,#ff9000,#ffc300,#e5ff00,#6bff61,#00ffdc)"></p>
<p style="background:linear-gradient(90deg,#ffb900,#ffe700,#c3ff09,#5fff6d,#00ffda,#00cfff,#00a8ff,#00b9ff,#00fffc,#48ff84,#b5ff17,#ffe600,#ffad00,#ff9600,#ffa300,#ffd400,#cfff00,#4dff7f,#00e9ff,#006bff,#0039ff,#0067ff,#00d6ff,#30ff9c,#a9ff23,#ffe700,#ffa700,#ff8d00,#ff9900,#ffc800,#e5ff00,#6fff5d,#00ffd2)"></p>
<p style="background:linear-gradient(90deg,#ffbd00,#ffe800,#c6ff06,#63ff69,#00ffd1,#00d9ff,#00b0ff,#00bbff,#00fcff,#3cff90,#a7ff25,#fff300,#ffba00,#ffa100,#ffab00,#ffd800,#d0ff00,#53ff79,#00f3ff,#007aff,#0047ff,#006eff,#00d3ff,#25ffa7,#99ff33,#fff600,#ffb600,#ff9a00,#ffa200,#ffcd00,#e4ff00,#73ff59,#04ffc8)"></p>
<p style="background:linear-gradient(90deg,#ffc200,#ffeb00,#c7ff05,#67ff65,#03ffc9,#00e2ff,#00b9ff,#00bfff,#00f8ff,#32ff9a,#99ff33,#fdff00,#ffc600,#ffab00,#ffb300,#ffdd00,#d0ff00,#58ff74,#00fdff,#008aff,#0057ff,#0077ff,#00d2ff,#1bffb1,#8cff40,#f9ff00,#ffc500,#ffa600,#ffac00,#ffd300,#e3ff00,#76ff56,#0dffbf)"></p>
<p style="background:linear-gradient(90deg,#ffc700,#ffee00,#c8ff04,#6bff61,#0affc2,#00ebff,#00c1ff,#00c3ff,#00f6ff,#28ffa4,#8dff3f,#eeff00,#ffd300,#ffb600,#ffbb00,#ffe200,#d0ff00,#5dff6f,#00fff6,#0099ff,#0067ff,#0082ff,#00d2ff,#11ffbb,#7fff4d,#e8ff00,#ffd300,#ffb300,#ffb500,#ffd800,#e2ff00,#7cff50,#15ffb7)"></p>
<p style="background:linear-gradient(90deg,#ffce00,#fff100,#c8ff04,#6fff5d,#11ffbb,#00f3ff,#00cbff,#00c9ff,#00f5ff,#1effae,#82ff4a,#dfff00,#ffe000,#ffc200,#ffc400,#ffe700,#d0ff00,#62ff6a,#00ffea,#00a9ff,#0078ff,#008dff,#00d4ff,#09ffc3,#75ff57,#d9ff00,#ffe100,#ffbf00,#ffbf00,#ffde00,#e0ff00,#82ff4a,#1dffaf)"></p>
<p style="background:linear-gradient(90deg,#ffd400,#fff500,#c7ff05,#72ff5a,#18ffb4,#00fcff,#00d4ff,#00cfff,#00f5ff,#16ffb6,#78ff54,#d1ff00,#ffec00,#ffcd00,#ffcd00,#ffec00,#ceff00,#69ff63,#00ffde,#00b9ff,#008aff,#009aff,#00d8ff,#03ffc9,#6dff5f,#caff02,#ffef00,#ffcc00,#ffc800,#ffe400,#deff00,#87ff45,#24ffa8)"></p>
<p style="background:linear-gradient(90deg,#ffdc00,#fffa00,#c6ff06,#76ff56,#1effae,#00fff9,#00ddff,#00d7ff,#00f6ff,#10ffbc,#6fff5d,#c4ff08,#fff800,#ffd800,#ffd600,#fff200,#cdff00,#6fff5d,#00ffd3,#00c9ff,#009cff,#00a7ff,#00dcff,#00ffce,#63ff69,#bcff10,#fffc00,#ffd800,#ffd200,#ffeb00,#dbff00,#8aff42,#2bffa1)"></p>
<p style="background:linear-gradient(90deg,#ffe300,#fffd00,#c6ff06,#7cff50,#25ffa7,#00ffee,#00e7ff,#00deff,#00f7ff,#09ffc3,#64ff68,#b6ff16,#f8ff00,#ffe300,#ffde00,#fff600,#ccff00,#77ff55,#06ffc6,#00daff,#00adff,#00b4ff,#00e1ff,#00ffd4,#57ff75,#aeff1e,#f3ff00,#ffe400,#ffdc00,#fff000,#d9ff00,#8fff3d,#34ff98)"></p>
<p style="background:linear-gradient(90deg,#ffe700,#fffb00,#cfff00,#8aff42,#38ff94,#00ffde,#00efff,#00e0ff,#00f3ff,#00ffd1,#50ff7c,#a2ff2a,#e6ff00,#ffef00,#ffe400,#fff600,#d5ff00,#86ff46,#1effae,#00efff,#00bfff,#00bdff,#00dfff,#00ffe0,#44ff88,#9aff32,#e0ff00,#fff100,#ffe300,#fff100,#e1ff00,#9cff30,#48ff84)"></p>
<p style="background:linear-gradient(90deg,#ffed00,#fffb00,#d7ff00,#96ff36,#4aff82,#00ffce,#00f9ff,#00e4ff,#00f0ff,#00ffdd,#3eff8e,#90ff3c,#d3ff00,#fffb00,#ffeb00,#fff700,#dcff00,#94ff38,#35ff97,#00fff9,#00d1ff,#00c7ff,#00e0ff,#00ffea,#32ff9a,#87ff45,#ccff00,#fffe00,#ffeb00,#fff300,#e6ff00,#a7ff25,#5aff72)"></p>
<p style="background:linear-gradient(90deg,#fff400,#fffc00,#dcff00,#a1ff2b,#5aff72,#0effbe,#00fff9,#00eaff,#00f0ff,#00ffe6,#2dff9f,#7eff4e,#c1ff0b,#f4ff00,#fff400,#fff900,#e0ff00,#9fff2d,#4aff82,#00ffe0,#00e3ff,#00d2ff,#00e2ff,#00fff1,#22ffaa,#75ff57,#baff12,#efff00,#fff500,#fff600,#e9ff00,#b1ff1b,#6cff60)"></p>
<p style="background:linear-gradient(90deg,#fffd00,#ffff00,#dfff00,#aaff22,#6aff62,#1effae,#00ffeb,#00f2ff,#00f1ff,#00ffed,#1fffad,#6eff5e,#afff1d,#e4ff00,#fffd00,#fffd00,#e3ff00,#a9ff23,#5dff6f,#03ffc9,#00f5ff,#00dfff,#00e6ff,#00fff6,#15ffb7,#63ff69,#a8ff24,#dfff00,#ffff00,#fffb00,#ebff00,#b9ff13,#79ff53)"></p>
<p style="background:linear-gradient(90deg,#f7ff00,#f9ff00,#e1ff00,#b2ff1a,#76ff56,#2eff9e,#00ffdd,#00faff,#00f4ff,#00fff1,#13ffb9,#5cff70,#9eff2e,#d4ff00,#f5ff00,#faff00,#e3ff00,#b1ff1b,#6cff60,#19ffb3,#00fff5,#00ecff,#00ebff,#00fff9,#0affc2,#52ff7a,#96ff36,#ceff00,#f2ff00,#fcff00,#eaff00,#bfff0d,#84ff48)"></p>
<p style="background:linear-gradient(90deg,#eaff00,#f3ff00,#e0ff00,#b7ff15,#80ff4c,#3dff8f,#00ffce,#00fffa,#00f8ff,#00fff4,#09ffc3,#4cff80,#8eff3e,#c4ff08,#e7ff00,#f2ff00,#e1ff00,#b6ff16,#78ff54,#2eff9e,#00ffe0,#00f9ff,#00f2ff,#00fffa,#01ffcb,#43ff89,#86ff46,#beff0e,#e5ff00,#f4ff00,#e8ff00,#c4ff08,#8eff3e)"></p>
<p style="background:linear-gradient(90deg,#deff00,#eaff00,#deff00,#bbff11,#89ff43,#4cff80,#0dffbf,#00ffed,#00feff,#00fff4,#01ffcb,#3eff8e,#7fff4d,#b4ff18,#daff00,#e8ff00,#ddff00,#b9ff13,#82ff4a,#40ff8c,#00ffcd,#00fff7,#00faff,#00fff9,#00ffd2,#35ff97,#77ff55,#aeff1e,#d6ff00,#eaff00,#e4ff00,#c6ff06,#96ff36)"></p>
<p style="background:linear-gradient(90deg,#d0ff00,#e1ff00,#dbff00,#beff0e,#90ff3c,#59ff73,#1bffb1,#00ffe1,#00fff8,#00fff2,#00ffd1,#32ff9a,#71ff5b,#a4ff28,#cbff01,#ddff00,#d7ff00,#b9ff13,#8aff42,#50ff7c,#12ffba,#00ffe7,#00fffb,#00fff6,#00ffd7,#2affa2,#69ff63,#9eff2e,#c8ff04,#dfff00,#dfff00,#c7ff05,#9cff30)"></p>
<p style="background:linear-gradient(90deg,#cfff00,#e3ff00,#dfff00,#c4ff08,#97ff35,#60ff6c,#1fffad,#00ffe0,#00fffb,#00fff9,#00ffda,#28ffa4,#69ff63,#9eff2e,#c8ff04,#dcff00,#d8ff00,#beff0e,#92ff3a,#5cff70,#1cffb0,#00ffe2,#00fffc,#00fffd,#00ffe2,#1dffaf,#5dff6f,#96ff36,#c3ff09,#dfff00,#e3ff00,#cfff00,#a7ff25)"></p>
<p style="background:linear-gradient(90deg,#d2ff00,#e8ff00,#e6ff00,#ccff00,#9fff2d,#66ff66,#22ffaa,#00ffe1,#00feff,#00fdff,#00ffe5,#1dffaf,#60ff6c,#99ff33,#c5ff07,#dcff00,#dbff00,#c3ff09,#9aff32,#66ff66,#25ffa7,#00ffde,#00ffff,#00faff,#00ffee,#0fffbd,#51ff7b,#8eff3e,#bfff0d,#e0ff00,#e9ff00,#d9ff00,#b3ff19)"></p>
<p style="background:linear-gradient(90deg,#d5ff00,#efff00,#efff00,#d6ff00,#a8ff24,#6eff5e,#27ffa5,#00ffe1,#00faff,#00f6ff,#00ffef,#12ffba,#57ff75,#93ff39,#c2ff0a,#dbff00,#dbff00,#c7ff05,#a2ff2a,#6fff5d,#2fff9d,#00ffd9,#00fdff,#00f4ff,#00fffa,#01ffcb,#43ff89,#85ff47,#baff12,#dfff00,#edff00,#e2ff00,#beff0e)"></p>
<p style="background:linear-gradient(90deg,#dcff00,#faff00,#fcff00,#e4ff00,#b4ff18,#76ff56,#2cffa0,#00ffe0,#00f7ff,#00f0ff,#00fffa,#06ffc6,#4cff80,#8dff3f,#beff0e,#d9ff00,#daff00,#c9ff03,#a8ff24,#79ff53,#39ff93,#00ffd4,#00fdff,#00eeff,#00faff,#00ffd9,#35ff97,#7bff51,#b4ff18,#deff00,#f1ff00,#eaff00,#caff02)"></p>
<p style="background:linear-gradient(90deg,#e7ff00,#fff600,#fff100,#f8ff00,#c5ff07,#81ff4b,#32ff9a,#00ffde,#00f5ff,#00eaff,#00fbff,#00ffd1,#42ff8a,#86ff46,#b9ff13,#d5ff00,#d8ff00,#caff02,#aeff1e,#82ff4a,#44ff88,#00ffcd,#00fdff,#00e9ff,#00f1ff,#00ffe7,#26ffa6,#71ff5b,#adff1f,#dcff00,#f4ff00,#f2ff00,#d5ff00)"></p>
<p style="background:linear-gradient(90deg,#fffc00,#ffd600,#ffce00,#ffe400,#e4ff00,#92ff3a,#42ff8a,#00ffe4,#00dcff,#00c6ff,#00dbff,#00ffe5,#3dff8f,#81ff4b,#bdff0f,#dfff00,#e5ff00,#d9ff00,#beff0e,#90ff3c,#55ff77,#04ffc8,#00ecff,#00c7ff,#00cdff,#00faff,#1cffb0,#68ff64,#adff1f,#e6ff00,#fff900,#fff700,#ecff00)"></p>
<p style="background:linear-gradient(90deg,#ffda00,#ffa600,#ff9900,#ffb100,#ffef00,#abff21,#5aff72,#00ffdf,#00b6ff,#0085ff,#00a3ff,#00feff,#40ff8c,#7dff4f,#c7ff05,#f5ff00,#fffd00,#f7ff00,#dbff00,#a5ff27,#5fff6d,#17ffb5,#00d6ff,#008cff,#008cff,#00d6ff,#17ffb5,#65ff67,#b3ff19,#fbff00,#ffde00,#ffd800,#fff100)"></p>
<p style="background:linear-gradient(90deg,#ffbe00,#ff7f00,#ff6f00,#ff8900,#ffd000,#c0ff0c,#66ff66,#00ffd3,#00aaff,#0062ff,#0080ff,#00eeff,#3dff8f,#77ff55,#caff02,#feff00,#fff200,#fff800,#ecff00,#b3ff19,#61ff6b,#26ffa6,#00d3ff,#0070ff,#0066ff,#00bdff,#11ffbb,#64ff68,#b3ff19,#fffa00,#ffd000,#ffc600,#ffde00)"></p>
<p style="background:linear-gradient(90deg,#ffa900,#ff6400,#ff5300,#ff6f00,#ffbc00,#cdff00,#6aff62,#00ffce,#00aaff,#005dff,#0076ff,#00e4ff,#37ff95,#72ff5a,#c7ff05,#fdff00,#fff200,#fff600,#f0ff00,#b9ff13,#65ff67,#2affa2,#00d5ff,#006bff,#005cff,#00b2ff,#07ffc5,#62ff6a,#b0ff1c,#fffa00,#ffcd00,#ffc100,#ffd900)"></p>
<p style="background:linear-gradient(90deg,#ff9700,#ff4b00,#ff3a00,#ff5900,#ffac00,#d9ff00,#6eff5e,#04ffc8,#00acff,#0058ff,#006cff,#00daff,#31ff9b,#6dff5f,#c5ff07,#fdff00,#fff000,#fff300,#f6ff00,#bfff0d,#6aff62,#2eff9e,#00d7ff,#0067ff,#0052ff,#00a6ff,#00ffce,#60ff6c,#adff1f,#fffb00,#ffcb00,#ffbd00,#ffd300)"></p>
<p style="background:linear-gradient(90deg,#ff8700,#ff3500,#ff2300,#ff4700,#ff9f00,#e3ff00,#71ff5b,#09ffc3,#00aeff,#0054ff,#0063ff,#00d0ff,#2affa2,#69ff63,#c2ff0a,#feff00,#ffec00,#ffed00,#feff00,#c6ff06,#70ff5c,#33ff99,#00d9ff,#0064ff,#0048ff,#009aff,#00ffd8,#5eff6e,#aaff22,#fffb00,#ffc900,#ffb900,#ffce00)"></p>
<p style="background:linear-gradient(90deg,#ff7700,#ff1f00,#ff0f00,#ff3800,#ff9400,#ebff00,#73ff59,#0fffbd,#00b0ff,#0051ff,#005aff,#00c6ff,#23ffa9,#64ff68,#c1ff0b,#fffe00,#ffe700,#ffe500,#fff800,#cfff00,#76ff56,#37ff95,#00dcff,#0061ff,#003fff,#008eff,#00ffe3,#5bff71,#a6ff26,#fffc00,#ffc700,#ffb500,#ffc800)"></p>
<p style="background:linear-gradient(90deg,#ff7300,#ff0b00,#f10000,#ff1a00,#ff7800,#fff600,#7bff51,#2cffa0,#00ccff,#005aff,#0046ff,#009eff,#00ffd2,#5fff6d,#adff1f,#fdff00,#ffdb00,#ffcf00,#ffdd00,#efff00,#92ff3a,#4cff80,#00f7ff,#0071ff,#0034ff,#0069ff,#00edff,#46ff86,#8eff3e,#f6ff00,#ffc500,#ffa700,#ffb200)"></p>
<p style="background:linear-gradient(90deg,#ff8300,#ff0200,#d50000,#f00000,#ff4800,#ffc500,#afff1d,#58ff74,#00fffb,#007dff,#0039ff,#0061ff,#00dcff,#38ff94,#7fff4d,#e5ff00,#ffd500,#ffb100,#ffb000,#ffda00,#caff02,#64ff68,#00ffcc,#009dff,#0038ff,#003aff,#00a2ff,#05ffc7,#65ff67,#d1ff00,#ffcd00,#ff9700,#ff8e00)"></p>
<p style="background:linear-gradient(90deg,#ff9d00,#ff0900,#c80000,#d20000,#ff1b00,#ff9000,#ebff00,#71ff5b,#0fffbd,#00adff,#0044ff,#0039ff,#0093ff,#00ffdd,#5bff71,#bcff10,#ffdd00,#ff9e00,#ff8700,#ffa600,#fff700,#8bff41,#34ff98,#00d0ff,#0050ff,#0021ff,#005eff,#00e4ff,#44ff88,#9dff2f,#ffe600,#ff9500,#ff7200)"></p>
<p style="background:linear-gradient(90deg,#ffaa00,#ff2300,#d10000,#c60000,#f70000,#ff5c00,#ffd700,#a0ff2c,#47ff85,#00e2ff,#0062ff,#0028ff,#0055ff,#00d0ff,#30ff9c,#87ff45,#fff700,#ff9a00,#ff6800,#ff7300,#ffbd00,#c9ff03,#5bff71,#00fffa,#0076ff,#0020ff,#002dff,#0097ff,#00ffd0,#68ff64,#ecff00,#ffa300,#ff6200)"></p>
<p style="background:linear-gradient(90deg,#ffd000,#ff4b00,#f40000,#d10000,#e40000,#ff2d00,#ff9b00,#e2ff00,#73ff59,#00ffdf,#008dff,#002eff,#002aff,#0084ff,#00ffec,#5aff72,#d7ff00,#ffaa00,#ff5700,#ff4700,#ff8100,#fff000,#7eff4e,#0effbe,#00a4ff,#0031ff,#0010ff,#0052ff,#00d8ff,#41ff8b,#afff1d,#ffc400,#ff6300)"></p>
<p style="background:linear-gradient(90deg,#e3ff00,#ff7000,#ff3000,#f80000,#e50000,#ff0700,#ff5d00,#ffd700,#9cff30,#2dff9f,#00bfff,#0045ff,#0016ff,#0045ff,#00bfff,#27ffa5,#99ff33,#ffcd00,#ff5a00,#ff2700,#ff4700,#ffad00,#bfff0d,#45ff87,#00d6ff,#004fff,#0009ff,#001fff,#0088ff,#00ffdd,#72ff5a,#fff500,#ff7700)"></p>
<p style="background:linear-gradient(90deg,#81ff4b,#ffb200,#ff7900,#ff3a00,#fe0000,#ef0000,#ff2300,#ff9000,#e3ff00,#6cff60,#00f6ff,#006aff,#0016ff,#0019ff,#0072ff,#00ffff,#62ff6a,#fdff00,#ff7200,#ff1800,#ff1500,#ff6700,#fff200,#70ff5c,#00fff2,#0077ff,#0013ff,#0000ff,#0043ff,#00c7ff,#3dff8f,#c3ff09,#ff9f00)"></p>
<p style="background:linear-gradient(90deg,#50ff7c,#ffe200,#ffa100,#ff6100,#ff1000,#e70000,#ff0a00,#ff7500,#faff00,#7eff4e,#00fdff,#006bff,#000eff,#0003ff,#0050ff,#00dcff,#5bff71,#ecff00,#ff7500,#ff0c00,#fd0000,#ff5000,#ffe000,#7aff52,#00fff3,#006fff,#0006ff,#0000eb,#0026ff,#00a7ff,#23ffa9,#b4ff18,#ffa500)"></p>
<p style="background:linear-gradient(90deg,#2affa2,#ebff00,#ffc300,#ff8200,#ff1e00,#df0000,#f60000,#ff6400,#fff800,#88ff44,#00f9ff,#0065ff,#0003ff,#0000ef,#0035ff,#00c1ff,#50ff7c,#e5ff00,#ff7300,#fe0000,#eb0000,#ff4100,#ffd900,#7dff4f,#00fcff,#005cff,#0000f2,#0000d6,#000fff,#008fff,#13ffb9,#b0ff1c,#ffa100)"></p>
<p style="background:linear-gradient(90deg,#07ffc5,#b2ff1a,#ffe200,#ffa200,#ff2b00,#d70000,#e30000,#ff5100,#ffed00,#95ff37,#00f4ff,#005eff,#0000f8,#0000dd,#001bff,#00a3ff,#3eff8e,#dcff00,#ff7200,#f20000,#d90000,#ff3100,#ffd200,#7fff4d,#00eeff,#0049ff,#0000de,#0000c1,#0000f6,#0075ff,#00ffce,#adff1f,#ff9e00)"></p>
<p style="background:linear-gradient(90deg,#00ffe4,#76ff56,#fffc00,#ffc100,#ff3700,#cf0000,#cf0000,#ff3d00,#ffe100,#99ff33,#00edff,#0056ff,#0000ef,#0000cd,#0000ff,#0082ff,#24ffa8,#d2ff00,#ff7300,#e70000,#c70000,#ff2200,#ffca00,#82ff4a,#00deff,#0034ff,#0000ca,#0000ac,#0000de,#005aff,#00ffe6,#a9ff23,#ff9b00)"></p>
<p style="background:linear-gradient(90deg,#00fbff,#38ff94,#cbff01,#ffde00,#ff4400,#c80000,#bb0000,#ff2900,#ffd500,#9dff2f,#00e3ff,#004cff,#0000e6,#0000be,#0000e6,#0060ff,#02ffca,#c8ff04,#ff7600,#dd0000,#b50000,#ff1100,#ffc200,#84ff48,#00cbff,#001dff,#0000b5,#000098,#0000c6,#003dff,#00fcff,#a6ff26,#ff9900)"></p>
<p style="background:linear-gradient(90deg,#00ddff,#00ffd7,#7eff4e,#fffa00,#ff5200,#c10000,#a70000,#ff1400,#ffc700,#a1ff2b,#00d5ff,#0040ff,#0000dd,#0000b1,#0000cd,#003cff,#00fff5,#bcff10,#ff7a00,#d40000,#a30000,#ff0100,#ffba00,#87ff45,#00b5ff,#0006ff,#0000a0,#000083,#0000ad,#001fff,#00dfff,#a2ff2a,#ff9700)"></p>
<p style="background:linear-gradient(90deg,#00d5ff,#00ffe9,#81ff4b,#fff700,#ff4000,#aa0000,#990000,#ff1900,#ffda00,#95ff37,#00b5ff,#002fff,#0000d9,#0000b4,#0000d2,#0042ff,#00ffd9,#d0ff00,#ff5e00,#b70000,#940000,#ff0900,#ffd200,#76ff56,#008cff,#0000e8,#000090,#000080,#0000af,#0028ff,#00faff,#baff12,#ff7400)"></p>
<p style="background:linear-gradient(90deg,#00caff,#00fff6,#b4ff18,#ffec00,#ff2500,#8e0000,#8f0000,#ff2700,#fff400,#8cff40,#0092ff,#001dff,#0000d6,#0000bc,#0000de,#0053ff,#31ff9b,#edff00,#ff3900,#960000,#8a0000,#ff1c00,#fff200,#69ff63,#0062ff,#0000ce,#000083,#000080,#0000b8,#003bff,#05ffc7,#ddff00,#ff4800)"></p>
<p style="background:linear-gradient(90deg,#00b3ff,#00f9ff,#a8ff24,#ffde00,#ff0700,#800000,#880000,#ff3900,#ecff00,#2affa2,#006fff,#000aff,#0000d4,#0000c4,#0000ec,#0065ff,#6dff5f,#fff200,#ff1200,#800000,#850000,#ff3400,#e8ff00,#1dffaf,#003aff,#0000b6,#000080,#000080,#0000c2,#004fff,#67ff65,#fffa00,#ff1a00)"></p>
<p style="background:linear-gradient(90deg,#0095ff,#00e8ff,#a0ff2c,#ffcc00,#e70000,#800000,#850000,#ff4f00,#cdff00,#00ffed,#004cff,#0000f7,#0000d1,#0000cd,#0000fa,#0079ff,#77ff55,#ffd400,#e90000,#800000,#860000,#ff5200,#c3ff09,#00f4ff,#0015ff,#0000a1,#000080,#000080,#0000cc,#0066ff,#70ff5c,#ffd400,#e80000)"></p>
<p style="background:linear-gradient(90deg,#0072ff,#00d6ff,#9cff30,#ffb700,#c60000,#800000,#870000,#ff6900,#b1ff1b,#00d7ff,#002bff,#0000e4,#0000ce,#0000d6,#000aff,#008fff,#86ff46,#ffb200,#bf0000,#800000,#8e0000,#ff7500,#a2ff2a,#00b6ff,#0000f3,#00008e,#000080,#000081,#0000d8,#0080ff,#81ff4b,#ffaa00,#b70000)"></p>
<p style="background:linear-gradient(90deg,#004fff,#00c7ff,#9cff30,#ff9e00,#a30000,#800000,#8e0000,#ff8500,#98ff34,#00a5ff,#000bff,#0000d1,#0000c9,#0000dd,#0018ff,#00a8ff,#99ff33,#ff8c00,#940000,#800000,#9e0000,#ff9a00,#86ff46,#007fff,#0000d4,#000080,#000080,#000085,#0000e4,#009fff,#99ff33,#ff7a00,#850000)"></p>
<p style="background:linear-gradient(90deg,#002eff,#00baff,#9eff2e,#ff8800,#860000,#800000,#980000,#ff9f00,#87ff45,#007dff,#0000f0,#0000c0,#0000c4,#0000e3,#0025ff,#00c1ff,#adff1f,#ff6a00,#800000,#800000,#b10000,#ffbc00,#76ff56,#0056ff,#0000bd,#000080,#000080,#000089,#0000ef,#00c1ff,#b3ff19,#ff4f00,#800000)"></p>
<p style="background:linear-gradient(90deg,#0011ff,#00a8ff,#98ff34,#ff8b00,#8b0000,#800000,#9c0000,#ffa100,#85ff47,#007aff,#0000ea,#0000b9,#0000c0,#0000e5,#002bff,#00c7ff,#b0ff1c,#ff6b00,#800000,#800000,#b50000,#ffbe00,#76ff56,#0056ff,#0000bd,#000080,#000080,#000089,#0000ef,#00c1ff,#b2ff1a,#ff5200,#800000)"></p>
<p style="background:linear-gradient(90deg,#0000fa,#009aff,#93ff39,#ff8e00,#900000,#800000,#a00000,#ffa300,#84ff48,#0077ff,#0000e4,#0000b2,#0000ba,#0000e5,#0030ff,#00ccff,#b3ff19,#ff6d00,#800000,#800000,#b90000,#ffbf00,#76ff56,#0056ff,#0000bd,#000080,#000080,#000089,#0000ef,#00c1ff,#b1ff1b,#ff5500,#800000)"></p>
<p style="background:linear-gradient(90deg,#0000eb,#0090ff,#90ff3c,#ff9100,#940000,#800000,#a50000,#ffa500,#83ff49,#0075ff,#0000df,#0000aa,#0000b3,#0000e3,#0033ff,#00d0ff,#b6ff16,#ff6e00,#800000,#800000,#bd0000,#ffc100,#75ff57,#0056ff,#0000bd,#000080,#000080,#000089,#0000ef,#00c1ff,#b1ff1b,#ff5700,#800000)"></p>
<p style="background:linear-gradient(90deg,#0000e0,#008aff,#8eff3e,#ff9300,#990000,#800000,#a90000,#ffa700,#82ff4a,#0074ff,#0000db,#0000a2,#0000aa,#0000de,#0034ff,#00d4ff,#baff12,#ff6f00,#820000,#800000,#c10000,#ffc300,#75ff57,#0056ff,#0000bd,#000080,#000080,#000089,#0000ef,#00c1ff,#b0ff1c,#ff5a00,#800000)"></p>
<p style="background:linear-gradient(90deg,#0000da,#0086ff,#8cff40,#ff9600,#9e0000,#800000,#ae0000,#ffaa00,#82ff4a,#0072ff,#0000d7,#00009a,#0000a1,#0000d8,#0033ff,#00d7ff,#bdff0f,#ff7000,#860000,#800000,#c60000,#ffc500,#75ff57,#0056ff,#0000bd,#000080,#000080,#000089,#0000ef,#00c1ff,#afff1d,#ff5d00,#800000)"></p>
<p style="background:linear-gradient(90deg,#0000d6,#0084ff,#8bff41,#ff9800,#a20000,#800000,#b20000,#ffac00,#81ff4b,#0071ff,#0000d4,#000094,#000098,#0000d0,#0031ff,#00d9ff,#c0ff0c,#ff7100,#8a0000,#800000,#ca0000,#ffc700,#75ff57,#0056ff,#0000bd,#000080,#000080,#000089,#0000ef,#00c1ff,#afff1d,#ff6000,#800000)"></p>
<p style="background:linear-gradient(90deg,#0000d4,#0082ff,#8aff42,#ff9a00,#a70000,#800000,#b70000,#ffae00,#81ff4b,#0070ff,#0000d1,#00008e,#00008f,#0000c8,#002cff,#00d9ff,#c2ff0a,#ff7100,#8f0000,#800000,#ce0000,#ffc800,#75ff57,#0056ff,#0000bd,#000080,#000080,#000089,#0000ef,#00c1ff,#aeff1e,#ff6200,#800000)"></p>
<p style="background:linear-gradient(90deg,#0000e8,#0096ff,#8eff3e,#ff9d00,#c00000,#800000,#ce0000,#ffaf00,#84ff48,#0084ff,#0000e4,#00009d,#00009a,#0000d3,#003cff,#00ebff,#c8ff04,#ff7500,#a90000,#800000,#e30000,#ffc800,#77ff55,#006bff,#0000d2,#000086,#000080,#00009e,#0005ff,#00d3ff,#b3ff19,#ff6a00,#9d0000)"></p>
<p style="background:linear-gradient(90deg,#0002ff,#00acff,#94ff38,#ffa100,#de0000,#920000,#eb0000,#ffb200,#88ff44,#009aff,#0000fb,#0000b0,#0000aa,#0000e2,#004eff,#00feff,#cfff00,#ff7a00,#ca0000,#920000,#fd0000,#ffc900,#7bff51,#0082ff,#0000eb,#00009e,#00008d,#0000b6,#001eff,#00e6ff,#b9ff13,#ff7300,#c10000)"></p>
<p style="background:linear-gradient(90deg,#0019ff,#00c0ff,#99ff33,#ffa700,#fe0000,#bd0000,#ff0900,#ffb600,#8eff3e,#00afff,#0013ff,#0000c5,#0000bb,#0000f1,#005eff,#00ffed,#d5ff00,#ff8200,#ea0000,#bd0000,#ff1800,#ffcb00,#7fff4d,#0098ff,#0004ff,#0000b6,#0000a4,#0000cd,#0035ff,#00f8ff,#bfff0d,#ff7e00,#e40000)"></p>
<p style="background:linear-gradient(90deg,#0031ff,#00d3ff,#9fff2d,#ffaf00,#ff1f00,#e80000,#ff2700,#ffbc00,#93ff39,#00c2ff,#0029ff,#0000d9,#0000cd,#0001ff,#006eff,#00ffdd,#daff00,#ff8b00,#ff0d00,#e80000,#ff3400,#ffce00,#84ff48,#00adff,#001bff,#0000cd,#0000bc,#0000e5,#004cff,#00fff4,#c4ff08,#ff8b00,#ff0a00)"></p>
<p style="background:linear-gradient(90deg,#0047ff,#00e4ff,#a4ff28,#ffb900,#ff4000,#ff1400,#ff4700,#ffc400,#99ff33,#00d5ff,#003fff,#0000ef,#0000e0,#0012ff,#007dff,#00ffd0,#ddff00,#ff9700,#ff3000,#ff1300,#ff5100,#ffd400,#89ff43,#00c0ff,#0032ff,#0000e5,#0000d3,#0000fc,#0062ff,#00ffe3,#c8ff04,#ff9a00,#ff2f00)"></p>
<p style="height:1px;background:linear-gradient(90deg,#0056ff,#00efff,#a8ff24,#ffc000,#ff5600,#ff3100,#ff5d00,#ffca00,#9cff30,#00e0ff,#004eff,#0000fd,#0000ed,#001dff,#0087ff,#04ffc8,#deff00,#ffa100,#ff4700,#ff3000,#ff6500,#ffd900,#8cff40,#00ccff,#0041ff,#0000f4,#0000e3,#000dff,#0071ff,#00ffd9,#cbff01,#ffa500,#ff4800)"></p>
</div>
<svg width="996" height="823" viewBox="0 0 996 823" style="position:absolute;left:0;top:0;font-family:'Liberation Sans',Arial,Helvetica,sans-serif">
<line x1="123" y1="110" x2="252" y2="110" stroke="#333" stroke-width="1.6"/>
<line x1="123" y1="383.5" x2="252" y2="383.5" stroke="#333" stroke-width="1.6"/>
<line x1="123" y1="113.2" x2="126" y2="113.2" stroke="#000" stroke-width="1.3"/>
<line x1="249" y1="113.2" x2="252" y2="113.2" stroke="#000" stroke-width="1.3"/>
<line x1="123" y1="157.8" x2="126" y2="157.8" stroke="#000" stroke-width="1.3"/>
<line x1="249" y1="157.8" x2="252" y2="157.8" stroke="#000" stroke-width="1.3"/>
<line x1="123" y1="202.4" x2="126" y2="202.4" stroke="#000" stroke-width="1.3"/>
<line x1="249" y1="202.4" x2="252" y2="202.4" stroke="#000" stroke-width="1.3"/>
<line x1="123" y1="247.0" x2="126" y2="247.0" stroke="#000" stroke-width="1.3"/>
<line x1="249" y1="247.0" x2="252" y2="247.0" stroke="#000" stroke-width="1.3"/>
<line x1="123" y1="291.6" x2="126" y2="291.6" stroke="#000" stroke-width="1.3"/>
<line x1="249" y1="291.6" x2="252" y2="291.6" stroke="#000" stroke-width="1.3"/>
<line x1="123" y1="336.2" x2="126" y2="336.2" stroke="#000" stroke-width="1.3"/>
<line x1="249" y1="336.2" x2="252" y2="336.2" stroke="#000" stroke-width="1.3"/>
<line x1="123" y1="380.8" x2="126" y2="380.8" stroke="#000" stroke-width="1.3"/>
<line x1="249" y1="380.8" x2="252" y2="380.8" stroke="#000" stroke-width="1.3"/>
<line x1="145.6" y1="110" x2="145.6" y2="113" stroke="#000" stroke-width="1.3"/>
<line x1="145.6" y1="383.5" x2="145.6" y2="380.5" stroke="#000" stroke-width="1.3"/>
<line x1="188.5" y1="110" x2="188.5" y2="113" stroke="#000" stroke-width="1.3"/>
<line x1="188.5" y1="383.5" x2="188.5" y2="380.5" stroke="#000" stroke-width="1.3"/>
<line x1="232.5" y1="110" x2="232.5" y2="113" stroke="#000" stroke-width="1.3"/>
<line x1="232.5" y1="383.5" x2="232.5" y2="380.5" stroke="#000" stroke-width="1.3"/>
<line x1="123" y1="455" x2="252" y2="455" stroke="#333" stroke-width="1.6"/>
<line x1="123" y1="728.5" x2="252" y2="728.5" stroke="#333" stroke-width="1.6"/>
<line x1="123" y1="457.6" x2="126" y2="457.6" stroke="#000" stroke-width="1.3"/>
<line x1="249" y1="457.6" x2="252" y2="457.6" stroke="#000" stroke-width="1.3"/>
<line x1="123" y1="505.6" x2="126" y2="505.6" stroke="#000" stroke-width="1.3"/>
<line x1="249" y1="505.6" x2="252" y2="505.6" stroke="#000" stroke-width="1.3"/>
<line x1="123" y1="553.6" x2="126" y2="553.6" stroke="#000" stroke-width="1.3"/>
<line x1="249" y1="553.6" x2="252" y2="553.6" stroke="#000" stroke-width="1.3"/>
<line x1="123" y1="601.6" x2="126" y2="601.6" stroke="#000" stroke-width="1.3"/>
<line x1="249" y1="601.6" x2="252" y2="601.6" stroke="#000" stroke-width="1.3"/>
<line x1="123" y1="649.6" x2="126" y2="649.6" stroke="#000" stroke-width="1.3"/>
<line x1="249" y1="649.6" x2="252" y2="649.6" stroke="#000" stroke-width="1.3"/>
<line x1="123" y1="697.6" x2="126" y2="697.6" stroke="#000" stroke-width="1.3"/>
<line x1="249" y1="697.6" x2="252" y2="697.6" stroke="#000" stroke-width="1.3"/>
<line x1="145.6" y1="455" x2="145.6" y2="458" stroke="#000" stroke-width="1.3"/>
<line x1="145.6" y1="728.5" x2="145.6" y2="725.5" stroke="#000" stroke-width="1.3"/>
<line x1="188.5" y1="455" x2="188.5" y2="458" stroke="#000" stroke-width="1.3"/>
<line x1="188.5" y1="728.5" x2="188.5" y2="725.5" stroke="#000" stroke-width="1.3"/>
<line x1="232.5" y1="455" x2="232.5" y2="458" stroke="#000" stroke-width="1.3"/>
<line x1="232.5" y1="728.5" x2="232.5" y2="725.5" stroke="#000" stroke-width="1.3"/>
<line x1="293" y1="110" x2="422" y2="110" stroke="#333" stroke-width="1.6"/>
<line x1="293" y1="383.5" x2="422" y2="383.5" stroke="#333" stroke-width="1.6"/>
<line x1="293" y1="113.2" x2="296" y2="113.2" stroke="#000" stroke-width="1.3"/>
<line x1="419" y1="113.2" x2="422" y2="113.2" stroke="#000" stroke-width="1.3"/>
<line x1="293" y1="157.8" x2="296" y2="157.8" stroke="#000" stroke-width="1.3"/>
<line x1="419" y1="157.8" x2="422" y2="157.8" stroke="#000" stroke-width="1.3"/>
<line x1="293" y1="202.4" x2="296" y2="202.4" stroke="#000" stroke-width="1.3"/>
<line x1="419" y1="202.4" x2="422" y2="202.4" stroke="#000" stroke-width="1.3"/>
<line x1="293" y1="247.0" x2="296" y2="247.0" stroke="#000" stroke-width="1.3"/>
<line x1="419" y1="247.0" x2="422" y2="247.0" stroke="#000" stroke-width="1.3"/>
<line x1="293" y1="291.6" x2="296" y2="291.6" stroke="#000" stroke-width="1.3"/>
<line x1="419" y1="291.6" x2="422" y2="291.6" stroke="#000" stroke-width="1.3"/>
<line x1="293" y1="336.2" x2="296" y2="336.2" stroke="#000" stroke-width="1.3"/>
<line x1="419" y1="336.2" x2="422" y2="336.2" stroke="#000" stroke-width="1.3"/>
<line x1="293" y1="380.8" x2="296" y2="380.8" stroke="#000" stroke-width="1.3"/>
<line x1="419" y1="380.8" x2="422" y2="380.8" stroke="#000" stroke-width="1.3"/>
<line x1="315.6" y1="110" x2="315.6" y2="113" stroke="#000" stroke-width="1.3"/>
<line x1="315.6" y1="383.5" x2="315.6" y2="380.5" stroke="#000" stroke-width="1.3"/>
<line x1="358.5" y1="110" x2="358.5" y2="113" stroke="#000" stroke-width="1.3"/>
<line x1="358.5" y1="383.5" x2="358.5" y2="380.5" stroke="#000" stroke-width="1.3"/>
<line x1="402.5" y1="110" x2="402.5" y2="113" stroke="#000" stroke-width="1.3"/>
<line x1="402.5" y1="383.5" x2="402.5" y2="380.5" stroke="#000" stroke-width="1.3"/>
<line x1="293" y1="455" x2="422" y2="455" stroke="#333" stroke-width="1.6"/>
<line x1="293" y1="728.5" x2="422" y2="728.5" stroke="#333" stroke-width="1.6"/>
<line x1="293" y1="457.6" x2="296" y2="457.6" stroke="#000" stroke-width="1.3"/>
<line x1="419" y1="457.6" x2="422" y2="457.6" stroke="#000" stroke-width="1.3"/>
<line x1="293" y1="505.6" x2="296" y2="505.6" stroke="#000" stroke-width="1.3"/>
<line x1="419" y1="505.6" x2="422" y2="505.6" stroke="#000" stroke-width="1.3"/>
<line x1="293" y1="553.6" x2="296" y2="553.6" stroke="#000" stroke-width="1.3"/>
<line x1="419" y1="553.6" x2="422" y2="553.6" stroke="#000" stroke-width="1.3"/>
<line x1="293" y1="601.6" x2="296" y2="601.6" stroke="#000" stroke-width="1.3"/>
<line x1="419" y1="601.6" x2="422" y2="601.6" stroke="#000" stroke-width="1.3"/>
<line x1="293" y1="649.6" x2="296" y2="649.6" stroke="#000" stroke-width="1.3"/>
<line x1="419" y1="649.6" x2="422" y2="649.6" stroke="#000" stroke-width="1.3"/>
<line x1="293" y1="697.6" x2="296" y2="697.6" stroke="#000" stroke-width="1.3"/>
<line x1="419" y1="697.6" x2="422" y2="697.6" stroke="#000" stroke-width="1.3"/>
<line x1="315.6" y1="455" x2="315.6" y2="458" stroke="#000" stroke-width="1.3"/>
<line x1="315.6" y1="728.5" x2="315.6" y2="725.5" stroke="#000" stroke-width="1.3"/>
<line x1="358.5" y1="455" x2="358.5" y2="458" stroke="#000" stroke-width="1.3"/>
<line x1="358.5" y1="728.5" x2="358.5" y2="725.5" stroke="#000" stroke-width="1.3"/>
<line x1="402.5" y1="455" x2="402.5" y2="458" stroke="#000" stroke-width="1.3"/>
<line x1="402.5" y1="728.5" x2="402.5" y2="725.5" stroke="#000" stroke-width="1.3"/>
<line x1="464" y1="110" x2="593" y2="110" stroke="#333" stroke-width="1.6"/>
<line x1="464" y1="383.5" x2="593" y2="383.5" stroke="#333" stroke-width="1.6"/>
<line x1="464" y1="113.2" x2="467" y2="113.2" stroke="#000" stroke-width="1.3"/>
<line x1="590" y1="113.2" x2="593" y2="113.2" stroke="#000" stroke-width="1.3"/>
<line x1="464" y1="157.8" x2="467" y2="157.8" stroke="#000" stroke-width="1.3"/>
<line x1="590" y1="157.8" x2="593" y2="157.8" stroke="#000" stroke-width="1.3"/>
<line x1="464" y1="202.4" x2="467" y2="202.4" stroke="#000" stroke-width="1.3"/>
<line x1="590" y1="202.4" x2="593" y2="202.4" stroke="#000" stroke-width="1.3"/>
<line x1="464" y1="247.0" x2="467" y2="247.0" stroke="#000" stroke-width="1.3"/>
<line x1="590" y1="247.0" x2="593" y2="247.0" stroke="#000" stroke-width="1.3"/>
<line x1="464" y1="291.6" x2="467" y2="291.6" stroke="#000" stroke-width="1.3"/>
<line x1="590" y1="291.6" x2="593" y2="291.6" stroke="#000" stroke-width="1.3"/>
<line x1="464" y1="336.2" x2="467" y2="336.2" stroke="#000" stroke-width="1.3"/>
<line x1="590" y1="336.2" x2="593" y2="336.2" stroke="#000" stroke-width="1.3"/>
<line x1="464" y1="380.8" x2="467" y2="380.8" stroke="#000" stroke-width="1.3"/>
<line x1="590" y1="380.8" x2="593" y2="380.8" stroke="#000" stroke-width="1.3"/>
<line x1="486.6" y1="110" x2="486.6" y2="113" stroke="#000" stroke-width="1.3"/>
<line x1="486.6" y1="383.5" x2="486.6" y2="380.5" stroke="#000" stroke-width="1.3"/>
<line x1="529.5" y1="110" x2="529.5" y2="113" stroke="#000" stroke-width="1.3"/>
<line x1="529.5" y1="383.5" x2="529.5" y2="380.5" stroke="#000" stroke-width="1.3"/>
<line x1="573.5" y1="110" x2="573.5" y2="113" stroke="#000" stroke-width="1.3"/>
<line x1="573.5" y1="383.5" x2="573.5" y2="380.5" stroke="#000" stroke-width="1.3"/>
<line x1="464" y1="455" x2="593" y2="455" stroke="#333" stroke-width="1.6"/>
<line x1="464" y1="728.5" x2="593" y2="728.5" stroke="#333" stroke-width="1.6"/>
<line x1="464" y1="457.6" x2="467" y2="457.6" stroke="#000" stroke-width="1.3"/>
<line x1="590" y1="457.6" x2="593" y2="457.6" stroke="#000" stroke-width="1.3"/>
<line x1="464" y1="505.6" x2="467" y2="505.6" stroke="#000" stroke-width="1.3"/>
<line x1="590" y1="505.6" x2="593" y2="505.6" stroke="#000" stroke-width="1.3"/>
<line x1="464" y1="553.6" x2="467" y2="553.6" stroke="#000" stroke-width="1.3"/>
<line x1="590" y1="553.6" x2="593" y2="553.6" stroke="#000" stroke-width="1.3"/>
<line x1="464" y1="601.6" x2="467" y2="601.6" stroke="#000" stroke-width="1.3"/>
<line x1="590" y1="601.6" x2="593" y2="601.6" stroke="#000" stroke-width="1.3"/>
<line x1="464" y1="649.6" x2="467" y2="649.6" stroke="#000" stroke-width="1.3"/>
<line x1="590" y1="649.6" x2="593" y2="649.6" stroke="#000" stroke-width="1.3"/>
<line x1="464" y1="697.6" x2="467" y2="697.6" stroke="#000" stroke-width="1.3"/>
<line x1="590" y1="697.6" x2="593" y2="697.6" stroke="#000" stroke-width="1.3"/>
<line x1="486.6" y1="455" x2="486.6" y2="458" stroke="#000" stroke-width="1.3"/>
<line x1="486.6" y1="728.5" x2="486.6" y2="725.5" stroke="#000" stroke-width="1.3"/>
<line x1="529.5" y1="455" x2="529.5" y2="458" stroke="#000" stroke-width="1.3"/>
<line x1="529.5" y1="728.5" x2="529.5" y2="725.5" stroke="#000" stroke-width="1.3"/>
<line x1="573.5" y1="455" x2="573.5" y2="458" stroke="#000" stroke-width="1.3"/>
<line x1="573.5" y1="728.5" x2="573.5" y2="725.5" stroke="#000" stroke-width="1.3"/>
<rect x="620" y="379.71" width="20" height="5.29" fill="#000080"/>
<rect x="620" y="375.42" width="20" height="5.29" fill="#000090"/>
<rect x="620" y="371.13" width="20" height="5.29" fill="#0000a0"/>
<rect x="620" y="366.84" width="20" height="5.29" fill="#0000b0"/>
<rect x="620" y="362.55" width="20" height="5.29" fill="#0000c0"/>
<rect x="620" y="358.27" width="20" height="5.29" fill="#0000d0"/>
<rect x="620" y="353.98" width="20" height="5.29" fill="#0000e1"/>
<rect x="620" y="349.69" width="20" height="5.29" fill="#0000f1"/>
<rect x="620" y="345.40" width="20" height="5.29" fill="#0002ff"/>
<rect x="620" y="341.11" width="20" height="5.29" fill="#0012ff"/>
<rect x="620" y="336.82" width="20" height="5.29" fill="#0022ff"/>
<rect x="620" y="332.53" width="20" height="5.29" fill="#0033ff"/>
<rect x="620" y="328.24" width="20" height="5.29" fill="#0043ff"/>
<rect x="620" y="323.95" width="20" height="5.29" fill="#0053ff"/>
<rect x="620" y="319.66" width="20" height="5.29" fill="#0063ff"/>
<rect x="620" y="315.38" width="20" height="5.29" fill="#0073ff"/>
<rect x="620" y="311.09" width="20" height="5.29" fill="#0084ff"/>
<rect x="620" y="306.80" width="20" height="5.29" fill="#0094ff"/>
<rect x="620" y="302.51" width="20" height="5.29" fill="#00a4ff"/>
<rect x="620" y="298.22" width="20" height="5.29" fill="#00b4ff"/>
<rect x="620" y="293.93" width="20" height="5.29" fill="#00c4ff"/>
<rect x="620" y="289.64" width="20" height="5.29" fill="#00d4ff"/>
<rect x="620" y="285.35" width="20" height="5.29" fill="#00e5ff"/>
<rect x="620" y="281.06" width="20" height="5.29" fill="#00f5ff"/>
<rect x="620" y="276.77" width="20" height="5.29" fill="#00fff8"/>
<rect x="620" y="272.48" width="20" height="5.29" fill="#00ffe4"/>
<rect x="620" y="268.20" width="20" height="5.29" fill="#00ffd1"/>
<rect x="620" y="263.91" width="20" height="5.29" fill="#0fffbd"/>
<rect x="620" y="259.62" width="20" height="5.29" fill="#22ffaa"/>
<rect x="620" y="255.33" width="20" height="5.29" fill="#35ff97"/>
<rect x="620" y="251.04" width="20" height="5.29" fill="#49ff83"/>
<rect x="620" y="246.75" width="20" height="5.29" fill="#5cff70"/>
<rect x="620" y="242.46" width="20" height="5.29" fill="#70ff5c"/>
<rect x="620" y="238.17" width="20" height="5.29" fill="#83ff49"/>
<rect x="620" y="233.88" width="20" height="5.29" fill="#97ff35"/>
<rect x="620" y="229.59" width="20" height="5.29" fill="#aaff22"/>
<rect x="620" y="225.30" width="20" height="5.29" fill="#bdff0f"/>
<rect x="620" y="221.02" width="20" height="5.29" fill="#d1ff00"/>
<rect x="620" y="216.73" width="20" height="5.29" fill="#e4ff00"/>
<rect x="620" y="212.44" width="20" height="5.29" fill="#f8ff00"/>
<rect x="620" y="208.15" width="20" height="5.29" fill="#fff500"/>
<rect x="620" y="203.86" width="20" height="5.29" fill="#ffe500"/>
<rect x="620" y="199.57" width="20" height="5.29" fill="#ffd500"/>
<rect x="620" y="195.28" width="20" height="5.29" fill="#ffc400"/>
<rect x="620" y="190.99" width="20" height="5.29" fill="#ffb400"/>
<rect x="620" y="186.70" width="20" height="5.29" fill="#ffa400"/>
<rect x="620" y="182.41" width="20" height="5.29" fill="#ff9400"/>
<rect x="620" y="178.12" width="20" height="5.29" fill="#ff8400"/>
<rect x="620" y="173.84" width="20" height="5.29" fill="#ff7300"/>
<rect x="620" y="169.55" width="20" height="5.29" fill="#ff6300"/>
<rect x="620" y="165.26" width="20" height="5.29" fill="#ff5300"/>
<rect x="620" y="160.97" width="20" height="5.29" fill="#ff4300"/>
<rect x="620" y="156.68" width="20" height="5.29" fill="#ff3300"/>
<rect x="620" y="152.39" width="20" height="5.29" fill="#ff2200"/>
<rect x="620" y="148.10" width="20" height="5.29" fill="#ff1200"/>
<rect x="620" y="143.81" width="20" height="5.29" fill="#ff0200"/>
<rect x="620" y="139.52" width="20" height="5.29" fill="#f10000"/>
<rect x="620" y="135.23" width="20" height="5.29" fill="#e10000"/>
<rect x="620" y="130.95" width="20" height="5.29" fill="#d00000"/>
<rect x="620" y="126.66" width="20" height="5.29" fill="#c00000"/>
<rect x="620" y="122.37" width="20" height="5.29" fill="#b00000"/>
<rect x="620" y="118.08" width="20" height="5.29" fill="#a00000"/>
<rect x="620" y="113.79" width="20" height="5.29" fill="#900000"/>
<rect x="620" y="109.50" width="20" height="5.29" fill="#800000"/>
<rect x="620" y="109.5" width="20" height="274.5" fill="none" stroke="#000" stroke-width="1.3"/>
<line x1="620" y1="178.4" x2="623" y2="178.4" stroke="#000" stroke-width="1.2"/>
<line x1="637" y1="178.4" x2="640" y2="178.4" stroke="#000" stroke-width="1.2"/>
<line x1="620" y1="246.5" x2="623" y2="246.5" stroke="#000" stroke-width="1.2"/>
<line x1="637" y1="246.5" x2="640" y2="246.5" stroke="#000" stroke-width="1.2"/>
<line x1="620" y1="315.3" x2="623" y2="315.3" stroke="#000" stroke-width="1.2"/>
<line x1="637" y1="315.3" x2="640" y2="315.3" stroke="#000" stroke-width="1.2"/>
<text x="279.7" y="29.5" font-size="36.4" text-anchor="start" >Total power</text>
<text x="159.0" y="105.2" font-size="45" text-anchor="start" >HA</text>
<text x="325.90000000000003" y="105.2" font-size="45" text-anchor="start" >OA</text>
<text x="483.5" y="106.5" font-size="45" text-anchor="start" >HAC</text>
<text x="117" y="128.3" font-size="36" text-anchor="end" >90</text>
<text x="117" y="259.8" font-size="36" text-anchor="end" >60</text>
<text x="117" y="393.7" font-size="36" text-anchor="end" >30</text>
<text x="117" y="470.8" font-size="36" text-anchor="end" >30</text>
<text x="117" y="567.4" font-size="36" text-anchor="end" >20</text>
<text x="117" y="659" font-size="36" text-anchor="end" >10</text>
<text x="642" y="120.7" font-size="36" text-anchor="start" >1.1</text>
<text x="645" y="259.7" font-size="36" text-anchor="start" >0</text>
<text x="645" y="393.9" font-size="36" text-anchor="start" >0.9</text>
<text x="108.5" y="772.5" font-size="36" text-anchor="start" >-0.5</text>
<text x="180" y="772.5" font-size="36" text-anchor="start" >0</text>
<text x="206" y="772.5" font-size="36" text-anchor="start" >0.5</text>
<text x="142" y="813.5" font-size="36" text-anchor="start" >time (s)</text>
<text x="0" y="0" font-size="36" transform="translate(29.6,524.3) rotate(-90)">Frequency (Hz)</text>
<text x="814.5" y="94.1" font-size="35" text-anchor="start" >Beta</text>
<text x="811.6" y="439.6" font-size="35" text-anchor="start" >Theta</text>
<text x="794.6" y="755.6" font-size="36.1" text-anchor="start" >0-0.25 s</text>
<clipPath id="cb"><circle cx="851.6" cy="245.8" r="120.1"/></clipPath><clipPath id="cbr"><rect x="733.6" y="128.3" width="235.5" height="235.5"/></clipPath>
<g clip-path="url(#cbr)"><g clip-path="url(#cb)">
<circle cx="851.6" cy="245.8" r="121" fill="#33ffbb"/>
<path d="M733.3,225.0 C733.5,224.2 733.6,222.3 734.3,220.5 C735.0,218.7 736.7,216.0 737.7,214.0 C738.7,212.0 739.6,209.7 740.5,208.3 C741.4,206.9 741.8,207.7 743.2,205.5 C744.6,203.3 746.6,199.0 749.0,195.2 C751.4,191.4 755.1,185.8 757.5,182.8 C759.9,179.8 761.8,178.8 763.2,177.2 C764.6,175.6 764.0,175.2 766.0,173.4 C768.0,171.6 771.8,168.8 775.4,166.1 C779.0,163.4 785.1,158.7 787.5,157.0 C789.9,155.3 787.5,157.3 790.0,155.7 C792.5,154.1 798.2,150.1 802.2,147.2 C806.2,144.2 810.8,140.5 814.3,138.0 C817.8,135.5 820.9,133.6 823.4,132.0 C825.9,130.4 827.9,129.5 829.5,128.6 C831.1,127.7 832.4,126.8 833.0,126.5 L831.0,100.0 L700.0,100.0 L700.0,224.0Z" fill="#88ff44"/><path d="M733.3,225.0 C733.5,224.2 733.6,222.3 734.3,220.5 C735.0,218.7 736.7,216.0 737.7,214.0 C738.7,212.0 739.6,209.7 740.5,208.3 C741.4,206.9 741.8,207.7 743.2,205.5 C744.6,203.3 746.6,199.0 749.0,195.2 C751.4,191.4 755.1,185.8 757.5,182.8 C759.9,179.8 761.8,178.8 763.2,177.2 C764.6,175.6 764.0,175.2 766.0,173.4 C768.0,171.6 771.8,168.8 775.4,166.1 C779.0,163.4 785.1,158.7 787.5,157.0 C789.9,155.3 787.5,157.3 790.0,155.7 C792.5,154.1 798.2,150.1 802.2,147.2 C806.2,144.2 810.8,140.5 814.3,138.0 C817.8,135.5 820.9,133.6 823.4,132.0 C825.9,130.4 827.9,129.5 829.5,128.6 C831.1,127.7 832.4,126.8 833.0,126.5" class="cl"/>
<path d="M872.0,127.0 C872.6,127.2 872.9,126.5 875.7,128.0 C878.6,129.5 884.2,132.9 889.1,136.0 C894.0,139.1 899.8,142.9 905.1,146.7 C910.4,150.5 916.2,154.8 921.1,158.8 C926.0,162.8 930.5,166.8 934.5,170.8 C938.5,174.8 941.9,178.8 945.2,182.8 C948.5,186.8 951.8,191.0 954.5,194.8 C957.2,198.6 959.2,201.9 961.2,205.5 C963.2,209.1 965.4,213.5 966.6,216.2 C967.8,218.9 968.0,220.0 968.6,221.6 C969.2,223.2 969.8,225.3 970.0,226.0 L1000.0,226.0 L1000.0,100.0 L872.0,100.0Z" fill="#88ff44"/><path d="M872.0,127.0 C872.6,127.2 872.9,126.5 875.7,128.0 C878.6,129.5 884.2,132.9 889.1,136.0 C894.0,139.1 899.8,142.9 905.1,146.7 C910.4,150.5 916.2,154.8 921.1,158.8 C926.0,162.8 930.5,166.8 934.5,170.8 C938.5,174.8 941.9,178.8 945.2,182.8 C948.5,186.8 951.8,191.0 954.5,194.8 C957.2,198.6 959.2,201.9 961.2,205.5 C963.2,209.1 965.4,213.5 966.6,216.2 C967.8,218.9 968.0,220.0 968.6,221.6 C969.2,223.2 969.8,225.3 970.0,226.0" class="cl"/>
<path d="M770.3,332.4 C772.0,333.6 776.7,337.0 780.5,339.5 C784.3,342.0 789.2,345.0 793.2,347.4 C797.2,349.8 800.8,351.6 804.2,353.7 C807.6,355.8 811.3,358.6 813.7,360.0 C816.1,361.4 817.7,362.0 818.5,362.4 L818.0,390.0 L740.0,390.0 L740.0,332.0Z" fill="#88ff44"/><path d="M770.3,332.4 C772.0,333.6 776.7,337.0 780.5,339.5 C784.3,342.0 789.2,345.0 793.2,347.4 C797.2,349.8 800.8,351.6 804.2,353.7 C807.6,355.8 811.3,358.6 813.7,360.0 C816.1,361.4 817.7,362.0 818.5,362.4" class="cl"/>
<path d="M739.2,240.0 C739.9,235.9 741.5,229.9 743.1,225.3 C744.7,220.7 746.6,216.5 749.0,212.5 C751.4,208.5 754.7,204.8 757.5,201.5 C760.3,198.2 763.2,195.4 766.0,193.0 C768.8,190.6 771.7,188.8 774.5,187.0 C777.3,185.2 780.2,183.5 783.0,181.9 C785.8,180.3 788.3,179.1 791.5,177.7 C794.7,176.3 798.2,175.2 802.0,173.5 C805.8,171.8 810.8,168.2 814.1,167.4 C817.5,166.6 818.8,167.8 822.1,168.7 C825.5,169.6 830.2,171.2 834.2,172.7 C838.2,174.2 842.9,176.0 846.2,177.5 C849.6,179.0 851.6,179.5 854.3,181.5 C857.0,183.5 859.7,186.9 862.3,189.5 C864.9,192.1 866.6,194.4 870.0,196.8 C873.4,199.2 878.1,201.8 882.4,204.2 C886.7,206.5 891.5,209.1 895.7,210.9 C899.9,212.7 905.1,213.4 907.8,214.9 C910.5,216.4 910.7,217.7 911.8,220.2 C912.9,222.7 913.5,225.0 914.5,230.0 C915.5,235.0 917.0,245.3 917.7,250.0 C918.4,254.7 918.6,254.4 918.5,258.0 C918.4,261.6 917.2,267.8 916.9,271.6 C916.6,275.5 917.2,278.6 916.5,281.1 C915.8,283.6 914.8,286.1 912.9,286.6 C911.0,287.1 907.1,284.1 905.0,284.2 C902.9,284.3 901.3,286.3 900.0,287.2 C898.7,288.1 898.6,288.7 897.1,289.3 C895.6,289.9 892.8,291.3 890.9,290.8 C889.0,290.3 887.6,287.6 885.7,286.2 C883.8,284.8 881.0,283.0 879.5,282.6 C878.0,282.2 877.0,282.6 877.0,284.1 C877.0,285.6 878.7,288.6 879.5,291.4 C880.3,294.2 881.4,297.8 881.6,300.7 C881.8,303.6 881.3,306.1 880.6,308.9 C879.9,311.6 877.7,314.1 877.5,317.2 C877.3,320.3 879.2,324.1 879.5,327.5 C879.8,330.9 879.7,334.4 879.5,337.9 C879.3,341.3 879.7,345.3 878.5,348.2 C877.3,351.1 875.0,353.7 872.3,355.4 C869.5,357.1 865.4,358.1 862.0,358.5 C858.6,358.9 855.5,358.4 851.7,357.5 C847.9,356.6 843.4,355.2 839.3,353.3 C835.2,351.4 830.3,348.7 826.9,346.1 C823.5,343.5 821.2,340.6 818.6,337.9 C816.0,335.1 813.1,332.4 811.4,329.6 C809.7,326.8 809.2,323.6 808.3,321.3 C807.4,319.0 806.9,318.3 805.9,315.8 C804.9,313.3 803.2,309.2 802.1,306.1 C801.0,303.0 800.2,299.5 799.1,297.3 C798.0,295.1 796.9,293.8 795.3,293.0 C793.7,292.2 791.2,291.9 789.4,292.5 C787.6,293.1 785.9,294.5 784.6,296.4 C783.3,298.3 782.7,301.7 781.6,304.1 C780.5,306.5 779.4,309.4 777.8,311.0 C776.2,312.6 774.2,314.2 771.9,313.9 C769.6,313.6 766.5,311.3 764.2,309.0 C761.9,306.7 760.1,303.7 758.3,300.3 C756.5,296.9 755.0,292.2 753.5,288.6 C752.0,285.0 751.1,282.0 749.6,278.9 C748.1,275.8 746.2,273.0 744.7,270.1 C743.2,267.2 741.8,264.8 740.8,261.4 C739.8,258.0 739.2,253.3 738.9,249.7 C738.6,246.1 738.5,244.1 739.2,240.0Z" fill="#00ddff" class="cf"/>
<path d="M788.1,240.0 C788.4,233.6 787.3,226.7 787.3,221.0 C787.3,215.3 787.4,209.4 788.1,205.7 C788.8,202.0 789.9,200.4 791.5,198.9 C793.1,197.4 795.6,196.4 798.0,196.4 C800.4,196.4 803.4,198.6 806.1,198.8 C808.8,199.0 810.8,197.9 814.1,197.6 C817.4,197.3 822.1,197.1 826.1,197.2 C830.1,197.3 834.6,197.7 838.2,198.0 C841.8,198.3 845.1,198.2 847.8,198.8 C850.5,199.4 851.9,200.1 854.3,201.6 C856.7,203.1 860.2,206.1 862.3,208.0 C864.4,209.9 864.7,210.1 867.1,212.8 C869.5,215.5 873.7,220.2 876.6,224.2 C879.5,228.2 883.0,233.4 884.5,236.9 C886.0,240.4 885.8,242.7 885.5,245.0 C885.2,247.3 884.1,248.9 882.9,251.0 C881.7,253.1 879.8,256.1 878.2,257.4 C876.6,258.7 875.8,259.1 873.4,259.0 C871.0,258.9 867.1,256.1 864.0,256.6 C860.9,257.1 857.7,260.5 854.5,262.1 C851.3,263.7 847.8,264.2 845.0,266.0 C842.2,267.8 840.0,270.5 838.0,273.0 C836.0,275.5 835.0,279.0 833.0,281.0 C831.0,283.0 828.8,284.9 825.8,285.2 C822.8,285.5 818.1,283.4 815.0,282.8 C811.9,282.2 809.5,282.3 806.9,281.8 C804.2,281.3 801.7,280.9 799.1,279.8 C796.5,278.7 793.5,276.8 791.4,275.0 C789.3,273.2 787.5,271.8 786.5,269.2 C785.5,266.6 785.2,264.3 785.5,259.4 C785.8,254.5 787.8,246.4 788.1,240.0Z" fill="#0066ff" class="cf"/>
<path d="M757.4,239.0 C758.4,237.9 760.4,236.5 761.8,236.3 C763.2,236.1 764.7,236.9 766.0,238.0 C767.3,239.1 768.7,241.3 769.5,243.0 C770.3,244.7 771.1,246.0 771.0,248.0 C770.9,250.0 770.1,253.4 769.0,255.0 C767.9,256.6 766.0,257.7 764.2,257.5 C762.4,257.3 759.8,255.2 758.3,253.6 C756.8,252.0 755.8,249.6 755.4,247.8 C755.0,246.0 755.3,244.5 755.6,243.0 C755.9,241.5 756.4,240.1 757.4,239.0Z" fill="#0066ff" class="cf"/>
<path d="M839.0,319.3 C839.1,318.1 839.6,316.2 840.3,316.2 C841.0,316.2 842.2,318.5 843.0,319.5 C843.8,320.5 844.9,321.4 845.0,322.4 C845.1,323.4 844.3,325.3 843.4,325.5 C842.5,325.7 840.5,324.4 839.8,323.4 C839.1,322.4 838.9,320.5 839.0,319.3Z" fill="#0066ff" class="cf"/>
<path d="M797.5,231.2 C798.3,228.5 800.6,227.8 802.0,226.1 C803.4,224.4 804.3,222.6 805.8,221.1 C807.3,219.6 809.2,218.0 811.0,217.0 C812.8,216.0 814.6,216.2 816.5,215.0 C818.4,213.8 820.1,210.2 822.1,209.6 C824.1,209.0 825.9,211.1 828.6,211.2 C831.3,211.3 835.3,210.1 838.2,210.4 C841.1,210.7 844.0,211.6 846.2,212.8 C848.4,214.1 850.2,215.5 851.3,217.9 C852.4,220.3 853.2,223.7 852.9,227.4 C852.6,231.1 850.8,236.6 849.7,240.0 C848.7,243.4 848.1,245.4 846.6,248.0 C845.1,250.6 842.7,252.9 840.6,255.8 C838.5,258.7 836.6,262.4 834.2,265.3 C831.8,268.2 829.6,271.8 826.4,273.2 C823.2,274.6 817.3,274.0 815.0,274.0 C812.7,274.0 814.2,273.8 812.7,273.0 C811.2,272.2 808.3,271.0 806.0,269.2 C803.7,267.4 800.6,264.8 799.1,262.4 C797.6,260.0 797.5,258.0 797.2,254.6 C796.9,251.2 797.2,245.9 797.2,242.0 C797.2,238.1 796.7,233.8 797.5,231.2Z" fill="#0014ff" class="cf"/>
<path d="M805.8,236.9 C807.6,234.7 810.8,231.4 813.7,229.0 C816.6,226.6 820.0,224.0 823.2,222.7 C826.4,221.4 830.1,220.3 832.7,221.1 C835.3,221.9 837.9,224.2 839.0,227.4 C840.1,230.6 839.5,236.8 839.5,240.0 C839.5,243.2 839.9,243.4 839.0,246.3 C838.1,249.2 836.1,254.4 834.2,257.4 C832.4,260.4 830.5,263.2 827.9,264.5 C825.3,265.8 821.6,266.2 818.5,265.3 C815.4,264.4 811.4,261.6 809.0,259.0 C806.6,256.4 805.2,252.3 804.2,249.5 C803.2,246.7 802.7,244.1 803.0,242.0 C803.3,239.9 804.0,239.1 805.8,236.9Z" fill="#0000b4" class="cf"/>
<path d="M815.3,236.9 C817.7,235.4 822.2,232.6 824.8,232.1 C827.4,231.6 829.8,232.4 831.1,233.7 C832.5,235.0 832.6,238.2 832.9,240.0 C833.2,241.8 833.0,242.6 832.7,244.7 C832.4,246.8 832.4,250.8 831.1,252.6 C829.8,254.4 827.2,255.7 824.8,255.8 C822.4,255.9 819.3,255.0 816.9,253.4 C814.5,251.8 811.7,248.4 810.6,246.3 C809.5,244.2 809.7,242.6 810.5,241.0 C811.3,239.4 812.9,238.4 815.3,236.9Z" fill="#00006e" class="cf"/>
</g></g>
<path d="M829.8,125.8 L851.4,106.7 L873.2,125.8" fill="none" stroke="#000" stroke-width="1.7" stroke-linejoin="miter"/>
<path d="M972.3,230.4 L975.6,227.2 L978.9,227.0 L982.1,229.0 L983.4,232.8 L983.7,248.6 L984.8,265.8 L984.0,273.3 L980.8,278.0 L976.0,279.6 L970.2,275.4" fill="none" stroke="#000" stroke-width="1.6" stroke-linejoin="round"/>
<path d="M730.9,230.4 L727.6,227.2 L724.3,227.0 L721.1,229.0 L719.8,232.8 L719.5,248.6 L718.4,265.8 L719.2,273.3 L722.4,278.0 L727.2,279.6 L733.0,275.4" fill="none" stroke="#000" stroke-width="1.6" stroke-linejoin="round"/>
<circle cx="851.6" cy="245.8" r="121" fill="none" stroke="#000" stroke-width="1.7"/>
<clipPath id="ct"><circle cx="861.5" cy="589.8" r="119.69999999999999"/></clipPath><clipPath id="ctr"><rect x="742.8" y="472" width="235.8" height="235.5"/></clipPath>
<g clip-path="url(#ctr)"><g clip-path="url(#ct)">
<circle cx="861.5" cy="589.8" r="120.6" fill="#ff9900"/>
<path d="M741.9,607.4 C742.2,607.5 742.2,607.6 743.8,608.3 C745.4,608.9 749.3,611.1 751.6,611.3 C753.9,611.5 755.6,610.9 757.4,609.3 C759.2,607.7 761.3,605.5 762.3,601.6 C763.3,597.7 762.9,591.2 763.2,586.0 C763.5,580.8 763.6,575.0 764.2,570.5 C764.9,566.0 765.3,562.0 767.1,558.8 C768.9,555.6 771.7,554.3 774.9,551.1 C778.1,547.9 782.0,543.3 786.5,539.4 C791.0,535.5 796.9,530.7 802.1,527.8 C807.4,524.9 813.9,522.5 818.0,522.0 C822.1,521.5 824.3,523.6 826.9,524.8 C829.5,525.9 831.2,527.5 833.4,528.9 C835.6,530.3 837.3,532.7 840.0,533.0 C842.7,533.3 846.8,530.9 849.8,530.5 C852.8,530.1 856.0,530.0 858.0,530.5 C860.0,531.0 860.0,531.1 861.8,533.2 C863.6,535.4 865.8,539.1 868.6,543.4 C871.4,547.6 875.4,557.0 878.8,558.7 C882.2,560.4 885.3,553.9 889.0,553.6 C892.7,553.3 897.2,556.4 900.9,557.0 C904.6,557.6 907.5,558.1 911.2,557.0 C914.9,555.9 920.3,550.2 923.1,550.2 C925.9,550.2 926.8,553.6 928.2,556.8 C929.6,560.0 930.0,565.3 931.3,569.5 C932.6,573.7 934.8,577.9 936.1,582.1 C937.4,586.3 938.8,590.2 939.2,594.7 C939.6,599.2 938.4,605.2 938.4,608.9 C938.4,612.6 938.5,615.5 939.2,616.8 C939.9,618.1 941.4,617.8 942.4,616.8 C943.4,615.8 943.9,612.3 945.5,610.5 C947.1,608.7 949.2,606.7 951.8,605.8 C954.4,604.9 958.7,605.8 961.3,605.0 C963.9,604.2 966.1,603.3 967.6,601.1 C969.1,598.9 970.0,594.5 970.0,592.0 C970.0,589.5 968.8,586.4 967.6,586.1 C966.4,585.8 964.7,588.8 962.9,590.0 C961.1,591.2 958.7,593.2 956.6,593.2 C954.5,593.2 951.8,591.6 950.3,590.0 C948.8,588.4 948.2,586.9 947.9,583.7 C947.6,580.6 948.3,574.3 948.7,571.1 C949.1,567.9 949.0,566.3 950.3,564.7 C951.6,563.1 955.2,563.2 956.6,561.6 C958.0,560.0 958.4,559.0 958.9,555.3 C959.4,551.6 959.8,544.8 959.7,539.5 C959.6,534.2 959.0,527.7 958.2,523.7 C957.4,519.8 955.5,517.1 955.0,515.8 L975.0,505.0 L1000.0,450.0 L720.0,450.0 L720.0,607.0Z" fill="#c4ff1e"/><path d="M741.9,607.4 C742.2,607.5 742.2,607.6 743.8,608.3 C745.4,608.9 749.3,611.1 751.6,611.3 C753.9,611.5 755.6,610.9 757.4,609.3 C759.2,607.7 761.3,605.5 762.3,601.6 C763.3,597.7 762.9,591.2 763.2,586.0 C763.5,580.8 763.6,575.0 764.2,570.5 C764.9,566.0 765.3,562.0 767.1,558.8 C768.9,555.6 771.7,554.3 774.9,551.1 C778.1,547.9 782.0,543.3 786.5,539.4 C791.0,535.5 796.9,530.7 802.1,527.8 C807.4,524.9 813.9,522.5 818.0,522.0 C822.1,521.5 824.3,523.6 826.9,524.8 C829.5,525.9 831.2,527.5 833.4,528.9 C835.6,530.3 837.3,532.7 840.0,533.0 C842.7,533.3 846.8,530.9 849.8,530.5 C852.8,530.1 856.0,530.0 858.0,530.5 C860.0,531.0 860.0,531.1 861.8,533.2 C863.6,535.4 865.8,539.1 868.6,543.4 C871.4,547.6 875.4,557.0 878.8,558.7 C882.2,560.4 885.3,553.9 889.0,553.6 C892.7,553.3 897.2,556.4 900.9,557.0 C904.6,557.6 907.5,558.1 911.2,557.0 C914.9,555.9 920.3,550.2 923.1,550.2 C925.9,550.2 926.8,553.6 928.2,556.8 C929.6,560.0 930.0,565.3 931.3,569.5 C932.6,573.7 934.8,577.9 936.1,582.1 C937.4,586.3 938.8,590.2 939.2,594.7 C939.6,599.2 938.4,605.2 938.4,608.9 C938.4,612.6 938.5,615.5 939.2,616.8 C939.9,618.1 941.4,617.8 942.4,616.8 C943.4,615.8 943.9,612.3 945.5,610.5 C947.1,608.7 949.2,606.7 951.8,605.8 C954.4,604.9 958.7,605.8 961.3,605.0 C963.9,604.2 966.1,603.3 967.6,601.1 C969.1,598.9 970.0,594.5 970.0,592.0 C970.0,589.5 968.8,586.4 967.6,586.1 C966.4,585.8 964.7,588.8 962.9,590.0 C961.1,591.2 958.7,593.2 956.6,593.2 C954.5,593.2 951.8,591.6 950.3,590.0 C948.8,588.4 948.2,586.9 947.9,583.7 C947.6,580.6 948.3,574.3 948.7,571.1 C949.1,567.9 949.0,566.3 950.3,564.7 C951.6,563.1 955.2,563.2 956.6,561.6 C958.0,560.0 958.4,559.0 958.9,555.3 C959.4,551.6 959.8,544.8 959.7,539.5 C959.6,534.2 959.0,527.7 958.2,523.7 C957.4,519.8 955.5,517.1 955.0,515.8" class="cl"/>
<path d="M744.8,626.8 C745.3,627.0 745.6,627.1 747.7,627.8 C749.8,628.4 754.8,629.2 757.4,630.7 C760.0,632.2 761.6,633.0 763.2,636.5 C764.8,640.0 764.8,648.1 767.1,652.0 C769.4,655.9 773.6,658.5 776.8,659.8 C780.0,661.1 783.2,661.1 786.5,659.8 C789.8,658.5 794.0,655.9 796.3,652.0 C798.6,648.1 800.1,641.0 800.1,636.5 C800.1,632.0 797.9,628.8 796.3,624.9 C794.7,621.0 792.2,617.1 790.4,613.2 C788.6,609.3 786.2,605.8 785.6,601.6 C785.0,597.4 785.4,590.8 786.5,588.0 C787.6,585.2 790.1,586.0 792.4,585.0 C794.7,584.0 798.2,584.9 800.1,582.1 C802.0,579.4 802.4,573.0 804.0,568.5 C805.6,564.0 807.5,558.3 809.8,555.0 C812.1,551.7 814.7,550.1 817.9,548.5 C821.1,546.9 825.0,545.9 828.9,545.5 C832.8,545.1 837.0,545.8 841.0,546.1 C845.0,546.4 850.2,546.1 853.2,547.3 C856.2,548.5 857.7,550.6 859.3,553.4 C860.9,556.2 861.7,560.4 862.9,564.3 C864.1,568.1 865.5,572.5 866.5,576.5 C867.5,580.5 868.8,584.6 869.0,588.6 C869.2,592.6 868.2,597.9 867.8,600.8 C867.4,603.7 866.3,602.9 866.8,605.8 C867.3,608.7 868.5,614.7 870.8,618.4 C873.0,622.1 876.9,626.0 880.3,627.9 C883.7,629.8 887.6,628.2 891.3,629.5 C895.0,630.8 899.2,633.4 902.4,635.8 C905.6,638.2 908.5,640.3 910.3,643.7 C912.1,647.1 911.8,652.1 913.4,656.3 C915.0,660.5 917.2,665.6 919.8,669.0 C922.4,672.4 926.1,675.6 929.2,676.9 C932.4,678.2 936.1,677.4 938.7,676.9 C941.3,676.4 943.3,674.9 945.0,673.7 C946.7,672.6 948.3,670.6 949.0,670.0 L960.0,680.0 L960.0,730.0 L720.0,730.0 L720.0,626.0Z" fill="#ff3300"/><path d="M744.8,626.8 C745.3,627.0 745.6,627.1 747.7,627.8 C749.8,628.4 754.8,629.2 757.4,630.7 C760.0,632.2 761.6,633.0 763.2,636.5 C764.8,640.0 764.8,648.1 767.1,652.0 C769.4,655.9 773.6,658.5 776.8,659.8 C780.0,661.1 783.2,661.1 786.5,659.8 C789.8,658.5 794.0,655.9 796.3,652.0 C798.6,648.1 800.1,641.0 800.1,636.5 C800.1,632.0 797.9,628.8 796.3,624.9 C794.7,621.0 792.2,617.1 790.4,613.2 C788.6,609.3 786.2,605.8 785.6,601.6 C785.0,597.4 785.4,590.8 786.5,588.0 C787.6,585.2 790.1,586.0 792.4,585.0 C794.7,584.0 798.2,584.9 800.1,582.1 C802.0,579.4 802.4,573.0 804.0,568.5 C805.6,564.0 807.5,558.3 809.8,555.0 C812.1,551.7 814.7,550.1 817.9,548.5 C821.1,546.9 825.0,545.9 828.9,545.5 C832.8,545.1 837.0,545.8 841.0,546.1 C845.0,546.4 850.2,546.1 853.2,547.3 C856.2,548.5 857.7,550.6 859.3,553.4 C860.9,556.2 861.7,560.4 862.9,564.3 C864.1,568.1 865.5,572.5 866.5,576.5 C867.5,580.5 868.8,584.6 869.0,588.6 C869.2,592.6 868.2,597.9 867.8,600.8 C867.4,603.7 866.3,602.9 866.8,605.8 C867.3,608.7 868.5,614.7 870.8,618.4 C873.0,622.1 876.9,626.0 880.3,627.9 C883.7,629.8 887.6,628.2 891.3,629.5 C895.0,630.8 899.2,633.4 902.4,635.8 C905.6,638.2 908.5,640.3 910.3,643.7 C912.1,647.1 911.8,652.1 913.4,656.3 C915.0,660.5 917.2,665.6 919.8,669.0 C922.4,672.4 926.1,675.6 929.2,676.9 C932.4,678.2 936.1,677.4 938.7,676.9 C941.3,676.4 943.3,674.9 945.0,673.7 C946.7,672.6 948.3,670.6 949.0,670.0" class="cl"/>
<path d="M809.4,608.0 C809.2,605.0 809.2,599.4 810.0,594.7 C810.8,590.1 812.4,584.2 814.3,580.1 C816.2,576.0 818.8,573.1 821.6,570.4 C824.4,567.7 828.1,565.0 831.3,563.7 C834.5,562.4 837.8,562.2 841.0,562.5 C844.2,562.8 848.6,563.8 850.8,565.5 C853.0,567.2 854.0,569.8 854.4,572.8 C854.8,575.8 854.0,580.5 853.2,583.7 C852.4,586.9 850.9,589.4 849.5,592.2 C848.1,595.1 846.5,598.6 844.7,600.8 C842.9,603.0 841.0,604.0 838.6,605.6 C836.2,607.2 832.5,608.9 830.1,610.5 C827.7,612.1 826.2,614.3 824.0,615.3 C821.8,616.3 818.8,616.9 816.7,616.5 C814.6,616.1 812.5,614.3 811.3,612.9 C810.1,611.5 809.6,611.0 809.4,608.0Z" fill="#cc0000" class="cf"/>
<path d="M784.3,681.0 C786.5,680.9 793.3,681.2 797.4,680.2 C801.5,679.2 806.2,677.8 808.9,675.3 C811.6,672.8 813.5,669.3 813.8,665.5 C814.1,661.7 810.8,655.9 810.5,652.3 C810.2,648.7 810.3,645.9 812.2,644.1 C814.1,642.3 818.7,642.0 822.0,641.7 C825.3,641.4 828.6,642.9 831.9,642.5 C835.2,642.1 838.4,640.8 841.7,639.2 C845.0,637.6 848.5,634.1 851.5,632.7 C854.5,631.3 857.0,630.5 859.8,631.0 C862.5,631.5 865.9,633.2 868.0,635.9 C870.1,638.5 869.3,644.3 872.4,646.9 C875.5,649.5 882.6,649.8 886.6,651.6 C890.6,653.4 894.2,654.5 896.1,657.9 C898.0,661.3 898.0,667.1 897.7,672.1 C897.4,677.1 895.3,683.1 894.5,687.9 C893.7,692.6 893.7,697.4 892.9,700.6 C892.1,703.8 890.2,705.9 889.7,707.0 L890.0,730.0 L784.0,730.0Z" fill="#cc0000"/><path d="M784.3,681.0 C786.5,680.9 793.3,681.2 797.4,680.2 C801.5,679.2 806.2,677.8 808.9,675.3 C811.6,672.8 813.5,669.3 813.8,665.5 C814.1,661.7 810.8,655.9 810.5,652.3 C810.2,648.7 810.3,645.9 812.2,644.1 C814.1,642.3 818.7,642.0 822.0,641.7 C825.3,641.4 828.6,642.9 831.9,642.5 C835.2,642.1 838.4,640.8 841.7,639.2 C845.0,637.6 848.5,634.1 851.5,632.7 C854.5,631.3 857.0,630.5 859.8,631.0 C862.5,631.5 865.9,633.2 868.0,635.9 C870.1,638.5 869.3,644.3 872.4,646.9 C875.5,649.5 882.6,649.8 886.6,651.6 C890.6,653.4 894.2,654.5 896.1,657.9 C898.0,661.3 898.0,667.1 897.7,672.1 C897.4,677.1 895.3,683.1 894.5,687.9 C893.7,692.6 893.7,697.4 892.9,700.6 C892.1,703.8 890.2,705.9 889.7,707.0" class="cl"/>
<path d="M815.5,591.0 C815.5,588.2 817.4,583.9 819.2,581.3 C821.0,578.7 823.9,577.0 826.5,575.2 C829.1,573.4 832.4,571.2 835.0,570.4 C837.6,569.6 840.2,569.6 842.2,570.4 C844.2,571.2 846.3,572.8 847.1,575.2 C847.9,577.6 847.9,582.0 847.1,585.0 C846.3,588.0 844.2,591.1 842.2,593.5 C840.2,595.9 837.6,598.3 835.0,599.5 C832.4,600.7 829.1,601.0 826.5,600.8 C823.9,600.6 821.0,599.9 819.2,598.3 C817.4,596.7 815.5,593.8 815.5,591.0Z" fill="#880000" class="cf"/>
<path d="M802.3,693.0 C804.2,692.5 810.0,692.0 813.8,690.1 C817.6,688.2 822.3,684.9 825.3,681.9 C828.3,678.9 831.6,675.3 831.9,672.0 C832.2,668.7 828.8,664.9 826.9,662.2 C825.0,659.5 821.5,657.5 820.4,655.6 C819.3,653.7 818.5,651.9 820.4,650.7 C822.3,649.5 827.5,648.8 831.9,648.2 C836.3,647.7 842.2,647.2 846.6,647.4 C851.0,647.5 855.4,648.7 858.1,649.1 C860.8,649.5 860.8,648.3 862.9,650.0 C865.0,651.7 867.9,657.1 870.8,659.5 C873.7,661.9 878.2,661.6 880.3,664.2 C882.4,666.8 883.1,671.3 883.4,675.3 C883.7,679.2 882.7,683.7 881.9,687.9 C881.1,692.1 879.5,697.1 878.7,700.6 C877.9,704.1 877.4,707.6 877.1,709.0 L877.0,730.0 L800.0,730.0Z" fill="#6a0000"/><path d="M802.3,693.0 C804.2,692.5 810.0,692.0 813.8,690.1 C817.6,688.2 822.3,684.9 825.3,681.9 C828.3,678.9 831.6,675.3 831.9,672.0 C832.2,668.7 828.8,664.9 826.9,662.2 C825.0,659.5 821.5,657.5 820.4,655.6 C819.3,653.7 818.5,651.9 820.4,650.7 C822.3,649.5 827.5,648.8 831.9,648.2 C836.3,647.7 842.2,647.2 846.6,647.4 C851.0,647.5 855.4,648.7 858.1,649.1 C860.8,649.5 860.8,648.3 862.9,650.0 C865.0,651.7 867.9,657.1 870.8,659.5 C873.7,661.9 878.2,661.6 880.3,664.2 C882.4,666.8 883.1,671.3 883.4,675.3 C883.7,679.2 882.7,683.7 881.9,687.9 C881.1,692.1 879.5,697.1 878.7,700.6 C877.9,704.1 877.4,707.6 877.1,709.0" class="cl"/>
<path d="M819.8,703.1 C820.8,701.7 823.8,697.7 825.8,694.7 C827.8,691.7 830.2,688.1 831.8,685.1 C833.4,682.1 835.4,679.4 835.4,676.6 C835.4,673.8 833.2,671.0 831.8,668.2 C830.4,665.4 827.6,662.0 827.0,659.8 C826.4,657.6 826.6,656.0 828.2,654.9 C829.8,653.8 833.2,653.5 836.6,653.1 C840.0,652.7 844.9,652.0 848.7,652.3 C852.5,652.6 856.7,653.2 859.5,654.9 C862.3,656.5 863.9,659.4 865.5,662.2 C867.1,665.0 868.2,668.4 869.2,671.8 C870.2,675.2 871.1,678.5 871.6,682.7 C872.1,686.9 872.2,692.9 872.2,697.1 C872.2,701.3 871.7,706.2 871.6,708.0" class="cl"/>
<path d="M833.0,708.0 C834.2,705.8 838.2,698.5 840.2,694.7 C842.2,690.9 844.1,688.1 845.1,685.1 C846.1,682.1 847.1,679.4 846.3,676.6 C845.5,673.8 842.0,670.6 840.2,668.2 C838.4,665.8 836.0,663.8 835.4,662.2 C834.8,660.6 835.2,659.4 836.6,658.6 C838.0,657.8 841.3,657.1 843.9,657.3 C846.5,657.5 849.9,658.2 852.3,659.8 C854.7,661.4 856.5,664.2 858.3,667.0 C860.1,669.8 861.9,673.2 863.1,676.6 C864.3,680.0 865.0,682.3 865.5,687.5 C866.0,692.7 866.0,704.6 866.1,708.0" class="cl"/>
<path d="M821.6,587.4 C822.1,585.4 824.3,581.9 826.5,580.1 C828.7,578.3 832.6,576.7 835.0,576.5 C837.4,576.3 840.0,577.1 841.0,578.9 C842.0,580.7 841.6,585.2 841.0,587.4 C840.4,589.6 839.2,591.1 837.4,592.2 C835.6,593.3 832.4,594.1 830.1,594.1 C827.8,594.1 824.8,593.3 823.4,592.2 C822.0,591.1 821.1,589.4 821.6,587.4Z" fill="#660000" class="cf"/>
<path d="M821.2,629.4 C821.7,628.0 824.0,626.3 826.9,625.3 C829.8,624.3 835.4,625.4 838.4,623.6 C841.4,621.8 842.8,617.7 845.0,614.6 C847.2,611.5 850.0,606.2 851.5,604.8 C853.0,603.4 854.0,604.8 854.0,606.4 C854.0,608.0 853.0,611.9 851.5,614.6 C850.0,617.3 846.9,620.1 845.0,622.8 C843.1,625.5 842.2,629.0 840.0,631.0 C837.8,633.0 834.6,634.7 831.9,635.1 C829.2,635.5 825.5,634.5 823.7,633.5 C821.9,632.5 820.7,630.8 821.2,629.4Z" fill="#ff9900" class="cf"/>
<path d="M882.3,576.5 C883.2,575.5 884.8,577.6 886.0,578.9 C887.2,580.1 888.9,581.6 889.5,584.0 C890.1,586.4 890.3,591.2 889.7,593.2 C889.1,595.2 887.2,596.5 886.0,596.3 C884.8,596.1 883.2,594.1 882.3,592.2 C881.4,590.3 880.5,587.5 880.5,584.9 C880.5,582.3 881.4,577.5 882.3,576.5Z" fill="#c4ff1e" class="cf"/>
</g></g>
<path d="M839.7,469.8 L861.3,450.8 L883.1,469.8" fill="none" stroke="#000" stroke-width="1.7" stroke-linejoin="miter"/>
<path d="M981.8,574.4 L985.1,571.2 L988.4,571.0 L991.6,573.0 L992.9,576.8 L993.2,592.6 L994.3,609.8 L993.5,617.3 L990.3,622.0 L985.5,623.6 L979.7,619.4" fill="none" stroke="#000" stroke-width="1.6" stroke-linejoin="round"/>
<path d="M741.2,574.4 L737.9,571.2 L734.6,571.0 L731.4,573.0 L730.1,576.8 L729.8,592.6 L728.7,609.8 L729.5,617.3 L732.7,622.0 L737.5,623.6 L743.3,619.4" fill="none" stroke="#000" stroke-width="1.6" stroke-linejoin="round"/>
<circle cx="861.5" cy="589.8" r="120.6" fill="none" stroke="#000" stroke-width="1.7"/>
</svg>
</body></html>
